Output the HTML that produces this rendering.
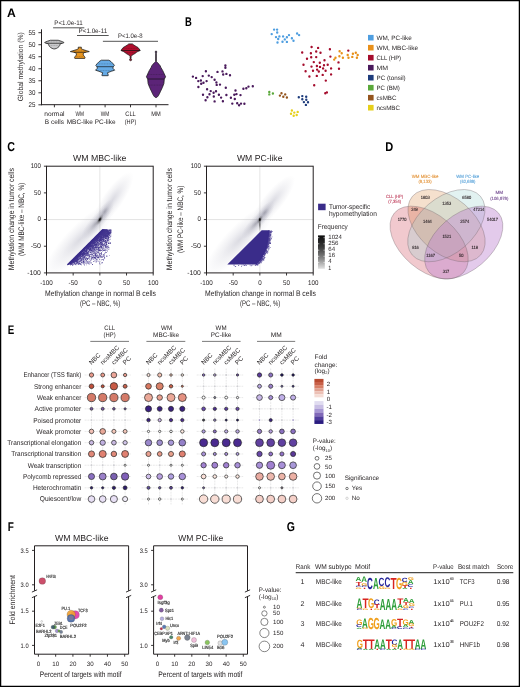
<!DOCTYPE html>
<html><head><meta charset="utf-8"><style>
html,body{margin:0;padding:0;background:#fff;}
svg{display:block;will-change:transform;font-family:"Liberation Sans",sans-serif;text-rendering:geometricPrecision;}
</style></head><body>
<svg width="520" height="687" viewBox="0 0 520 687" fill="#231f20">
<rect x="0" y="0" width="520" height="687" fill="#fff"/>
<text x="6.90" y="16.80" font-size="12.21" fill="#000" font-weight="bold" textLength="8.80" lengthAdjust="spacingAndGlyphs" >A</text>
<text x="185.00" y="25.60" font-size="12.65" fill="#000" font-weight="bold" textLength="6.80" lengthAdjust="spacingAndGlyphs" >B</text>
<text x="7.30" y="150.80" font-size="12.94" fill="#000" font-weight="bold" textLength="7.70" lengthAdjust="spacingAndGlyphs" >C</text>
<text x="385.20" y="150.80" font-size="12.65" fill="#000" font-weight="bold" textLength="8.00" lengthAdjust="spacingAndGlyphs" >D</text>
<text x="7.70" y="333.80" font-size="12.5" fill="#000" font-weight="bold" textLength="6.50" lengthAdjust="spacingAndGlyphs" >E</text>
<text x="7.70" y="530.80" font-size="12.65" fill="#000" font-weight="bold" textLength="6.10" lengthAdjust="spacingAndGlyphs" >F</text>
<text x="286.80" y="530.90" font-size="12.79" fill="#000" font-weight="bold" textLength="8.20" lengthAdjust="spacingAndGlyphs" >G</text>
<line x1="41.50" y1="29.30" x2="41.50" y2="105.20" stroke="#231f20" stroke-width="1" />
<line x1="41.00" y1="104.70" x2="168.50" y2="104.70" stroke="#231f20" stroke-width="1" />
<line x1="38.40" y1="32.70" x2="41.50" y2="32.70" stroke="#231f20" stroke-width="0.9" />
<text x="35.40" y="35.10" font-size="7.0" text-anchor="end" textLength="6.90" lengthAdjust="spacingAndGlyphs" >55</text>
<line x1="38.40" y1="44.72" x2="41.50" y2="44.72" stroke="#231f20" stroke-width="0.9" />
<text x="35.40" y="47.12" font-size="7.0" text-anchor="end" textLength="6.90" lengthAdjust="spacingAndGlyphs" >50</text>
<line x1="38.40" y1="56.74" x2="41.50" y2="56.74" stroke="#231f20" stroke-width="0.9" />
<text x="35.40" y="59.14" font-size="7.0" text-anchor="end" textLength="6.90" lengthAdjust="spacingAndGlyphs" >45</text>
<line x1="38.40" y1="68.76" x2="41.50" y2="68.76" stroke="#231f20" stroke-width="0.9" />
<text x="35.40" y="71.16" font-size="7.0" text-anchor="end" textLength="6.90" lengthAdjust="spacingAndGlyphs" >40</text>
<line x1="38.40" y1="80.78" x2="41.50" y2="80.78" stroke="#231f20" stroke-width="0.9" />
<text x="35.40" y="83.18" font-size="7.0" text-anchor="end" textLength="6.90" lengthAdjust="spacingAndGlyphs" >35</text>
<line x1="38.40" y1="92.80" x2="41.50" y2="92.80" stroke="#231f20" stroke-width="0.9" />
<text x="35.40" y="95.20" font-size="7.0" text-anchor="end" textLength="6.90" lengthAdjust="spacingAndGlyphs" >30</text>
<line x1="38.40" y1="104.82" x2="41.50" y2="104.82" stroke="#231f20" stroke-width="0.9" />
<text x="35.40" y="107.22" font-size="7.0" text-anchor="end" textLength="6.90" lengthAdjust="spacingAndGlyphs" >25</text>
<text x="22.80" y="66.70" font-size="7.6" text-anchor="middle" textLength="69.00" lengthAdjust="spacingAndGlyphs" transform="rotate(-90 22.80 66.70)" >Global methylation (%)</text>
<line x1="54.40" y1="104.70" x2="54.40" y2="107.30" stroke="#231f20" stroke-width="0.9" />
<line x1="79.80" y1="104.70" x2="79.80" y2="107.30" stroke="#231f20" stroke-width="0.9" />
<line x1="105.10" y1="104.70" x2="105.10" y2="107.30" stroke="#231f20" stroke-width="0.9" />
<line x1="130.50" y1="104.70" x2="130.50" y2="107.30" stroke="#231f20" stroke-width="0.9" />
<line x1="156.00" y1="104.70" x2="156.00" y2="107.30" stroke="#231f20" stroke-width="0.9" />
<text x="54.40" y="116.20" font-size="6.6" text-anchor="middle" textLength="20.30" lengthAdjust="spacingAndGlyphs" >normal</text>
<text x="54.40" y="124.10" font-size="6.6" text-anchor="middle" textLength="19.10" lengthAdjust="spacingAndGlyphs" >B cells</text>
<text x="79.80" y="116.20" font-size="6.6" text-anchor="middle" textLength="8.50" lengthAdjust="spacingAndGlyphs" >WM</text>
<text x="79.80" y="124.10" font-size="6.6" text-anchor="middle" textLength="26.20" lengthAdjust="spacingAndGlyphs" >MBC-like</text>
<text x="105.10" y="116.20" font-size="6.6" text-anchor="middle" textLength="8.50" lengthAdjust="spacingAndGlyphs" >WM</text>
<text x="105.10" y="124.10" font-size="6.6" text-anchor="middle" textLength="20.70" lengthAdjust="spacingAndGlyphs" >PC-like</text>
<text x="130.50" y="116.20" font-size="6.6" text-anchor="middle" textLength="10.50" lengthAdjust="spacingAndGlyphs" >CLL</text>
<text x="130.50" y="124.10" font-size="6.6" text-anchor="middle" textLength="11.50" lengthAdjust="spacingAndGlyphs" >(HP)</text>
<text x="156.00" y="116.20" font-size="6.6" text-anchor="middle" textLength="9.50" lengthAdjust="spacingAndGlyphs" >MM</text>
<line x1="53.10" y1="27.80" x2="84.30" y2="27.80" stroke="#555" stroke-width="1" />
<text x="54.30" y="25.10" font-size="6.5" textLength="28.40" lengthAdjust="spacingAndGlyphs" >P&lt;1.0e-11</text>
<line x1="77.00" y1="35.50" x2="108.70" y2="35.50" stroke="#555" stroke-width="1" />
<text x="78.60" y="32.90" font-size="6.5" textLength="28.60" lengthAdjust="spacingAndGlyphs" >P&lt;1.0e-11</text>
<line x1="102.90" y1="41.30" x2="158.00" y2="41.30" stroke="#555" stroke-width="1" />
<text x="118.00" y="38.30" font-size="6.5" textLength="24.50" lengthAdjust="spacingAndGlyphs" >P&lt;1.0e-8</text>
<path d="M58.20,40.25 L61.30,41.25 L63.90,42.40 L63.70,42.90 L61.30,43.50 L59.90,44.30 L59.70,45.50 L59.00,46.60 L57.80,47.60 L56.50,48.40 L54.90,48.90 L53.70,48.90 L52.10,48.40 L50.80,47.60 L49.60,46.60 L48.90,45.50 L48.70,44.30 L47.30,43.50 L44.90,42.90 L44.70,42.40 L47.30,41.25 L50.40,40.25Z" fill="#c9c9cb" stroke="#1a1a1a" stroke-width="0.75" stroke-linejoin="round"/>
<line x1="46.50" y1="43.30" x2="62.10" y2="43.30" stroke="#111" stroke-width="0.8" opacity="0.85"/>
<line x1="46.33" y1="41.90" x2="62.27" y2="41.90" stroke="#111" stroke-width="0.5" opacity="0.45" stroke-dasharray="1 0.6"/>
<line x1="49.37" y1="45.30" x2="59.23" y2="45.30" stroke="#111" stroke-width="0.5" opacity="0.45" stroke-dasharray="1 0.6"/>
<path d="M81.40,47.20 L81.10,48.60 L82.80,49.50 L86.50,50.70 L89.30,51.60 L84.60,52.50 L83.10,53.70 L83.30,55.10 L84.50,56.50 L85.10,57.80 L84.80,58.40 L74.80,58.40 L74.50,57.80 L75.10,56.50 L76.30,55.10 L76.50,53.70 L75.00,52.50 L70.30,51.60 L73.10,50.70 L76.80,49.50 L78.50,48.60 L78.20,47.20Z" fill="#e8951f" stroke="#1a1a1a" stroke-width="0.75" stroke-linejoin="round"/>
<line x1="73.96" y1="52.30" x2="85.64" y2="52.30" stroke="#111" stroke-width="0.8" opacity="0.85"/>
<line x1="72.98" y1="50.90" x2="86.62" y2="50.90" stroke="#111" stroke-width="0.5" opacity="0.45" stroke-dasharray="1 0.6"/>
<line x1="75.77" y1="56.30" x2="83.83" y2="56.30" stroke="#111" stroke-width="0.5" opacity="0.45" stroke-dasharray="1 0.6"/>
<path d="M108.90,60.20 L111.00,61.60 L112.90,63.50 L114.40,65.30 L113.40,66.70 L112.70,68.10 L114.70,70.20 L111.30,71.30 L107.50,72.70 L107.90,74.10 L108.40,75.20 L108.10,75.70 L102.10,75.70 L101.80,75.20 L102.30,74.10 L102.70,72.70 L98.90,71.30 L95.50,70.20 L97.50,68.10 L96.80,66.70 L95.80,65.30 L97.30,63.50 L99.20,61.60 L101.30,60.20Z" fill="#66abe6" stroke="#1a1a1a" stroke-width="0.75" stroke-linejoin="round"/>
<line x1="96.80" y1="66.70" x2="113.40" y2="66.70" stroke="#111" stroke-width="0.8" opacity="0.85"/>
<line x1="97.47" y1="63.90" x2="112.73" y2="63.90" stroke="#111" stroke-width="0.5" opacity="0.45" stroke-dasharray="1 0.6"/>
<line x1="96.62" y1="70.40" x2="113.58" y2="70.40" stroke="#111" stroke-width="0.5" opacity="0.45" stroke-dasharray="1 0.6"/>
<path d="M132.40,43.90 L133.80,45.00 L136.20,46.50 L138.00,47.50 L139.20,49.00 L140.20,50.50 L137.80,51.50 L136.20,52.50 L135.00,53.50 L133.20,54.50 L131.70,55.50 L131.10,56.50 L131.00,58.80 L131.60,59.50 L131.50,60.30 L130.70,60.70 L130.50,60.70 L129.70,60.30 L129.60,59.50 L130.20,58.80 L130.10,56.50 L129.50,55.50 L128.00,54.50 L126.20,53.50 L125.00,52.50 L123.40,51.50 L121.00,50.50 L122.00,49.00 L123.20,47.50 L125.00,46.50 L127.40,45.00 L128.80,43.90Z" fill="#b10f2e" stroke="#1a1a1a" stroke-width="0.75" stroke-linejoin="round"/>
<line x1="121.00" y1="50.50" x2="140.20" y2="50.50" stroke="#111" stroke-width="0.8" opacity="0.85"/>
<line x1="123.06" y1="48.30" x2="138.14" y2="48.30" stroke="#111" stroke-width="0.5" opacity="0.45" stroke-dasharray="1 0.6"/>
<line x1="125.62" y1="52.60" x2="135.58" y2="52.60" stroke="#111" stroke-width="0.5" opacity="0.45" stroke-dasharray="1 0.6"/>
<path d="M156.60,51.20 L156.70,52.20 L156.30,53.20 L156.35,61.50 L157.40,62.60 L159.00,64.20 L160.20,65.80 L161.00,67.70 L162.80,70.70 L165.60,76.80 L164.30,79.20 L163.90,83.60 L162.40,87.40 L160.60,91.20 L159.40,93.80 L158.30,95.80 L157.20,97.10 L156.20,97.60 L155.80,97.60 L154.80,97.10 L153.70,95.80 L152.60,93.80 L151.40,91.20 L149.60,87.40 L148.10,83.60 L147.70,79.20 L146.40,76.80 L149.20,70.70 L151.00,67.70 L151.80,65.80 L153.00,64.20 L154.60,62.60 L155.65,61.50 L155.70,53.20 L155.30,52.20 L155.40,51.20Z" fill="#5c2478" stroke="#1a1a1a" stroke-width="0.75" stroke-linejoin="round"/>
<line x1="147.59" y1="79.00" x2="164.41" y2="79.00" stroke="#111" stroke-width="0.8" opacity="0.85"/>
<line x1="147.96" y1="74.50" x2="164.04" y2="74.50" stroke="#111" stroke-width="0.5" opacity="0.45" stroke-dasharray="1 0.6"/>
<line x1="149.19" y1="85.10" x2="162.81" y2="85.10" stroke="#111" stroke-width="0.5" opacity="0.45" stroke-dasharray="1 0.6"/>
<path d="M224.2,65.4a1.2,1.2 0 1,0 2.4,0a1.2,1.2 0 1,0 -2.4,0M224.2,67.7a1.2,1.2 0 1,0 2.4,0a1.2,1.2 0 1,0 -2.4,0M204.7,71.2a1.2,1.2 0 1,0 2.4,0a1.2,1.2 0 1,0 -2.4,0M216.3,71.9a1.2,1.2 0 1,0 2.4,0a1.2,1.2 0 1,0 -2.4,0M221.3,71.4a1.2,1.2 0 1,0 2.4,0a1.2,1.2 0 1,0 -2.4,0M222.0,74.5a1.2,1.2 0 1,0 2.4,0a1.2,1.2 0 1,0 -2.4,0M225.2,73.9a1.2,1.2 0 1,0 2.4,0a1.2,1.2 0 1,0 -2.4,0M228.8,75.3a1.2,1.2 0 1,0 2.4,0a1.2,1.2 0 1,0 -2.4,0M191.7,76.6a1.2,1.2 0 1,0 2.4,0a1.2,1.2 0 1,0 -2.4,0M194.9,77.9a1.2,1.2 0 1,0 2.4,0a1.2,1.2 0 1,0 -2.4,0M201.5,76.1a1.2,1.2 0 1,0 2.4,0a1.2,1.2 0 1,0 -2.4,0M207.6,75.6a1.2,1.2 0 1,0 2.4,0a1.2,1.2 0 1,0 -2.4,0M210.5,77.1a1.2,1.2 0 1,0 2.4,0a1.2,1.2 0 1,0 -2.4,0M197.1,81.1a1.2,1.2 0 1,0 2.4,0a1.2,1.2 0 1,0 -2.4,0M199.7,80.5a1.2,1.2 0 1,0 2.4,0a1.2,1.2 0 1,0 -2.4,0M205.4,81.1a1.2,1.2 0 1,0 2.4,0a1.2,1.2 0 1,0 -2.4,0M213.4,79.8a1.2,1.2 0 1,0 2.4,0a1.2,1.2 0 1,0 -2.4,0M200.0,83.8a1.2,1.2 0 1,0 2.4,0a1.2,1.2 0 1,0 -2.4,0M202.3,82.8a1.2,1.2 0 1,0 2.4,0a1.2,1.2 0 1,0 -2.4,0M215.2,82.4a1.2,1.2 0 1,0 2.4,0a1.2,1.2 0 1,0 -2.4,0M215.5,84.9a1.2,1.2 0 1,0 2.4,0a1.2,1.2 0 1,0 -2.4,0M218.8,84.6a1.2,1.2 0 1,0 2.4,0a1.2,1.2 0 1,0 -2.4,0M197.2,87.0a1.2,1.2 0 1,0 2.4,0a1.2,1.2 0 1,0 -2.4,0M205.9,89.2a1.2,1.2 0 1,0 2.4,0a1.2,1.2 0 1,0 -2.4,0M224.6,87.7a1.2,1.2 0 1,0 2.4,0a1.2,1.2 0 1,0 -2.4,0M209.5,91.1a1.2,1.2 0 1,0 2.4,0a1.2,1.2 0 1,0 -2.4,0M212.4,92.8a1.2,1.2 0 1,0 2.4,0a1.2,1.2 0 1,0 -2.4,0M214.8,91.3a1.2,1.2 0 1,0 2.4,0a1.2,1.2 0 1,0 -2.4,0M201.8,94.7a1.2,1.2 0 1,0 2.4,0a1.2,1.2 0 1,0 -2.4,0M208.3,94.2a1.2,1.2 0 1,0 2.4,0a1.2,1.2 0 1,0 -2.4,0M217.7,94.7a1.2,1.2 0 1,0 2.4,0a1.2,1.2 0 1,0 -2.4,0M225.2,95.0a1.2,1.2 0 1,0 2.4,0a1.2,1.2 0 1,0 -2.4,0M206.2,97.3a1.2,1.2 0 1,0 2.4,0a1.2,1.2 0 1,0 -2.4,0M212.6,96.5a1.2,1.2 0 1,0 2.4,0a1.2,1.2 0 1,0 -2.4,0M219.9,97.6a1.2,1.2 0 1,0 2.4,0a1.2,1.2 0 1,0 -2.4,0M204.4,100.3a1.2,1.2 0 1,0 2.4,0a1.2,1.2 0 1,0 -2.4,0M213.4,101.4a1.2,1.2 0 1,0 2.4,0a1.2,1.2 0 1,0 -2.4,0M221.7,101.2a1.2,1.2 0 1,0 2.4,0a1.2,1.2 0 1,0 -2.4,0M229.7,97.8a1.2,1.2 0 1,0 2.4,0a1.2,1.2 0 1,0 -2.4,0M233.6,99.0a1.2,1.2 0 1,0 2.4,0a1.2,1.2 0 1,0 -2.4,0M234.3,90.5a1.2,1.2 0 1,0 2.4,0a1.2,1.2 0 1,0 -2.4,0M233.1,94.7a1.2,1.2 0 1,0 2.4,0a1.2,1.2 0 1,0 -2.4,0M235.3,94.1a1.2,1.2 0 1,0 2.4,0a1.2,1.2 0 1,0 -2.4,0M239.3,95.1a1.2,1.2 0 1,0 2.4,0a1.2,1.2 0 1,0 -2.4,0M242.2,88.8a1.2,1.2 0 1,0 2.4,0a1.2,1.2 0 1,0 -2.4,0M245.1,88.2a1.2,1.2 0 1,0 2.4,0a1.2,1.2 0 1,0 -2.4,0M247.3,86.6a1.2,1.2 0 1,0 2.4,0a1.2,1.2 0 1,0 -2.4,0M251.6,86.3a1.2,1.2 0 1,0 2.4,0a1.2,1.2 0 1,0 -2.4,0M231.1,103.6a1.2,1.2 0 1,0 2.4,0a1.2,1.2 0 1,0 -2.4,0M236.0,103.3a1.2,1.2 0 1,0 2.4,0a1.2,1.2 0 1,0 -2.4,0M237.9,105.2a1.2,1.2 0 1,0 2.4,0a1.2,1.2 0 1,0 -2.4,0M239.8,103.6a1.2,1.2 0 1,0 2.4,0a1.2,1.2 0 1,0 -2.4,0M243.2,103.8a1.2,1.2 0 1,0 2.4,0a1.2,1.2 0 1,0 -2.4,0" fill="#4a1a5c"/>
<path d="M272.9,29.6a1.2,1.2 0 1,0 2.4,0a1.2,1.2 0 1,0 -2.4,0M275.9,29.6a1.2,1.2 0 1,0 2.4,0a1.2,1.2 0 1,0 -2.4,0M276.0,32.5a1.2,1.2 0 1,0 2.4,0a1.2,1.2 0 1,0 -2.4,0M270.5,34.1a1.2,1.2 0 1,0 2.4,0a1.2,1.2 0 1,0 -2.4,0M274.8,37.1a1.2,1.2 0 1,0 2.4,0a1.2,1.2 0 1,0 -2.4,0M278.2,36.4a1.2,1.2 0 1,0 2.4,0a1.2,1.2 0 1,0 -2.4,0M277.0,39.0a1.2,1.2 0 1,0 2.4,0a1.2,1.2 0 1,0 -2.4,0M276.3,42.5a1.2,1.2 0 1,0 2.4,0a1.2,1.2 0 1,0 -2.4,0M281.9,36.4a1.2,1.2 0 1,0 2.4,0a1.2,1.2 0 1,0 -2.4,0M285.7,37.3a1.2,1.2 0 1,0 2.4,0a1.2,1.2 0 1,0 -2.4,0M287.8,35.1a1.2,1.2 0 1,0 2.4,0a1.2,1.2 0 1,0 -2.4,0M283.6,39.4a1.2,1.2 0 1,0 2.4,0a1.2,1.2 0 1,0 -2.4,0M281.3,41.8a1.2,1.2 0 1,0 2.4,0a1.2,1.2 0 1,0 -2.4,0M285.7,41.9a1.2,1.2 0 1,0 2.4,0a1.2,1.2 0 1,0 -2.4,0M290.7,38.3a1.2,1.2 0 1,0 2.4,0a1.2,1.2 0 1,0 -2.4,0M292.3,40.8a1.2,1.2 0 1,0 2.4,0a1.2,1.2 0 1,0 -2.4,0M295.9,33.5a1.2,1.2 0 1,0 2.4,0a1.2,1.2 0 1,0 -2.4,0M297.9,35.1a1.2,1.2 0 1,0 2.4,0a1.2,1.2 0 1,0 -2.4,0" fill="#4f9ee0"/>
<path d="M310.4,47.0a1.2,1.2 0 1,0 2.4,0a1.2,1.2 0 1,0 -2.4,0M316.9,47.9a1.2,1.2 0 1,0 2.4,0a1.2,1.2 0 1,0 -2.4,0M328.7,49.3a1.2,1.2 0 1,0 2.4,0a1.2,1.2 0 1,0 -2.4,0M301.0,52.5a1.2,1.2 0 1,0 2.4,0a1.2,1.2 0 1,0 -2.4,0M309.7,53.3a1.2,1.2 0 1,0 2.4,0a1.2,1.2 0 1,0 -2.4,0M315.0,51.5a1.2,1.2 0 1,0 2.4,0a1.2,1.2 0 1,0 -2.4,0M319.3,52.7a1.2,1.2 0 1,0 2.4,0a1.2,1.2 0 1,0 -2.4,0M305.8,58.8a1.2,1.2 0 1,0 2.4,0a1.2,1.2 0 1,0 -2.4,0M310.0,57.3a1.2,1.2 0 1,0 2.4,0a1.2,1.2 0 1,0 -2.4,0M315.0,57.1a1.2,1.2 0 1,0 2.4,0a1.2,1.2 0 1,0 -2.4,0M329.2,56.6a1.2,1.2 0 1,0 2.4,0a1.2,1.2 0 1,0 -2.4,0M323.3,60.2a1.2,1.2 0 1,0 2.4,0a1.2,1.2 0 1,0 -2.4,0M312.6,62.1a1.2,1.2 0 1,0 2.4,0a1.2,1.2 0 1,0 -2.4,0M318.6,62.8a1.2,1.2 0 1,0 2.4,0a1.2,1.2 0 1,0 -2.4,0M302.3,64.7a1.2,1.2 0 1,0 2.4,0a1.2,1.2 0 1,0 -2.4,0M310.3,66.6a1.2,1.2 0 1,0 2.4,0a1.2,1.2 0 1,0 -2.4,0M315.7,66.0a1.2,1.2 0 1,0 2.4,0a1.2,1.2 0 1,0 -2.4,0M318.8,66.9a1.2,1.2 0 1,0 2.4,0a1.2,1.2 0 1,0 -2.4,0M322.8,65.2a1.2,1.2 0 1,0 2.4,0a1.2,1.2 0 1,0 -2.4,0M326.5,64.8a1.2,1.2 0 1,0 2.4,0a1.2,1.2 0 1,0 -2.4,0M337.3,62.4a1.2,1.2 0 1,0 2.4,0a1.2,1.2 0 1,0 -2.4,0M321.9,68.4a1.2,1.2 0 1,0 2.4,0a1.2,1.2 0 1,0 -2.4,0M329.9,68.4a1.2,1.2 0 1,0 2.4,0a1.2,1.2 0 1,0 -2.4,0M337.8,68.8a1.2,1.2 0 1,0 2.4,0a1.2,1.2 0 1,0 -2.4,0M304.4,71.3a1.2,1.2 0 1,0 2.4,0a1.2,1.2 0 1,0 -2.4,0M311.8,70.8a1.2,1.2 0 1,0 2.4,0a1.2,1.2 0 1,0 -2.4,0M315.9,69.6a1.2,1.2 0 1,0 2.4,0a1.2,1.2 0 1,0 -2.4,0M317.6,71.5a1.2,1.2 0 1,0 2.4,0a1.2,1.2 0 1,0 -2.4,0M324.4,70.8a1.2,1.2 0 1,0 2.4,0a1.2,1.2 0 1,0 -2.4,0M308.2,76.5a1.2,1.2 0 1,0 2.4,0a1.2,1.2 0 1,0 -2.4,0M315.6,75.9a1.2,1.2 0 1,0 2.4,0a1.2,1.2 0 1,0 -2.4,0M321.5,74.9a1.2,1.2 0 1,0 2.4,0a1.2,1.2 0 1,0 -2.4,0M329.9,74.4a1.2,1.2 0 1,0 2.4,0a1.2,1.2 0 1,0 -2.4,0M324.6,80.6a1.2,1.2 0 1,0 2.4,0a1.2,1.2 0 1,0 -2.4,0M313.0,85.2a1.2,1.2 0 1,0 2.4,0a1.2,1.2 0 1,0 -2.4,0M324.1,93.2a1.2,1.2 0 1,0 2.4,0a1.2,1.2 0 1,0 -2.4,0M325.7,92.4a1.2,1.2 0 1,0 2.4,0a1.2,1.2 0 1,0 -2.4,0M347.1,50.6a1.2,1.2 0 1,0 2.4,0a1.2,1.2 0 1,0 -2.4,0" fill="#a50d2d"/>
<path d="M338.4,51.2a1.2,1.2 0 1,0 2.4,0a1.2,1.2 0 1,0 -2.4,0M340.5,53.2a1.2,1.2 0 1,0 2.4,0a1.2,1.2 0 1,0 -2.4,0M338.2,56.2a1.2,1.2 0 1,0 2.4,0a1.2,1.2 0 1,0 -2.4,0M341.7,57.7a1.2,1.2 0 1,0 2.4,0a1.2,1.2 0 1,0 -2.4,0M334.3,57.8a1.2,1.2 0 1,0 2.4,0a1.2,1.2 0 1,0 -2.4,0M333.0,59.6a1.2,1.2 0 1,0 2.4,0a1.2,1.2 0 1,0 -2.4,0M346.5,55.0a1.2,1.2 0 1,0 2.4,0a1.2,1.2 0 1,0 -2.4,0M347.3,57.7a1.2,1.2 0 1,0 2.4,0a1.2,1.2 0 1,0 -2.4,0M351.7,53.8a1.2,1.2 0 1,0 2.4,0a1.2,1.2 0 1,0 -2.4,0M351.1,56.9a1.2,1.2 0 1,0 2.4,0a1.2,1.2 0 1,0 -2.4,0M354.6,52.7a1.2,1.2 0 1,0 2.4,0a1.2,1.2 0 1,0 -2.4,0M356.5,55.0a1.2,1.2 0 1,0 2.4,0a1.2,1.2 0 1,0 -2.4,0M355.7,57.7a1.2,1.2 0 1,0 2.4,0a1.2,1.2 0 1,0 -2.4,0" fill="#e8901a"/>
<path d="M268.1,91.9a1.2,1.2 0 1,0 2.4,0a1.2,1.2 0 1,0 -2.4,0M268.1,94.4a1.2,1.2 0 1,0 2.4,0a1.2,1.2 0 1,0 -2.4,0M271.7,93.5a1.2,1.2 0 1,0 2.4,0a1.2,1.2 0 1,0 -2.4,0" fill="#5aa83a"/>
<path d="M280.3,93.2a1.2,1.2 0 1,0 2.4,0a1.2,1.2 0 1,0 -2.4,0M278.7,95.6a1.2,1.2 0 1,0 2.4,0a1.2,1.2 0 1,0 -2.4,0M284.0,94.4a1.2,1.2 0 1,0 2.4,0a1.2,1.2 0 1,0 -2.4,0M282.1,96.8a1.2,1.2 0 1,0 2.4,0a1.2,1.2 0 1,0 -2.4,0M285.7,97.5a1.2,1.2 0 1,0 2.4,0a1.2,1.2 0 1,0 -2.4,0" fill="#94551e"/>
<path d="M297.6,97.3a1.2,1.2 0 1,0 2.4,0a1.2,1.2 0 1,0 -2.4,0M301.1,96.1a1.2,1.2 0 1,0 2.4,0a1.2,1.2 0 1,0 -2.4,0M305.0,96.7a1.2,1.2 0 1,0 2.4,0a1.2,1.2 0 1,0 -2.4,0M301.1,99.2a1.2,1.2 0 1,0 2.4,0a1.2,1.2 0 1,0 -2.4,0M305.1,99.7a1.2,1.2 0 1,0 2.4,0a1.2,1.2 0 1,0 -2.4,0M302.7,102.1a1.2,1.2 0 1,0 2.4,0a1.2,1.2 0 1,0 -2.4,0M306.8,102.3a1.2,1.2 0 1,0 2.4,0a1.2,1.2 0 1,0 -2.4,0M304.7,104.9a1.2,1.2 0 1,0 2.4,0a1.2,1.2 0 1,0 -2.4,0" fill="#1e3c7c"/>
<path d="M290.7,110.5a1.2,1.2 0 1,0 2.4,0a1.2,1.2 0 1,0 -2.4,0M296.5,111.9a1.2,1.2 0 1,0 2.4,0a1.2,1.2 0 1,0 -2.4,0M293.1,112.6a1.2,1.2 0 1,0 2.4,0a1.2,1.2 0 1,0 -2.4,0M289.8,113.7a1.2,1.2 0 1,0 2.4,0a1.2,1.2 0 1,0 -2.4,0M295.5,115.0a1.2,1.2 0 1,0 2.4,0a1.2,1.2 0 1,0 -2.4,0M292.5,115.8a1.2,1.2 0 1,0 2.4,0a1.2,1.2 0 1,0 -2.4,0" fill="#e6cf1a"/>
<rect x="368" y="34.90" width="5.6" height="5.6" fill="#4f9ee0"/>
<text x="376.50" y="39.80" font-size="6.3" textLength="35.30" lengthAdjust="spacingAndGlyphs" >WM, PC-like</text>
<rect x="368" y="44.90" width="5.6" height="5.6" fill="#e8901a"/>
<text x="376.50" y="49.80" font-size="6.3" textLength="41.50" lengthAdjust="spacingAndGlyphs" >WM, MBC-like</text>
<rect x="368" y="54.90" width="5.6" height="5.6" fill="#a50d2d"/>
<text x="376.50" y="59.80" font-size="6.3" textLength="24.60" lengthAdjust="spacingAndGlyphs" >CLL (HP)</text>
<rect x="368" y="64.90" width="5.6" height="5.6" fill="#4a1a5c"/>
<text x="376.50" y="69.80" font-size="6.3" textLength="11.60" lengthAdjust="spacingAndGlyphs" >MM</text>
<rect x="368" y="74.90" width="5.6" height="5.6" fill="#1e3c7c"/>
<text x="376.50" y="79.80" font-size="6.3" textLength="29.20" lengthAdjust="spacingAndGlyphs" >PC (tonsil)</text>
<rect x="368" y="84.90" width="5.6" height="5.6" fill="#5aa83a"/>
<text x="376.50" y="89.80" font-size="6.3" textLength="23.40" lengthAdjust="spacingAndGlyphs" >PC (BM)</text>
<rect x="368" y="94.90" width="5.6" height="5.6" fill="#94551e"/>
<text x="376.50" y="99.80" font-size="6.3" textLength="20.00" lengthAdjust="spacingAndGlyphs" >csMBC</text>
<rect x="368" y="104.90" width="5.6" height="5.6" fill="#e6cf1a"/>
<text x="376.50" y="109.80" font-size="6.3" textLength="23.40" lengthAdjust="spacingAndGlyphs" >ncsMBC</text>
<defs>
<filter id="bl3" x="-50%" y="-50%" width="200%" height="200%"><feGaussianBlur stdDeviation="3"/></filter>
<filter id="bl2" x="-50%" y="-50%" width="200%" height="200%"><feGaussianBlur stdDeviation="1.8"/></filter>
<filter id="bl1" x="-50%" y="-50%" width="200%" height="200%"><feGaussianBlur stdDeviation="0.9"/></filter>
<filter id="bl05" x="-50%" y="-50%" width="200%" height="200%"><feGaussianBlur stdDeviation="0.5"/></filter>
<linearGradient id="freq" x1="0" y1="0" x2="0" y2="1">
<stop offset="0" stop-color="#0c0c0c"/><stop offset="0.35" stop-color="#3a3a3a"/><stop offset="0.7" stop-color="#8a8a8a"/><stop offset="1" stop-color="#e2e2e2"/></linearGradient>
<radialGradient id="gA"><stop offset="0" stop-color="#86869e" stop-opacity="0.30"/><stop offset="0.5" stop-color="#8e8ea6" stop-opacity="0.13"/><stop offset="1" stop-color="#9a9aac" stop-opacity="0"/></radialGradient>
<radialGradient id="gB"><stop offset="0" stop-color="#505064" stop-opacity="0.42"/><stop offset="0.45" stop-color="#6a6a82" stop-opacity="0.18"/><stop offset="1" stop-color="#8a8aa0" stop-opacity="0"/></radialGradient>
<radialGradient id="gC"><stop offset="0" stop-color="#1a1a1a" stop-opacity="0.7"/><stop offset="0.5" stop-color="#333" stop-opacity="0.3"/><stop offset="1" stop-color="#555" stop-opacity="0"/></radialGradient>
</defs>
<line x1="99.85" y1="166.20" x2="99.85" y2="272.90" stroke="#d8d8d8" stroke-width="0.7" />
<line x1="46.50" y1="219.55" x2="153.20" y2="219.55" stroke="#d8d8d8" stroke-width="0.7" />
<g clip-path="url(#clipC1)">
<ellipse cx="79.85" cy="239.55" rx="48" ry="14" transform="rotate(-46 79.85 239.55)" fill="url(#gA)"/>
<ellipse cx="112.85" cy="199.55" rx="33" ry="10" transform="rotate(-55 112.85 199.55)" fill="url(#gA)"/>
<ellipse cx="95.85" cy="223.55" rx="21" ry="7" transform="rotate(-49 95.85 223.55)" fill="url(#gB)"/>
<ellipse cx="104.85" cy="211.55" rx="14" ry="6" transform="rotate(-56 104.85 211.55)" fill="url(#gB)"/>
<ellipse cx="99.85" cy="219.55" rx="6.5" ry="2.5" transform="rotate(-60 99.85 219.55)" fill="url(#gC)"/>
<ellipse cx="99.85" cy="219.54999999999998" rx="0.9" ry="2.0" transform="rotate(30 99.85 219.54999999999998)" fill="#000" opacity="0.8" filter="url(#bl05)"/>
</g>
<clipPath id="clipC1"><rect x="46.5" y="166.2" width="106.7" height="106.7"/></clipPath>
<path d="M66.80,264.60 L102.25,229.15 L104.85,229.15 L70.30,264.60Z" fill="#3a2c8a" opacity="0.95"/>
<path d="M69.80,264.60 L104.65,229.15 L106.75,229.15 L73.30,264.60Z" fill="#3a2c8a" opacity="0.35"/>
<path d="M93.8 240.8h0.8v0.8h-0.8zM78.6 261.8h0.9v0.9h-0.9zM100.7 231.4h0.8v0.8h-0.8zM98.0 235.2h0.7v0.7h-0.7zM90.6 253.6h0.9v0.9h-0.9zM81.5 251.9h0.8v0.8h-0.8zM70.9 264.1h0.8v0.8h-0.8zM80.9 258.8h0.9v0.9h-0.9zM77.5 259.3h0.7v0.7h-0.7zM91.5 241.9h0.9v0.9h-0.9zM99.8 232.4h0.7v0.7h-0.7zM94.7 245.4h0.7v0.7h-0.7zM107.8 238.9h0.9v0.9h-0.9zM99.0 254.5h0.7v0.7h-0.7zM89.7 248.8h0.7v0.7h-0.7zM91.7 242.1h0.9v0.9h-0.9zM75.0 259.5h0.9v0.9h-0.9zM101.3 231.9h0.9v0.9h-0.9zM84.0 264.8h0.7v0.7h-0.7zM92.1 250.3h0.7v0.7h-0.7zM106.9 240.5h0.9v0.9h-0.9zM100.0 234.2h0.7v0.7h-0.7zM83.5 248.8h0.7v0.7h-0.7zM94.7 237.3h0.7v0.7h-0.7zM107.0 231.2h0.9v0.9h-0.9zM76.6 255.9h0.8v0.8h-0.8zM76.8 258.0h0.8v0.8h-0.8zM92.4 239.0h0.7v0.7h-0.7zM101.1 238.2h0.9v0.9h-0.9zM82.6 254.0h0.9v0.9h-0.9zM107.5 236.2h0.9v0.9h-0.9zM101.9 236.6h0.7v0.7h-0.7zM96.5 243.8h0.8v0.8h-0.8zM94.4 243.4h0.7v0.7h-0.7zM93.6 242.2h0.7v0.7h-0.7zM82.0 255.6h0.7v0.7h-0.7zM99.2 236.6h0.7v0.7h-0.7zM102.5 229.2h0.9v0.9h-0.9zM105.9 230.9h0.9v0.9h-0.9zM97.6 236.4h0.9v0.9h-0.9zM105.2 236.8h0.7v0.7h-0.7zM99.9 232.7h0.8v0.8h-0.8zM75.1 257.4h0.7v0.7h-0.7zM104.1 229.2h0.8v0.8h-0.8zM96.9 237.5h0.9v0.9h-0.9zM85.1 252.7h0.8v0.8h-0.8zM105.2 230.4h0.9v0.9h-0.9zM90.7 240.9h0.8v0.8h-0.8zM103.3 231.2h0.8v0.8h-0.8zM71.9 262.5h0.9v0.9h-0.9zM91.1 258.4h0.8v0.8h-0.8zM95.6 235.8h0.8v0.8h-0.8zM99.2 240.0h0.7v0.7h-0.7zM102.5 241.5h0.8v0.8h-0.8zM100.5 232.8h0.7v0.7h-0.7zM101.3 234.9h0.8v0.8h-0.8zM84.1 248.7h0.8v0.8h-0.8zM71.1 262.6h0.8v0.8h-0.8zM96.1 246.2h0.7v0.7h-0.7zM76.8 255.2h0.7v0.7h-0.7zM97.6 234.5h0.9v0.9h-0.9zM101.5 232.5h0.7v0.7h-0.7zM78.9 263.7h0.7v0.7h-0.7zM80.0 254.5h0.9v0.9h-0.9zM88.9 243.0h0.7v0.7h-0.7zM86.6 249.0h0.7v0.7h-0.7zM85.0 246.8h0.8v0.8h-0.8zM98.4 246.9h0.7v0.7h-0.7zM101.6 237.7h0.8v0.8h-0.8zM81.4 255.9h0.8v0.8h-0.8zM81.8 250.8h0.8v0.8h-0.8zM102.9 229.6h0.9v0.9h-0.9zM87.3 248.3h0.8v0.8h-0.8zM82.8 261.1h0.8v0.8h-0.8zM80.9 260.0h0.7v0.7h-0.7zM80.4 256.8h0.7v0.7h-0.7zM79.2 252.4h0.8v0.8h-0.8zM94.3 240.1h0.8v0.8h-0.8zM101.0 234.8h0.7v0.7h-0.7zM77.8 253.9h0.8v0.8h-0.8zM98.9 232.7h0.9v0.9h-0.9zM107.7 230.3h0.7v0.7h-0.7zM100.6 237.9h0.9v0.9h-0.9zM83.0 257.6h0.8v0.8h-0.8zM94.5 245.9h0.7v0.7h-0.7zM79.5 258.0h0.9v0.9h-0.9zM104.5 238.0h0.9v0.9h-0.9zM97.3 234.4h0.7v0.7h-0.7zM82.1 252.9h0.8v0.8h-0.8zM79.6 254.9h0.8v0.8h-0.8zM92.9 239.1h0.8v0.8h-0.8zM102.5 232.7h0.9v0.9h-0.9zM102.6 230.6h0.7v0.7h-0.7zM98.5 235.4h0.7v0.7h-0.7zM102.0 233.3h0.8v0.8h-0.8zM102.4 233.1h0.9v0.9h-0.9zM105.8 246.7h0.8v0.8h-0.8zM109.3 230.1h0.9v0.9h-0.9zM75.5 258.2h0.9v0.9h-0.9zM88.9 245.6h0.7v0.7h-0.7zM100.5 245.9h0.9v0.9h-0.9zM99.9 234.6h0.8v0.8h-0.8zM94.8 240.0h0.9v0.9h-0.9zM97.6 233.9h0.8v0.8h-0.8zM105.3 233.5h0.9v0.9h-0.9zM99.5 234.5h0.7v0.7h-0.7zM97.5 237.4h0.8v0.8h-0.8zM98.6 239.3h0.9v0.9h-0.9zM92.1 239.8h0.8v0.8h-0.8zM79.3 255.5h0.8v0.8h-0.8zM101.2 231.5h0.7v0.7h-0.7zM95.5 237.2h0.7v0.7h-0.7zM90.9 241.9h0.8v0.8h-0.8zM82.3 255.3h0.8v0.8h-0.8zM100.4 237.7h0.7v0.7h-0.7zM98.0 238.3h0.7v0.7h-0.7zM106.5 244.3h0.8v0.8h-0.8zM92.2 254.3h0.8v0.8h-0.8zM99.7 232.8h0.9v0.9h-0.9zM104.1 245.5h0.7v0.7h-0.7zM110.1 230.9h0.9v0.9h-0.9zM88.8 248.8h0.7v0.7h-0.7zM80.4 252.7h0.9v0.9h-0.9zM79.6 255.9h0.7v0.7h-0.7zM104.5 235.0h0.8v0.8h-0.8zM102.4 244.4h0.9v0.9h-0.9zM104.4 237.5h0.7v0.7h-0.7zM92.3 241.2h0.8v0.8h-0.8zM83.5 257.4h0.8v0.8h-0.8zM104.1 232.1h0.8v0.8h-0.8zM107.1 250.9h0.7v0.7h-0.7zM105.2 235.4h0.9v0.9h-0.9zM78.5 261.2h0.9v0.9h-0.9zM100.4 236.2h0.8v0.8h-0.8zM71.9 262.3h0.8v0.8h-0.8zM83.3 258.7h0.9v0.9h-0.9zM73.6 261.0h0.8v0.8h-0.8zM99.7 238.8h0.7v0.7h-0.7zM87.9 244.2h0.7v0.7h-0.7zM84.0 248.2h0.7v0.7h-0.7zM70.1 261.6h0.7v0.7h-0.7zM101.4 230.5h0.9v0.9h-0.9zM99.9 255.5h0.9v0.9h-0.9zM108.2 232.5h0.8v0.8h-0.8zM97.2 240.2h0.7v0.7h-0.7zM86.2 248.2h0.8v0.8h-0.8zM100.6 231.6h0.9v0.9h-0.9zM86.9 253.8h0.8v0.8h-0.8zM101.2 233.0h0.7v0.7h-0.7zM81.5 259.1h0.8v0.8h-0.8zM84.4 249.0h0.8v0.8h-0.8zM96.0 236.8h0.9v0.9h-0.9zM102.0 232.1h0.7v0.7h-0.7zM88.9 243.8h0.8v0.8h-0.8zM85.9 255.2h0.9v0.9h-0.9zM98.7 235.4h0.7v0.7h-0.7zM100.6 231.4h0.8v0.8h-0.8zM94.3 244.3h0.8v0.8h-0.8zM105.8 240.5h0.7v0.7h-0.7zM96.9 237.6h0.8v0.8h-0.8zM103.6 231.0h0.7v0.7h-0.7zM80.5 252.8h0.8v0.8h-0.8zM96.9 242.6h0.9v0.9h-0.9zM80.4 252.5h0.8v0.8h-0.8zM101.3 231.4h0.8v0.8h-0.8zM94.4 241.9h0.9v0.9h-0.9zM97.2 236.8h0.9v0.9h-0.9zM76.8 261.5h0.7v0.7h-0.7zM86.3 254.6h0.7v0.7h-0.7zM100.0 232.2h0.8v0.8h-0.8zM100.9 231.6h0.8v0.8h-0.8zM85.0 251.4h0.9v0.9h-0.9zM74.6 257.8h0.8v0.8h-0.8zM83.1 254.6h0.7v0.7h-0.7zM79.0 253.6h0.8v0.8h-0.8zM108.2 238.1h0.7v0.7h-0.7zM101.7 236.8h0.8v0.8h-0.8zM84.2 253.0h0.9v0.9h-0.9zM92.9 248.9h0.7v0.7h-0.7zM86.3 246.2h0.9v0.9h-0.9zM108.9 231.8h0.8v0.8h-0.8zM101.3 230.6h0.8v0.8h-0.8zM104.2 229.3h0.9v0.9h-0.9zM98.6 233.7h0.7v0.7h-0.7zM84.4 252.0h0.8v0.8h-0.8zM97.0 237.1h0.9v0.9h-0.9zM99.3 253.4h0.8v0.8h-0.8zM104.4 230.5h0.7v0.7h-0.7zM99.9 237.3h0.8v0.8h-0.8zM89.6 242.7h0.9v0.9h-0.9zM77.6 257.8h0.7v0.7h-0.7zM96.9 242.0h0.7v0.7h-0.7zM102.4 239.6h0.8v0.8h-0.8zM84.0 247.8h0.9v0.9h-0.9zM97.0 237.7h0.7v0.7h-0.7zM82.6 249.0h0.9v0.9h-0.9zM98.0 237.2h0.9v0.9h-0.9zM104.0 234.9h0.7v0.7h-0.7zM87.0 252.6h0.8v0.8h-0.8zM87.5 246.6h0.9v0.9h-0.9zM79.6 255.4h0.7v0.7h-0.7zM80.4 255.1h0.7v0.7h-0.7zM85.3 246.7h0.8v0.8h-0.8zM89.9 246.2h0.9v0.9h-0.9zM107.3 233.4h0.8v0.8h-0.8zM79.4 252.7h0.8v0.8h-0.8zM104.3 233.4h0.7v0.7h-0.7zM98.4 235.3h0.7v0.7h-0.7zM87.2 258.2h0.9v0.9h-0.9zM100.4 232.1h0.8v0.8h-0.8zM101.7 248.6h0.8v0.8h-0.8zM102.6 235.8h0.8v0.8h-0.8zM86.6 247.4h0.8v0.8h-0.8zM104.6 234.2h0.7v0.7h-0.7zM96.8 240.0h0.8v0.8h-0.8zM93.5 243.6h0.9v0.9h-0.9zM97.2 235.4h0.8v0.8h-0.8zM102.0 232.2h0.8v0.8h-0.8zM102.7 229.6h0.9v0.9h-0.9zM99.8 232.9h0.9v0.9h-0.9zM104.3 232.8h0.8v0.8h-0.8zM101.7 233.9h0.8v0.8h-0.8zM93.3 240.1h0.9v0.9h-0.9zM103.0 233.0h0.7v0.7h-0.7zM97.3 239.7h0.8v0.8h-0.8zM100.5 232.4h0.8v0.8h-0.8zM79.2 255.4h0.8v0.8h-0.8zM98.6 241.0h0.8v0.8h-0.8zM95.7 236.6h0.7v0.7h-0.7zM90.8 257.1h0.7v0.7h-0.7zM96.4 236.6h0.8v0.8h-0.8zM103.5 231.5h0.7v0.7h-0.7zM72.0 260.6h0.8v0.8h-0.8zM88.5 243.4h0.7v0.7h-0.7zM88.2 252.4h0.8v0.8h-0.8zM91.8 242.3h0.8v0.8h-0.8zM98.2 237.9h0.7v0.7h-0.7zM94.7 239.0h0.9v0.9h-0.9zM106.7 246.1h0.8v0.8h-0.8zM94.0 237.9h0.8v0.8h-0.8zM88.6 246.8h0.8v0.8h-0.8zM100.6 232.2h0.9v0.9h-0.9zM103.9 235.7h0.7v0.7h-0.7zM104.1 236.5h0.8v0.8h-0.8zM96.1 244.5h0.9v0.9h-0.9zM101.5 262.7h0.8v0.8h-0.8zM91.4 249.7h0.9v0.9h-0.9zM99.6 263.8h0.8v0.8h-0.8zM100.6 234.7h0.7v0.7h-0.7zM101.3 252.2h0.7v0.7h-0.7zM88.4 247.3h0.8v0.8h-0.8zM99.8 233.9h0.9v0.9h-0.9zM102.6 229.8h0.8v0.8h-0.8zM93.0 240.1h0.9v0.9h-0.9zM77.0 262.0h0.7v0.7h-0.7zM68.1 263.6h0.9v0.9h-0.9zM80.5 252.4h0.8v0.8h-0.8zM85.3 253.0h0.8v0.8h-0.8zM95.5 240.4h0.8v0.8h-0.8zM79.4 263.0h0.9v0.9h-0.9zM104.6 238.1h0.7v0.7h-0.7zM73.8 259.9h0.8v0.8h-0.8zM96.1 235.4h0.7v0.7h-0.7zM89.5 246.0h0.9v0.9h-0.9zM91.9 242.4h0.8v0.8h-0.8zM97.7 247.2h0.7v0.7h-0.7zM98.3 255.9h0.7v0.7h-0.7zM88.8 247.8h0.8v0.8h-0.8zM86.0 250.2h0.9v0.9h-0.9zM102.7 229.6h0.7v0.7h-0.7zM98.5 233.6h0.7v0.7h-0.7zM78.7 255.3h0.7v0.7h-0.7zM93.6 240.9h0.9v0.9h-0.9zM104.7 233.5h0.9v0.9h-0.9zM79.0 256.2h0.8v0.8h-0.8zM103.9 230.8h0.7v0.7h-0.7zM78.6 258.6h0.8v0.8h-0.8zM98.5 252.2h0.7v0.7h-0.7zM83.4 250.0h0.8v0.8h-0.8zM84.1 254.2h0.8v0.8h-0.8zM101.9 233.0h0.9v0.9h-0.9zM96.1 241.5h0.8v0.8h-0.8zM106.2 243.6h0.7v0.7h-0.7zM86.3 247.8h0.9v0.9h-0.9zM76.3 260.1h0.7v0.7h-0.7zM100.9 233.4h0.9v0.9h-0.9zM80.6 251.0h0.9v0.9h-0.9zM93.0 248.7h0.9v0.9h-0.9zM88.4 244.3h0.7v0.7h-0.7zM79.3 262.8h0.9v0.9h-0.9zM84.4 250.1h0.9v0.9h-0.9zM97.7 246.7h0.8v0.8h-0.8zM99.5 232.3h0.9v0.9h-0.9zM98.7 234.3h0.8v0.8h-0.8zM100.4 239.0h0.8v0.8h-0.8zM83.5 250.1h0.7v0.7h-0.7zM91.0 242.1h0.9v0.9h-0.9zM87.5 245.3h0.9v0.9h-0.9zM97.6 236.0h0.7v0.7h-0.7zM79.7 258.8h0.9v0.9h-0.9zM102.8 254.3h0.8v0.8h-0.8zM102.7 230.0h0.9v0.9h-0.9zM103.2 239.7h0.9v0.9h-0.9zM91.2 252.5h0.7v0.7h-0.7zM102.0 230.3h0.8v0.8h-0.8zM86.7 248.5h0.8v0.8h-0.8zM87.2 246.4h0.7v0.7h-0.7zM98.5 257.7h0.7v0.7h-0.7zM105.0 230.1h0.7v0.7h-0.7zM84.8 247.0h0.8v0.8h-0.8zM108.7 247.5h0.8v0.8h-0.8zM102.4 231.2h0.8v0.8h-0.8zM88.2 248.0h0.9v0.9h-0.9zM104.2 231.6h0.8v0.8h-0.8zM75.6 255.9h0.9v0.9h-0.9zM105.2 233.2h0.9v0.9h-0.9zM102.2 229.7h0.7v0.7h-0.7zM106.4 255.8h0.9v0.9h-0.9zM104.4 240.5h0.9v0.9h-0.9zM93.3 240.8h0.8v0.8h-0.8zM97.4 235.8h0.8v0.8h-0.8zM91.0 246.8h0.8v0.8h-0.8zM77.7 263.4h0.7v0.7h-0.7zM101.3 235.3h0.9v0.9h-0.9zM79.0 254.6h0.7v0.7h-0.7zM101.7 262.0h0.7v0.7h-0.7zM87.8 243.7h0.7v0.7h-0.7zM106.8 230.6h0.7v0.7h-0.7zM91.1 241.2h0.7v0.7h-0.7zM70.0 262.4h0.8v0.8h-0.8zM95.5 244.0h0.9v0.9h-0.9zM99.5 240.1h0.9v0.9h-0.9zM102.2 233.3h0.7v0.7h-0.7zM96.0 236.1h0.7v0.7h-0.7zM102.9 237.8h0.8v0.8h-0.8zM99.8 244.8h0.8v0.8h-0.8zM88.3 243.4h0.7v0.7h-0.7zM98.2 236.1h0.7v0.7h-0.7zM73.2 259.3h0.8v0.8h-0.8zM105.7 232.1h0.9v0.9h-0.9zM104.0 229.8h0.9v0.9h-0.9zM100.8 240.0h0.7v0.7h-0.7zM89.8 245.2h0.7v0.7h-0.7zM83.5 248.0h0.7v0.7h-0.7zM97.1 240.5h0.9v0.9h-0.9zM84.5 249.6h0.7v0.7h-0.7zM79.9 252.2h0.7v0.7h-0.7zM81.5 251.6h0.8v0.8h-0.8zM107.1 230.8h0.8v0.8h-0.8zM93.5 245.1h0.7v0.7h-0.7zM87.2 246.7h0.9v0.9h-0.9zM81.9 257.6h0.8v0.8h-0.8zM109.6 233.4h0.8v0.8h-0.8zM91.2 246.6h0.7v0.7h-0.7zM92.3 239.2h0.9v0.9h-0.9zM74.3 259.5h0.9v0.9h-0.9zM100.8 256.3h0.9v0.9h-0.9zM72.2 260.6h0.8v0.8h-0.8zM92.8 243.6h0.8v0.8h-0.8zM74.9 260.0h0.9v0.9h-0.9zM94.5 242.8h0.7v0.7h-0.7zM86.5 263.2h0.8v0.8h-0.8zM104.5 242.6h0.9v0.9h-0.9zM91.1 240.8h0.7v0.7h-0.7zM92.9 251.4h0.9v0.9h-0.9zM96.7 234.9h0.9v0.9h-0.9zM95.6 243.4h0.8v0.8h-0.8zM100.9 231.1h0.9v0.9h-0.9zM102.5 229.6h0.7v0.7h-0.7zM104.4 245.0h0.8v0.8h-0.8zM100.8 237.5h0.7v0.7h-0.7zM73.7 261.6h0.9v0.9h-0.9zM67.1 264.4h0.7v0.7h-0.7zM89.6 250.0h0.7v0.7h-0.7zM101.9 229.5h0.7v0.7h-0.7zM81.5 253.7h0.9v0.9h-0.9zM93.3 242.7h0.7v0.7h-0.7zM103.4 229.2h0.8v0.8h-0.8zM98.6 232.8h0.8v0.8h-0.8zM90.8 262.8h0.8v0.8h-0.8zM82.2 253.8h0.9v0.9h-0.9zM109.9 230.3h0.9v0.9h-0.9zM102.8 232.3h0.8v0.8h-0.8zM101.4 233.0h0.7v0.7h-0.7zM90.4 243.9h0.7v0.7h-0.7zM103.3 234.2h0.7v0.7h-0.7zM107.8 232.9h0.9v0.9h-0.9zM92.8 242.7h0.8v0.8h-0.8zM90.1 245.5h0.7v0.7h-0.7zM105.8 232.7h0.8v0.8h-0.8zM102.6 232.4h0.7v0.7h-0.7zM92.2 247.2h0.9v0.9h-0.9zM96.0 237.0h0.7v0.7h-0.7zM107.2 232.8h0.7v0.7h-0.7zM88.8 243.1h0.7v0.7h-0.7zM99.1 239.3h0.7v0.7h-0.7zM81.5 250.3h0.8v0.8h-0.8zM102.1 233.3h0.8v0.8h-0.8zM93.1 239.1h0.7v0.7h-0.7zM92.5 242.6h0.9v0.9h-0.9zM96.7 236.6h0.7v0.7h-0.7zM92.9 250.6h0.9v0.9h-0.9zM94.6 238.5h0.8v0.8h-0.8zM93.4 255.0h0.8v0.8h-0.8zM91.9 245.8h0.8v0.8h-0.8zM94.9 238.5h0.7v0.7h-0.7zM95.7 240.4h0.8v0.8h-0.8zM77.0 257.8h0.9v0.9h-0.9zM88.0 244.6h0.9v0.9h-0.9zM82.7 254.7h0.7v0.7h-0.7zM97.6 255.4h0.8v0.8h-0.8zM105.1 235.0h0.9v0.9h-0.9zM72.3 260.0h0.8v0.8h-0.8zM102.8 238.4h0.8v0.8h-0.8zM83.5 253.3h0.8v0.8h-0.8zM102.3 236.9h0.8v0.8h-0.8zM103.1 233.0h0.8v0.8h-0.8zM106.4 233.8h0.9v0.9h-0.9zM76.6 258.3h0.9v0.9h-0.9zM92.6 239.0h0.7v0.7h-0.7zM104.3 243.2h0.7v0.7h-0.7zM76.0 257.5h0.8v0.8h-0.8zM108.6 231.7h0.8v0.8h-0.8zM106.2 242.0h0.7v0.7h-0.7zM92.5 241.8h0.8v0.8h-0.8zM96.3 246.4h0.8v0.8h-0.8zM93.8 237.9h0.7v0.7h-0.7zM100.9 259.5h0.8v0.8h-0.8zM98.7 238.9h0.7v0.7h-0.7zM100.0 233.1h0.7v0.7h-0.7zM97.0 244.8h0.7v0.7h-0.7zM93.3 240.6h0.8v0.8h-0.8zM102.1 229.9h0.7v0.7h-0.7zM101.2 238.9h0.9v0.9h-0.9zM98.9 236.4h0.8v0.8h-0.8zM90.3 245.0h0.8v0.8h-0.8zM91.6 245.2h0.8v0.8h-0.8zM105.0 236.3h0.8v0.8h-0.8zM77.0 254.6h0.8v0.8h-0.8zM95.7 241.1h0.9v0.9h-0.9zM89.6 249.0h0.7v0.7h-0.7zM106.1 235.9h0.7v0.7h-0.7zM86.6 247.9h0.9v0.9h-0.9zM108.5 234.4h0.8v0.8h-0.8zM105.7 248.6h0.7v0.7h-0.7zM97.6 256.0h0.7v0.7h-0.7zM103.7 254.4h0.7v0.7h-0.7zM103.3 235.3h0.8v0.8h-0.8zM76.7 260.2h0.9v0.9h-0.9zM94.6 245.2h0.9v0.9h-0.9zM91.2 249.8h0.8v0.8h-0.8zM101.4 238.1h0.7v0.7h-0.7zM111.3 231.7h0.7v0.7h-0.7zM109.9 231.9h0.9v0.9h-0.9zM101.3 248.2h0.8v0.8h-0.8zM98.8 233.5h0.8v0.8h-0.8zM91.8 242.0h0.9v0.9h-0.9zM85.0 254.7h0.9v0.9h-0.9zM95.3 254.4h0.9v0.9h-0.9zM98.9 235.4h0.9v0.9h-0.9zM103.4 234.8h0.9v0.9h-0.9zM76.8 256.0h0.7v0.7h-0.7zM107.5 233.6h0.8v0.8h-0.8zM92.8 239.7h0.8v0.8h-0.8zM71.2 262.4h0.7v0.7h-0.7zM93.2 246.2h0.9v0.9h-0.9zM95.8 241.0h0.9v0.9h-0.9zM100.7 240.4h0.9v0.9h-0.9zM89.6 245.9h0.7v0.7h-0.7zM95.7 247.7h0.8v0.8h-0.8zM102.9 236.7h0.8v0.8h-0.8zM101.7 238.9h0.7v0.7h-0.7zM77.4 255.2h0.7v0.7h-0.7zM70.6 263.8h0.7v0.7h-0.7zM101.4 250.0h0.8v0.8h-0.8zM100.4 233.8h0.9v0.9h-0.9zM99.3 233.0h0.9v0.9h-0.9zM71.2 261.2h0.9v0.9h-0.9zM77.8 255.8h0.7v0.7h-0.7zM76.1 256.9h0.9v0.9h-0.9zM108.0 246.6h0.8v0.8h-0.8zM103.9 230.8h0.7v0.7h-0.7zM95.9 259.1h0.7v0.7h-0.7zM82.8 252.3h0.7v0.7h-0.7zM80.2 251.8h0.8v0.8h-0.8zM96.3 235.7h0.8v0.8h-0.8zM99.5 244.6h0.8v0.8h-0.8zM104.5 230.3h0.7v0.7h-0.7zM106.0 229.9h0.9v0.9h-0.9zM94.6 255.7h0.7v0.7h-0.7zM90.3 241.4h0.7v0.7h-0.7zM91.1 240.6h0.9v0.9h-0.9zM103.5 231.2h0.8v0.8h-0.8zM100.3 240.3h0.8v0.8h-0.8zM100.1 234.6h0.7v0.7h-0.7zM99.3 234.4h0.9v0.9h-0.9zM92.2 254.1h0.8v0.8h-0.8zM103.7 254.9h0.9v0.9h-0.9zM101.7 231.1h0.7v0.7h-0.7zM94.8 237.4h0.7v0.7h-0.7zM87.5 261.1h0.8v0.8h-0.8zM95.3 243.5h0.8v0.8h-0.8zM88.7 263.8h0.8v0.8h-0.8zM103.4 230.3h0.7v0.7h-0.7zM97.9 248.0h0.7v0.7h-0.7zM77.0 260.7h0.8v0.8h-0.8zM91.3 254.5h0.7v0.7h-0.7zM96.5 251.7h0.7v0.7h-0.7zM81.3 253.3h0.7v0.7h-0.7zM75.1 256.9h0.7v0.7h-0.7zM92.1 244.2h0.9v0.9h-0.9zM82.8 251.5h0.7v0.7h-0.7zM88.6 244.8h0.7v0.7h-0.7zM95.0 237.5h0.7v0.7h-0.7zM102.9 244.3h0.9v0.9h-0.9zM96.4 244.3h0.9v0.9h-0.9zM103.9 232.6h0.7v0.7h-0.7zM85.9 245.7h0.8v0.8h-0.8zM105.8 230.9h0.8v0.8h-0.8zM76.4 258.6h0.7v0.7h-0.7zM106.0 235.5h0.9v0.9h-0.9zM75.9 256.8h0.7v0.7h-0.7zM92.6 239.0h0.8v0.8h-0.8zM107.6 231.2h0.8v0.8h-0.8zM101.4 230.3h0.8v0.8h-0.8zM84.0 257.1h0.9v0.9h-0.9zM80.0 260.0h0.8v0.8h-0.8zM83.0 248.6h0.8v0.8h-0.8zM77.7 254.2h0.7v0.7h-0.7zM88.6 248.0h0.7v0.7h-0.7zM90.2 247.6h0.8v0.8h-0.8zM102.1 243.4h0.9v0.9h-0.9zM90.2 244.4h0.7v0.7h-0.7zM96.8 237.9h0.8v0.8h-0.8zM72.7 260.1h0.7v0.7h-0.7zM91.3 248.8h0.7v0.7h-0.7zM92.1 244.9h0.9v0.9h-0.9zM83.1 259.6h0.8v0.8h-0.8zM97.9 236.5h0.8v0.8h-0.8zM91.9 250.3h0.8v0.8h-0.8zM98.6 232.9h0.8v0.8h-0.8zM90.1 245.7h0.8v0.8h-0.8zM108.0 237.0h0.7v0.7h-0.7zM100.8 254.2h0.9v0.9h-0.9zM88.9 250.8h0.7v0.7h-0.7zM101.0 231.8h0.9v0.9h-0.9zM83.0 255.3h0.8v0.8h-0.8zM89.6 243.2h0.9v0.9h-0.9zM105.4 229.3h0.9v0.9h-0.9zM105.2 230.8h0.8v0.8h-0.8zM93.4 239.9h0.7v0.7h-0.7zM99.9 244.2h0.8v0.8h-0.8zM91.0 245.0h0.7v0.7h-0.7zM102.2 232.5h0.7v0.7h-0.7zM100.6 238.9h0.8v0.8h-0.8zM101.5 236.8h0.7v0.7h-0.7zM93.9 242.9h0.7v0.7h-0.7zM103.3 246.6h0.9v0.9h-0.9zM87.1 261.7h0.8v0.8h-0.8zM104.5 248.6h0.7v0.7h-0.7zM99.7 246.5h0.7v0.7h-0.7zM97.0 234.9h0.8v0.8h-0.8zM96.3 240.3h0.9v0.9h-0.9zM109.1 234.5h0.7v0.7h-0.7zM106.5 237.2h0.8v0.8h-0.8zM84.9 254.2h0.7v0.7h-0.7zM95.9 244.9h0.7v0.7h-0.7zM99.5 240.4h0.9v0.9h-0.9zM99.2 247.2h0.8v0.8h-0.8zM105.9 236.2h0.9v0.9h-0.9zM96.7 235.7h0.8v0.8h-0.8zM71.7 261.7h0.8v0.8h-0.8zM77.5 255.8h0.9v0.9h-0.9zM95.1 238.8h0.8v0.8h-0.8zM101.2 233.3h0.7v0.7h-0.7zM98.3 246.5h0.7v0.7h-0.7zM92.7 241.3h0.7v0.7h-0.7zM106.2 231.6h0.9v0.9h-0.9zM91.5 240.6h0.9v0.9h-0.9zM106.8 230.1h0.9v0.9h-0.9zM104.5 232.9h0.8v0.8h-0.8zM98.5 247.5h0.9v0.9h-0.9zM100.1 234.3h0.9v0.9h-0.9zM101.7 244.1h0.7v0.7h-0.7zM98.6 235.1h0.9v0.9h-0.9zM86.4 248.5h0.8v0.8h-0.8zM100.3 239.4h0.8v0.8h-0.8zM72.9 260.7h0.7v0.7h-0.7zM94.2 239.6h0.8v0.8h-0.8zM85.0 254.6h0.7v0.7h-0.7zM97.6 238.2h0.9v0.9h-0.9zM80.8 256.4h0.9v0.9h-0.9zM75.3 260.9h0.8v0.8h-0.8zM104.2 232.9h0.7v0.7h-0.7zM86.3 250.2h0.9v0.9h-0.9zM96.8 249.4h0.9v0.9h-0.9zM107.3 232.0h0.9v0.9h-0.9zM100.8 240.9h0.8v0.8h-0.8zM94.1 240.9h0.8v0.8h-0.8zM99.8 232.0h0.8v0.8h-0.8zM89.4 244.3h0.9v0.9h-0.9zM99.1 259.1h0.7v0.7h-0.7zM103.4 231.3h0.9v0.9h-0.9zM95.6 253.0h0.7v0.7h-0.7zM96.6 256.5h0.9v0.9h-0.9zM110.3 231.5h0.7v0.7h-0.7zM73.9 258.6h0.7v0.7h-0.7zM87.5 246.1h0.7v0.7h-0.7zM86.8 248.8h0.9v0.9h-0.9zM100.5 233.4h0.8v0.8h-0.8zM94.5 237.6h0.9v0.9h-0.9zM105.3 231.5h0.7v0.7h-0.7zM74.0 258.2h0.7v0.7h-0.7zM106.9 236.3h0.7v0.7h-0.7zM94.3 238.5h0.8v0.8h-0.8zM72.7 260.7h0.9v0.9h-0.9zM96.3 241.5h0.9v0.9h-0.9zM100.8 244.2h0.9v0.9h-0.9zM97.8 249.1h0.9v0.9h-0.9zM103.1 236.8h0.9v0.9h-0.9zM76.4 257.6h0.8v0.8h-0.8zM106.7 231.9h0.7v0.7h-0.7zM100.2 245.6h0.9v0.9h-0.9zM98.3 238.2h0.9v0.9h-0.9zM92.4 242.1h0.9v0.9h-0.9zM96.5 243.4h0.7v0.7h-0.7zM106.9 235.3h0.8v0.8h-0.8zM103.4 233.3h0.9v0.9h-0.9zM103.3 235.9h0.9v0.9h-0.9zM98.8 239.5h0.8v0.8h-0.8zM93.9 244.4h0.9v0.9h-0.9zM94.2 247.7h0.9v0.9h-0.9zM99.6 234.3h0.7v0.7h-0.7zM104.4 232.7h0.9v0.9h-0.9zM88.1 254.5h0.7v0.7h-0.7zM108.4 234.1h0.7v0.7h-0.7zM79.9 253.8h0.8v0.8h-0.8zM93.3 238.6h0.8v0.8h-0.8zM102.3 229.5h0.8v0.8h-0.8zM88.8 262.3h0.7v0.7h-0.7zM99.2 262.7h0.8v0.8h-0.8zM82.9 252.1h0.8v0.8h-0.8zM95.0 242.0h0.9v0.9h-0.9zM99.1 241.1h0.8v0.8h-0.8zM103.7 232.1h0.9v0.9h-0.9zM99.1 236.3h0.7v0.7h-0.7zM94.5 250.2h0.7v0.7h-0.7zM92.7 241.1h0.8v0.8h-0.8zM79.3 257.2h0.9v0.9h-0.9zM102.1 247.4h0.7v0.7h-0.7zM76.4 259.0h0.8v0.8h-0.8zM108.9 233.1h0.8v0.8h-0.8zM102.5 236.5h0.9v0.9h-0.9zM105.0 232.8h0.8v0.8h-0.8zM104.6 235.7h0.9v0.9h-0.9zM104.7 235.2h0.8v0.8h-0.8zM96.7 236.6h0.8v0.8h-0.8zM91.4 243.4h0.8v0.8h-0.8zM79.6 259.0h0.7v0.7h-0.7zM95.6 237.1h0.8v0.8h-0.8zM96.3 235.5h0.8v0.8h-0.8zM77.2 259.5h0.7v0.7h-0.7zM71.9 264.6h0.7v0.7h-0.7zM90.5 248.3h0.8v0.8h-0.8zM98.1 236.8h0.8v0.8h-0.8zM102.7 237.1h0.8v0.8h-0.8zM103.1 259.5h0.9v0.9h-0.9zM98.5 236.8h0.7v0.7h-0.7zM94.9 250.1h0.8v0.8h-0.8zM82.9 248.9h0.9v0.9h-0.9zM83.8 248.5h0.7v0.7h-0.7zM102.2 241.0h0.8v0.8h-0.8zM100.9 253.6h0.8v0.8h-0.8zM80.3 251.5h0.9v0.9h-0.9zM88.9 243.0h0.8v0.8h-0.8zM76.9 259.8h0.8v0.8h-0.8zM96.4 251.0h0.7v0.7h-0.7zM92.8 251.0h0.9v0.9h-0.9zM69.3 263.3h0.8v0.8h-0.8zM109.0 232.1h0.9v0.9h-0.9zM77.8 255.8h0.8v0.8h-0.8zM104.2 231.0h0.9v0.9h-0.9zM93.2 242.5h0.7v0.7h-0.7zM95.8 236.2h0.7v0.7h-0.7zM94.5 252.6h0.8v0.8h-0.8zM98.2 239.3h0.9v0.9h-0.9zM98.9 232.9h0.7v0.7h-0.7zM105.4 235.0h0.9v0.9h-0.9zM82.4 249.7h0.7v0.7h-0.7zM105.9 238.4h0.9v0.9h-0.9zM77.0 262.3h0.9v0.9h-0.9zM106.2 233.5h0.9v0.9h-0.9zM108.2 233.8h0.8v0.8h-0.8zM99.8 240.2h0.9v0.9h-0.9zM97.2 254.7h0.8v0.8h-0.8zM87.3 244.3h0.9v0.9h-0.9zM75.1 256.7h0.8v0.8h-0.8zM98.4 234.1h0.7v0.7h-0.7zM75.6 256.0h0.7v0.7h-0.7zM106.3 242.4h0.8v0.8h-0.8zM99.7 233.5h0.7v0.7h-0.7zM98.1 256.9h0.9v0.9h-0.9zM90.0 246.1h0.9v0.9h-0.9zM101.0 232.4h0.9v0.9h-0.9zM81.2 262.1h0.8v0.8h-0.8zM95.4 239.8h0.9v0.9h-0.9zM82.5 259.4h0.9v0.9h-0.9zM90.6 245.4h0.9v0.9h-0.9zM98.8 244.0h0.7v0.7h-0.7zM87.0 246.4h0.7v0.7h-0.7zM83.7 264.2h0.9v0.9h-0.9zM103.0 229.6h0.8v0.8h-0.8zM82.8 256.7h0.8v0.8h-0.8zM97.1 246.0h0.8v0.8h-0.8zM96.8 239.6h0.8v0.8h-0.8zM95.5 241.1h0.8v0.8h-0.8zM86.6 251.0h0.8v0.8h-0.8zM106.5 235.4h0.8v0.8h-0.8zM105.1 246.3h0.7v0.7h-0.7zM99.5 235.2h0.7v0.7h-0.7zM100.0 236.5h0.8v0.8h-0.8zM97.2 236.1h0.7v0.7h-0.7zM81.3 260.5h0.7v0.7h-0.7zM91.4 242.5h0.9v0.9h-0.9zM101.9 262.3h0.8v0.8h-0.8zM90.7 241.4h0.9v0.9h-0.9zM103.3 232.7h0.9v0.9h-0.9zM106.9 230.1h0.7v0.7h-0.7zM99.0 232.9h0.9v0.9h-0.9zM88.6 247.7h0.8v0.8h-0.8zM103.5 229.8h0.7v0.7h-0.7zM105.0 229.2h0.9v0.9h-0.9zM80.6 258.4h0.8v0.8h-0.8zM92.9 256.4h0.9v0.9h-0.9zM100.6 236.7h0.9v0.9h-0.9zM85.9 252.9h0.8v0.8h-0.8zM100.1 233.3h0.8v0.8h-0.8zM104.9 232.4h0.9v0.9h-0.9zM80.8 253.7h0.7v0.7h-0.7zM102.7 230.3h0.8v0.8h-0.8zM75.6 259.3h0.7v0.7h-0.7zM102.7 238.0h0.8v0.8h-0.8zM77.0 258.7h0.9v0.9h-0.9zM99.7 235.0h0.9v0.9h-0.9zM104.4 237.9h0.9v0.9h-0.9zM85.8 246.4h0.8v0.8h-0.8zM71.8 260.2h0.9v0.9h-0.9zM106.8 238.8h0.9v0.9h-0.9zM86.0 247.2h0.7v0.7h-0.7zM94.3 246.9h0.9v0.9h-0.9zM90.7 243.5h0.8v0.8h-0.8zM96.8 239.1h0.7v0.7h-0.7zM83.5 261.1h0.8v0.8h-0.8zM103.7 229.5h0.9v0.9h-0.9zM73.4 261.4h0.8v0.8h-0.8zM104.5 234.1h0.7v0.7h-0.7zM92.5 240.3h0.8v0.8h-0.8zM89.1 256.2h0.7v0.7h-0.7zM107.3 232.5h0.7v0.7h-0.7zM82.5 258.0h0.8v0.8h-0.8zM101.7 230.6h0.9v0.9h-0.9zM92.2 246.8h0.8v0.8h-0.8zM92.4 246.4h0.8v0.8h-0.8zM104.6 234.0h0.9v0.9h-0.9zM101.9 235.1h0.8v0.8h-0.8zM107.5 234.3h0.9v0.9h-0.9zM108.4 236.2h0.8v0.8h-0.8zM97.5 233.9h0.8v0.8h-0.8zM102.6 232.5h0.8v0.8h-0.8zM101.5 231.3h0.9v0.9h-0.9zM96.8 234.9h0.9v0.9h-0.9zM101.3 232.5h0.8v0.8h-0.8zM89.6 246.9h0.9v0.9h-0.9zM98.1 235.9h0.9v0.9h-0.9zM93.2 239.9h0.7v0.7h-0.7zM93.7 240.6h0.8v0.8h-0.8zM81.9 259.7h0.9v0.9h-0.9zM100.9 231.5h0.9v0.9h-0.9zM88.4 255.1h0.8v0.8h-0.8zM78.8 254.7h0.9v0.9h-0.9zM104.1 232.7h0.8v0.8h-0.8zM93.3 239.1h0.9v0.9h-0.9zM101.1 234.7h0.8v0.8h-0.8zM91.9 257.4h0.9v0.9h-0.9zM80.0 252.8h0.7v0.7h-0.7zM78.0 253.7h0.8v0.8h-0.8zM106.4 237.3h0.7v0.7h-0.7zM103.9 233.7h0.7v0.7h-0.7zM85.8 252.9h0.9v0.9h-0.9zM99.3 232.6h0.8v0.8h-0.8zM102.2 230.9h0.9v0.9h-0.9zM89.5 244.0h0.9v0.9h-0.9zM97.2 238.2h0.7v0.7h-0.7zM92.7 254.8h0.8v0.8h-0.8zM93.1 240.3h0.9v0.9h-0.9zM92.2 248.1h0.7v0.7h-0.7zM100.2 234.1h0.8v0.8h-0.8zM98.4 234.3h0.9v0.9h-0.9zM98.1 249.0h0.7v0.7h-0.7zM86.2 255.3h0.7v0.7h-0.7zM71.5 260.3h0.9v0.9h-0.9zM94.0 237.9h0.8v0.8h-0.8zM89.9 246.8h0.8v0.8h-0.8zM73.4 261.6h0.8v0.8h-0.8zM103.7 232.3h0.7v0.7h-0.7zM97.2 239.2h0.8v0.8h-0.8zM93.1 239.0h0.8v0.8h-0.8zM85.9 252.0h0.8v0.8h-0.8zM100.1 233.5h0.9v0.9h-0.9zM95.6 238.9h0.7v0.7h-0.7zM101.9 229.7h0.9v0.9h-0.9zM91.1 240.3h0.8v0.8h-0.8zM104.4 244.1h0.9v0.9h-0.9zM104.5 232.2h0.7v0.7h-0.7zM102.9 239.0h0.9v0.9h-0.9zM78.6 253.2h0.8v0.8h-0.8zM92.1 242.4h0.7v0.7h-0.7zM96.0 241.3h0.8v0.8h-0.8zM105.8 230.2h0.9v0.9h-0.9zM98.8 233.9h0.8v0.8h-0.8zM96.5 239.0h0.7v0.7h-0.7zM85.1 254.3h0.7v0.7h-0.7zM101.0 252.9h0.7v0.7h-0.7zM86.3 245.2h0.8v0.8h-0.8zM93.8 239.6h0.7v0.7h-0.7zM109.8 232.0h0.9v0.9h-0.9zM102.2 229.3h0.8v0.8h-0.8zM106.5 249.8h0.8v0.8h-0.8zM104.0 229.2h0.7v0.7h-0.7zM106.2 244.9h0.7v0.7h-0.7zM71.4 261.4h0.9v0.9h-0.9zM101.1 231.0h0.7v0.7h-0.7zM97.1 235.6h0.9v0.9h-0.9zM102.7 245.5h0.8v0.8h-0.8zM90.1 242.8h0.8v0.8h-0.8zM83.4 249.4h0.8v0.8h-0.8zM82.3 249.3h0.8v0.8h-0.8zM96.4 235.8h0.8v0.8h-0.8zM84.3 247.3h0.9v0.9h-0.9zM100.0 233.4h0.8v0.8h-0.8zM99.4 233.4h0.9v0.9h-0.9zM86.8 246.2h0.9v0.9h-0.9zM106.5 235.7h0.9v0.9h-0.9zM104.8 229.3h0.8v0.8h-0.8zM81.7 251.4h0.7v0.7h-0.7zM99.5 237.0h0.8v0.8h-0.8zM81.6 252.6h0.8v0.8h-0.8zM94.9 257.5h0.8v0.8h-0.8zM103.1 233.0h0.8v0.8h-0.8zM70.6 262.8h0.8v0.8h-0.8zM88.2 251.1h0.9v0.9h-0.9zM96.8 234.7h0.9v0.9h-0.9zM94.4 237.7h0.9v0.9h-0.9zM95.1 253.7h0.7v0.7h-0.7zM98.0 236.0h0.9v0.9h-0.9zM82.5 249.4h0.9v0.9h-0.9zM73.1 261.6h0.9v0.9h-0.9zM103.0 231.6h0.9v0.9h-0.9zM79.7 254.8h0.8v0.8h-0.8zM97.6 235.4h0.9v0.9h-0.9zM102.9 233.9h0.8v0.8h-0.8zM98.8 233.3h0.8v0.8h-0.8zM87.7 246.9h0.8v0.8h-0.8zM76.1 261.8h0.9v0.9h-0.9zM103.9 256.5h0.9v0.9h-0.9zM95.9 243.0h0.7v0.7h-0.7zM105.3 245.9h0.9v0.9h-0.9zM98.2 237.1h0.9v0.9h-0.9zM68.6 264.1h0.7v0.7h-0.7zM99.9 232.5h0.9v0.9h-0.9zM79.5 254.8h0.8v0.8h-0.8zM87.6 247.9h0.8v0.8h-0.8zM105.9 242.7h0.8v0.8h-0.8zM106.5 232.1h0.7v0.7h-0.7zM105.0 231.4h0.7v0.7h-0.7zM101.0 232.1h0.7v0.7h-0.7zM92.4 241.7h0.9v0.9h-0.9zM77.7 255.5h0.9v0.9h-0.9zM92.2 240.3h0.7v0.7h-0.7zM104.4 235.4h0.9v0.9h-0.9zM92.9 243.9h0.7v0.7h-0.7zM73.0 259.0h0.8v0.8h-0.8zM100.2 236.8h0.7v0.7h-0.7zM85.7 259.8h0.9v0.9h-0.9zM100.7 241.6h0.9v0.9h-0.9zM89.1 243.8h0.8v0.8h-0.8zM105.9 231.9h0.9v0.9h-0.9zM93.9 241.5h0.9v0.9h-0.9zM102.0 230.9h0.7v0.7h-0.7zM83.2 254.2h0.9v0.9h-0.9zM96.1 238.5h0.9v0.9h-0.9zM99.8 234.6h0.7v0.7h-0.7zM105.0 229.2h0.7v0.7h-0.7zM71.2 262.6h0.7v0.7h-0.7zM90.9 241.1h0.8v0.8h-0.8zM98.0 261.4h0.7v0.7h-0.7zM85.9 250.0h0.8v0.8h-0.8zM100.8 237.8h0.9v0.9h-0.9zM87.0 247.0h0.8v0.8h-0.8zM85.9 248.8h0.9v0.9h-0.9zM108.1 235.0h0.8v0.8h-0.8zM67.5 264.0h0.7v0.7h-0.7zM91.6 245.0h0.7v0.7h-0.7zM78.0 255.1h0.9v0.9h-0.9zM90.0 248.0h0.8v0.8h-0.8zM97.6 234.0h0.8v0.8h-0.8zM96.2 236.6h0.9v0.9h-0.9zM94.6 246.5h0.9v0.9h-0.9zM99.7 243.0h0.9v0.9h-0.9zM89.6 249.8h0.7v0.7h-0.7zM82.9 251.6h0.9v0.9h-0.9zM81.9 251.3h0.9v0.9h-0.9zM93.0 245.9h0.7v0.7h-0.7zM95.8 237.9h0.9v0.9h-0.9zM102.8 232.4h0.7v0.7h-0.7zM69.3 263.4h0.7v0.7h-0.7zM81.9 254.3h0.9v0.9h-0.9zM80.9 258.3h0.7v0.7h-0.7zM82.5 262.0h0.8v0.8h-0.8zM103.1 236.4h0.7v0.7h-0.7zM88.4 243.7h0.8v0.8h-0.8zM101.8 232.6h0.9v0.9h-0.9zM97.9 235.7h0.8v0.8h-0.8zM74.8 257.7h0.9v0.9h-0.9zM93.8 249.3h0.9v0.9h-0.9zM93.8 257.0h0.9v0.9h-0.9zM72.9 259.4h0.7v0.7h-0.7zM95.7 236.4h0.8v0.8h-0.8zM111.3 229.8h0.7v0.7h-0.7zM85.4 249.5h0.9v0.9h-0.9zM94.0 238.2h0.9v0.9h-0.9zM107.4 235.9h0.9v0.9h-0.9zM96.7 236.7h0.7v0.7h-0.7zM89.8 242.7h0.7v0.7h-0.7zM101.2 240.6h0.9v0.9h-0.9zM75.7 258.1h0.9v0.9h-0.9zM102.3 231.2h0.8v0.8h-0.8zM86.8 245.0h0.8v0.8h-0.8zM106.8 232.5h0.9v0.9h-0.9zM93.4 240.0h0.9v0.9h-0.9zM98.3 234.6h0.9v0.9h-0.9zM73.9 262.8h0.9v0.9h-0.9zM72.8 262.0h0.9v0.9h-0.9zM93.1 239.7h0.9v0.9h-0.9zM76.6 260.8h0.8v0.8h-0.8zM107.4 240.1h0.9v0.9h-0.9zM100.1 238.4h0.8v0.8h-0.8zM99.4 233.7h0.7v0.7h-0.7zM96.2 247.7h0.7v0.7h-0.7zM85.9 255.3h0.7v0.7h-0.7zM106.0 238.6h0.7v0.7h-0.7zM100.3 231.8h0.9v0.9h-0.9zM80.0 255.2h0.8v0.8h-0.8zM77.4 258.9h0.9v0.9h-0.9zM93.5 241.8h0.7v0.7h-0.7zM89.7 244.8h0.8v0.8h-0.8zM92.2 249.1h0.7v0.7h-0.7zM105.8 235.6h0.8v0.8h-0.8zM93.3 241.9h0.8v0.8h-0.8zM98.8 237.8h0.9v0.9h-0.9zM86.0 249.0h0.8v0.8h-0.8zM105.5 236.2h0.8v0.8h-0.8zM87.1 258.8h0.9v0.9h-0.9zM94.9 254.6h0.7v0.7h-0.7zM102.5 231.3h0.9v0.9h-0.9zM101.5 231.5h0.9v0.9h-0.9zM73.8 257.8h0.8v0.8h-0.8zM95.8 236.1h0.9v0.9h-0.9zM90.1 242.7h0.9v0.9h-0.9zM105.3 246.3h0.8v0.8h-0.8zM77.9 254.3h0.9v0.9h-0.9zM89.7 257.9h0.7v0.7h-0.7zM101.5 239.4h0.8v0.8h-0.8zM83.6 249.3h0.8v0.8h-0.8zM102.9 235.6h0.9v0.9h-0.9zM94.5 238.7h0.8v0.8h-0.8zM99.5 232.3h0.8v0.8h-0.8zM80.3 256.5h0.7v0.7h-0.7zM103.3 233.0h0.8v0.8h-0.8zM104.6 237.3h0.8v0.8h-0.8zM99.8 237.6h0.8v0.8h-0.8zM96.8 257.8h0.7v0.7h-0.7zM71.3 260.3h0.8v0.8h-0.8zM83.5 253.7h0.7v0.7h-0.7zM92.0 257.1h0.9v0.9h-0.9zM88.5 250.0h0.7v0.7h-0.7zM99.0 233.1h0.9v0.9h-0.9zM97.9 243.5h0.8v0.8h-0.8zM91.4 240.1h0.9v0.9h-0.9zM82.3 253.3h0.7v0.7h-0.7zM100.9 242.1h0.9v0.9h-0.9zM88.2 248.8h0.9v0.9h-0.9zM100.4 235.0h0.8v0.8h-0.8zM95.3 243.7h0.9v0.9h-0.9zM109.9 232.3h0.9v0.9h-0.9zM108.6 237.1h0.9v0.9h-0.9zM107.6 230.9h0.8v0.8h-0.8zM86.1 246.1h0.8v0.8h-0.8zM95.4 244.7h0.7v0.7h-0.7zM73.4 258.1h0.7v0.7h-0.7zM90.9 245.3h0.9v0.9h-0.9zM85.8 250.7h0.9v0.9h-0.9zM91.8 242.3h0.9v0.9h-0.9zM84.6 253.0h0.7v0.7h-0.7zM89.9 242.8h0.9v0.9h-0.9zM94.6 251.0h0.8v0.8h-0.8zM97.3 235.7h0.8v0.8h-0.8zM104.0 235.2h0.9v0.9h-0.9zM92.0 245.6h0.8v0.8h-0.8zM102.4 248.6h0.9v0.9h-0.9zM100.5 254.9h0.8v0.8h-0.8zM101.8 235.4h0.8v0.8h-0.8zM100.5 232.4h0.8v0.8h-0.8zM90.7 247.4h0.7v0.7h-0.7zM87.2 255.2h0.9v0.9h-0.9zM110.2 229.6h0.9v0.9h-0.9zM102.3 233.0h0.8v0.8h-0.8zM101.4 236.6h0.8v0.8h-0.8zM101.5 230.1h0.7v0.7h-0.7zM93.2 247.3h0.8v0.8h-0.8zM93.9 252.8h0.7v0.7h-0.7zM93.6 240.4h0.9v0.9h-0.9zM91.1 246.2h0.9v0.9h-0.9zM98.1 235.7h0.7v0.7h-0.7zM104.9 246.9h0.9v0.9h-0.9zM81.3 256.3h0.8v0.8h-0.8zM98.8 239.2h0.9v0.9h-0.9zM97.3 238.9h0.7v0.7h-0.7zM103.0 231.9h0.8v0.8h-0.8zM83.8 248.0h0.7v0.7h-0.7zM95.8 239.2h0.7v0.7h-0.7zM102.7 244.9h0.9v0.9h-0.9zM98.5 238.9h0.7v0.7h-0.7zM74.9 263.9h0.9v0.9h-0.9zM102.5 234.8h0.8v0.8h-0.8zM96.2 239.4h0.7v0.7h-0.7zM104.9 231.3h0.7v0.7h-0.7zM106.8 247.6h0.9v0.9h-0.9zM104.5 233.7h0.8v0.8h-0.8zM84.4 250.4h0.9v0.9h-0.9zM69.4 262.2h0.9v0.9h-0.9zM81.5 250.8h0.9v0.9h-0.9zM100.0 233.6h0.7v0.7h-0.7zM103.9 235.3h0.8v0.8h-0.8zM81.6 263.4h0.7v0.7h-0.7zM98.9 239.9h0.8v0.8h-0.8zM73.1 259.2h0.9v0.9h-0.9zM101.7 234.5h0.7v0.7h-0.7zM102.7 231.6h0.8v0.8h-0.8zM80.1 253.7h0.8v0.8h-0.8zM74.7 259.7h0.9v0.9h-0.9zM108.9 234.4h0.8v0.8h-0.8zM102.5 231.4h0.8v0.8h-0.8zM101.3 234.5h0.9v0.9h-0.9zM71.5 263.5h0.8v0.8h-0.8zM100.0 233.9h0.7v0.7h-0.7zM100.8 230.6h0.8v0.8h-0.8zM92.5 240.0h0.9v0.9h-0.9zM103.5 235.4h0.9v0.9h-0.9zM93.6 240.3h0.9v0.9h-0.9zM96.6 238.0h0.8v0.8h-0.8zM93.3 244.0h0.7v0.7h-0.7zM90.3 249.0h0.7v0.7h-0.7zM90.1 243.8h0.7v0.7h-0.7zM71.5 260.3h0.7v0.7h-0.7zM80.2 263.8h0.9v0.9h-0.9zM70.1 262.8h0.7v0.7h-0.7zM87.6 261.5h0.7v0.7h-0.7zM78.9 253.4h0.9v0.9h-0.9zM82.5 255.2h0.9v0.9h-0.9zM98.2 238.2h0.9v0.9h-0.9zM100.9 235.3h0.8v0.8h-0.8zM100.0 231.6h0.7v0.7h-0.7zM109.8 242.2h0.8v0.8h-0.8zM100.2 233.7h0.8v0.8h-0.8zM99.2 233.2h0.9v0.9h-0.9zM82.6 249.5h0.8v0.8h-0.8zM105.7 235.1h0.8v0.8h-0.8zM105.4 238.0h0.7v0.7h-0.7zM104.8 231.3h0.8v0.8h-0.8zM75.7 259.9h0.9v0.9h-0.9zM97.7 244.5h0.7v0.7h-0.7zM101.4 237.6h0.9v0.9h-0.9zM76.1 257.6h0.9v0.9h-0.9zM103.7 232.9h0.7v0.7h-0.7zM92.6 240.6h0.8v0.8h-0.8zM88.5 247.3h0.9v0.9h-0.9zM76.9 255.3h0.9v0.9h-0.9zM72.0 260.7h0.7v0.7h-0.7zM74.8 261.1h0.7v0.7h-0.7zM94.7 253.5h0.8v0.8h-0.8zM92.9 258.5h0.8v0.8h-0.8zM101.3 233.3h0.7v0.7h-0.7zM91.7 240.8h0.9v0.9h-0.9zM96.2 246.4h0.9v0.9h-0.9zM102.5 230.1h0.9v0.9h-0.9zM100.0 232.3h0.8v0.8h-0.8zM100.3 242.3h0.8v0.8h-0.8zM83.5 258.8h0.7v0.7h-0.7zM88.3 244.0h0.7v0.7h-0.7zM87.6 244.3h0.9v0.9h-0.9zM106.0 231.1h0.8v0.8h-0.8zM73.1 260.7h0.8v0.8h-0.8zM86.1 248.9h0.7v0.7h-0.7zM99.5 233.2h0.9v0.9h-0.9zM84.3 253.8h0.7v0.7h-0.7zM83.1 252.7h0.9v0.9h-0.9zM87.4 247.3h0.8v0.8h-0.8zM89.1 242.8h0.9v0.9h-0.9zM82.6 253.0h0.7v0.7h-0.7zM95.6 240.0h0.9v0.9h-0.9zM105.3 245.1h0.9v0.9h-0.9zM101.3 231.0h0.8v0.8h-0.8zM109.7 229.2h0.8v0.8h-0.8zM80.1 252.0h0.7v0.7h-0.7zM97.5 257.0h0.9v0.9h-0.9zM104.1 234.4h0.9v0.9h-0.9zM73.4 258.6h0.7v0.7h-0.7zM99.3 236.4h0.9v0.9h-0.9zM108.0 233.0h0.9v0.9h-0.9zM101.1 232.6h0.8v0.8h-0.8zM101.9 233.6h0.9v0.9h-0.9zM97.2 238.1h0.7v0.7h-0.7zM90.0 249.5h0.9v0.9h-0.9zM88.4 244.2h0.8v0.8h-0.8zM101.5 231.3h0.8v0.8h-0.8zM89.9 246.1h0.9v0.9h-0.9zM104.1 230.3h0.8v0.8h-0.8zM104.2 231.5h0.8v0.8h-0.8zM90.0 243.2h0.9v0.9h-0.9zM78.4 253.2h0.8v0.8h-0.8zM90.8 262.2h0.7v0.7h-0.7zM83.3 255.2h0.9v0.9h-0.9zM72.9 260.8h0.8v0.8h-0.8zM101.5 231.6h0.7v0.7h-0.7zM92.7 258.5h0.9v0.9h-0.9zM91.5 257.7h0.9v0.9h-0.9zM87.3 247.6h0.7v0.7h-0.7zM105.4 231.2h0.8v0.8h-0.8zM101.9 233.2h0.8v0.8h-0.8zM97.1 234.5h0.8v0.8h-0.8zM94.2 239.0h0.8v0.8h-0.8zM73.8 260.5h0.9v0.9h-0.9zM73.6 260.0h0.7v0.7h-0.7zM97.2 239.1h0.8v0.8h-0.8zM86.8 251.7h0.8v0.8h-0.8zM107.5 247.4h0.9v0.9h-0.9zM108.1 238.4h0.8v0.8h-0.8zM108.8 242.8h0.7v0.7h-0.7zM73.5 261.6h0.9v0.9h-0.9zM93.1 242.1h0.9v0.9h-0.9zM104.7 231.9h0.8v0.8h-0.8zM87.3 252.2h0.8v0.8h-0.8zM77.6 259.9h0.9v0.9h-0.9zM99.4 234.0h0.7v0.7h-0.7zM105.2 231.3h0.7v0.7h-0.7zM101.4 232.3h0.7v0.7h-0.7zM107.0 238.6h0.7v0.7h-0.7zM96.9 236.6h0.9v0.9h-0.9zM98.2 237.3h0.8v0.8h-0.8zM100.2 240.1h0.9v0.9h-0.9zM86.5 258.0h0.8v0.8h-0.8zM103.4 230.0h0.8v0.8h-0.8zM99.8 240.2h0.9v0.9h-0.9zM90.6 244.8h0.8v0.8h-0.8zM87.7 253.6h0.9v0.9h-0.9zM80.2 252.3h0.8v0.8h-0.8zM105.0 229.3h0.9v0.9h-0.9zM79.1 252.8h0.8v0.8h-0.8zM104.9 237.3h0.8v0.8h-0.8zM102.6 237.7h0.8v0.8h-0.8zM107.2 232.9h0.7v0.7h-0.7zM97.7 237.7h0.8v0.8h-0.8zM70.2 263.1h0.8v0.8h-0.8zM100.5 232.5h0.7v0.7h-0.7zM82.4 256.1h0.8v0.8h-0.8zM85.1 250.9h0.9v0.9h-0.9zM105.0 233.2h0.7v0.7h-0.7zM109.1 255.4h0.7v0.7h-0.7zM94.4 257.2h0.7v0.7h-0.7zM92.5 239.1h0.9v0.9h-0.9zM97.9 237.6h0.8v0.8h-0.8zM108.2 231.3h0.9v0.9h-0.9zM104.8 233.6h0.8v0.8h-0.8zM104.5 231.1h0.7v0.7h-0.7zM97.1 234.7h0.7v0.7h-0.7zM103.3 231.6h0.8v0.8h-0.8zM77.3 260.5h0.7v0.7h-0.7zM102.1 230.2h0.7v0.7h-0.7zM74.5 262.8h0.7v0.7h-0.7zM91.8 243.2h0.8v0.8h-0.8zM95.9 235.9h0.7v0.7h-0.7zM103.5 231.4h0.8v0.8h-0.8zM95.9 245.1h0.8v0.8h-0.8zM96.1 240.7h0.9v0.9h-0.9zM97.2 235.1h0.7v0.7h-0.7zM82.7 257.7h0.8v0.8h-0.8zM87.8 244.9h0.7v0.7h-0.7zM92.3 239.6h0.7v0.7h-0.7zM84.8 258.0h0.7v0.7h-0.7zM108.0 237.1h0.7v0.7h-0.7zM99.6 237.8h0.8v0.8h-0.8zM79.9 257.5h0.8v0.8h-0.8zM86.8 246.6h0.7v0.7h-0.7zM99.6 235.6h0.7v0.7h-0.7zM92.1 246.5h0.8v0.8h-0.8zM80.2 253.7h0.8v0.8h-0.8zM87.1 252.2h0.8v0.8h-0.8zM88.4 243.1h0.7v0.7h-0.7zM85.5 247.1h0.8v0.8h-0.8zM105.7 230.4h0.8v0.8h-0.8zM93.4 241.7h0.7v0.7h-0.7zM106.8 230.3h0.9v0.9h-0.9zM78.8 258.2h0.8v0.8h-0.8zM86.7 247.7h0.9v0.9h-0.9zM101.3 243.5h0.8v0.8h-0.8zM102.3 232.6h0.9v0.9h-0.9zM88.3 246.9h0.8v0.8h-0.8zM90.0 244.2h0.8v0.8h-0.8zM100.7 242.3h0.9v0.9h-0.9zM86.3 251.5h0.8v0.8h-0.8zM101.7 230.3h0.9v0.9h-0.9zM89.5 245.3h0.8v0.8h-0.8zM89.1 245.6h0.8v0.8h-0.8zM95.9 237.6h0.9v0.9h-0.9zM91.7 242.5h0.9v0.9h-0.9zM83.5 250.5h0.9v0.9h-0.9zM105.5 234.3h0.7v0.7h-0.7zM104.3 231.3h0.8v0.8h-0.8zM99.3 236.1h0.7v0.7h-0.7zM96.2 236.6h0.9v0.9h-0.9zM85.2 246.8h0.7v0.7h-0.7zM89.4 244.0h0.7v0.7h-0.7zM79.7 261.0h0.7v0.7h-0.7zM83.8 262.7h0.9v0.9h-0.9zM87.6 258.0h0.8v0.8h-0.8zM101.1 233.5h0.7v0.7h-0.7zM99.6 238.7h0.8v0.8h-0.8zM102.7 236.4h0.8v0.8h-0.8zM104.1 230.2h0.9v0.9h-0.9zM95.2 237.1h0.7v0.7h-0.7zM102.3 230.8h0.9v0.9h-0.9zM100.8 233.7h0.7v0.7h-0.7zM102.8 229.5h0.9v0.9h-0.9zM93.5 240.1h0.8v0.8h-0.8zM76.3 255.3h0.9v0.9h-0.9zM105.2 230.2h0.8v0.8h-0.8zM106.0 229.5h0.9v0.9h-0.9zM103.5 231.6h0.8v0.8h-0.8zM83.5 251.9h0.7v0.7h-0.7zM100.7 247.3h0.8v0.8h-0.8zM85.5 246.4h0.7v0.7h-0.7zM109.5 230.4h0.8v0.8h-0.8zM99.7 242.4h0.7v0.7h-0.7zM102.4 230.6h0.7v0.7h-0.7zM97.5 242.8h0.9v0.9h-0.9zM86.7 246.2h0.7v0.7h-0.7zM87.6 245.4h0.9v0.9h-0.9zM88.9 263.5h0.7v0.7h-0.7zM87.0 248.8h0.9v0.9h-0.9zM79.4 255.6h0.7v0.7h-0.7zM88.2 244.3h0.7v0.7h-0.7zM100.6 241.7h0.8v0.8h-0.8zM74.1 259.3h0.8v0.8h-0.8zM79.3 254.8h0.7v0.7h-0.7zM81.2 251.1h0.9v0.9h-0.9zM101.1 252.3h0.9v0.9h-0.9zM100.8 236.0h0.7v0.7h-0.7zM78.4 255.9h0.7v0.7h-0.7zM104.8 240.7h0.9v0.9h-0.9zM105.2 231.0h0.8v0.8h-0.8zM96.7 239.3h0.7v0.7h-0.7zM101.2 231.7h0.7v0.7h-0.7zM98.3 233.7h0.7v0.7h-0.7zM100.6 238.3h0.7v0.7h-0.7zM86.8 245.1h0.8v0.8h-0.8zM98.2 237.2h0.9v0.9h-0.9zM107.5 235.5h0.9v0.9h-0.9zM77.0 256.7h0.8v0.8h-0.8zM75.9 256.9h0.8v0.8h-0.8zM98.4 239.2h0.9v0.9h-0.9zM84.5 255.9h0.8v0.8h-0.8zM101.9 258.9h0.9v0.9h-0.9zM92.1 246.7h0.9v0.9h-0.9zM98.1 235.8h0.7v0.7h-0.7zM86.5 251.9h0.9v0.9h-0.9zM91.2 242.8h0.9v0.9h-0.9zM101.0 233.4h0.9v0.9h-0.9zM82.0 250.8h0.7v0.7h-0.7zM95.2 239.8h0.8v0.8h-0.8zM95.5 246.4h0.8v0.8h-0.8zM91.9 241.2h0.9v0.9h-0.9zM80.3 252.5h0.8v0.8h-0.8zM99.5 249.7h0.8v0.8h-0.8zM101.2 240.3h0.8v0.8h-0.8zM95.1 240.4h0.9v0.9h-0.9zM81.2 251.5h0.7v0.7h-0.7zM87.0 244.6h0.9v0.9h-0.9zM89.9 260.3h0.7v0.7h-0.7zM98.3 250.1h0.7v0.7h-0.7zM90.4 243.7h0.9v0.9h-0.9zM90.5 252.3h0.8v0.8h-0.8zM83.5 252.5h0.9v0.9h-0.9zM102.5 256.3h0.7v0.7h-0.7zM89.1 255.0h0.7v0.7h-0.7zM99.6 233.4h0.9v0.9h-0.9zM91.1 240.5h0.9v0.9h-0.9zM108.3 232.6h0.9v0.9h-0.9zM109.5 239.0h0.8v0.8h-0.8zM109.3 230.6h0.8v0.8h-0.8zM82.5 249.6h0.8v0.8h-0.8zM83.2 262.2h0.9v0.9h-0.9zM76.0 256.7h0.9v0.9h-0.9zM105.8 242.0h0.8v0.8h-0.8zM77.3 257.7h0.7v0.7h-0.7zM94.9 243.2h0.8v0.8h-0.8zM99.7 232.0h0.7v0.7h-0.7zM102.6 230.2h0.8v0.8h-0.8zM101.7 236.5h0.8v0.8h-0.8zM77.6 254.0h0.8v0.8h-0.8zM97.5 236.5h0.9v0.9h-0.9zM96.6 236.7h0.7v0.7h-0.7zM88.8 242.8h0.7v0.7h-0.7zM102.3 232.0h0.7v0.7h-0.7zM75.7 256.5h0.8v0.8h-0.8zM109.5 232.8h0.8v0.8h-0.8zM78.2 262.6h0.8v0.8h-0.8zM88.0 246.3h0.8v0.8h-0.8zM103.6 231.0h0.8v0.8h-0.8zM101.5 235.7h0.7v0.7h-0.7zM79.3 252.2h0.7v0.7h-0.7zM73.5 264.2h0.9v0.9h-0.9zM101.9 249.8h0.8v0.8h-0.8zM91.0 243.4h0.8v0.8h-0.8zM100.1 236.1h0.8v0.8h-0.8zM81.3 264.5h0.7v0.7h-0.7zM105.3 240.1h0.7v0.7h-0.7zM93.3 239.6h0.9v0.9h-0.9zM84.7 248.1h0.9v0.9h-0.9zM99.4 232.1h0.9v0.9h-0.9zM103.0 236.8h0.9v0.9h-0.9zM84.1 247.5h0.9v0.9h-0.9zM88.8 243.9h0.9v0.9h-0.9zM97.6 235.3h0.7v0.7h-0.7zM92.3 241.5h0.9v0.9h-0.9zM89.4 254.4h0.8v0.8h-0.8zM101.0 245.5h0.9v0.9h-0.9zM99.2 232.3h0.9v0.9h-0.9zM96.3 238.0h0.7v0.7h-0.7zM104.3 233.5h0.7v0.7h-0.7zM93.9 240.9h0.8v0.8h-0.8zM108.5 240.8h0.8v0.8h-0.8zM78.8 261.1h0.8v0.8h-0.8zM104.0 231.8h0.9v0.9h-0.9zM96.6 235.7h0.9v0.9h-0.9zM102.1 231.2h0.7v0.7h-0.7zM77.3 261.9h0.9v0.9h-0.9zM89.3 245.0h0.7v0.7h-0.7zM105.1 242.2h0.9v0.9h-0.9zM81.7 255.2h0.8v0.8h-0.8zM104.6 235.0h0.8v0.8h-0.8zM90.8 248.2h0.7v0.7h-0.7zM72.3 259.1h0.7v0.7h-0.7zM98.8 232.8h0.7v0.7h-0.7zM95.9 240.7h0.9v0.9h-0.9zM85.3 262.8h0.8v0.8h-0.8zM92.2 248.7h0.9v0.9h-0.9zM80.2 257.4h0.9v0.9h-0.9zM100.2 238.9h0.7v0.7h-0.7zM100.1 237.4h0.7v0.7h-0.7zM97.1 236.4h0.9v0.9h-0.9zM106.3 234.4h0.9v0.9h-0.9zM109.0 230.0h0.9v0.9h-0.9zM95.0 240.7h0.7v0.7h-0.7zM100.5 234.0h0.8v0.8h-0.8zM102.8 233.5h0.7v0.7h-0.7zM99.0 238.0h0.7v0.7h-0.7zM102.0 231.3h0.8v0.8h-0.8zM97.3 251.6h0.9v0.9h-0.9zM90.7 243.7h0.8v0.8h-0.8zM97.6 252.4h0.8v0.8h-0.8zM77.0 257.5h0.7v0.7h-0.7zM77.4 256.8h0.9v0.9h-0.9zM106.5 237.4h0.9v0.9h-0.9zM84.4 248.1h0.9v0.9h-0.9zM103.6 236.0h0.8v0.8h-0.8zM102.8 230.7h0.8v0.8h-0.8zM110.1 242.8h0.9v0.9h-0.9zM102.4 231.6h0.8v0.8h-0.8zM105.3 238.6h0.7v0.7h-0.7zM104.3 243.0h0.9v0.9h-0.9zM97.5 235.4h0.9v0.9h-0.9zM70.4 261.6h0.8v0.8h-0.8zM101.1 232.1h0.7v0.7h-0.7zM78.3 258.8h0.9v0.9h-0.9zM98.2 233.7h0.9v0.9h-0.9zM100.4 231.4h0.7v0.7h-0.7zM88.0 246.1h0.9v0.9h-0.9zM68.1 263.5h0.8v0.8h-0.8zM92.2 240.5h0.9v0.9h-0.9zM95.8 249.2h0.8v0.8h-0.8zM101.2 236.0h0.7v0.7h-0.7zM94.1 242.3h0.9v0.9h-0.9zM95.2 238.5h0.7v0.7h-0.7zM78.5 256.1h0.8v0.8h-0.8zM101.4 231.1h0.9v0.9h-0.9zM96.6 242.4h0.9v0.9h-0.9zM107.4 231.4h0.7v0.7h-0.7zM109.6 238.7h0.9v0.9h-0.9zM103.6 229.6h0.8v0.8h-0.8zM71.5 260.0h0.8v0.8h-0.8zM90.6 246.2h0.7v0.7h-0.7zM107.2 229.7h0.9v0.9h-0.9zM79.7 252.2h0.8v0.8h-0.8zM106.1 233.1h0.7v0.7h-0.7zM98.5 247.3h0.9v0.9h-0.9zM83.9 249.0h0.8v0.8h-0.8zM106.8 230.4h0.8v0.8h-0.8zM100.8 250.1h0.7v0.7h-0.7zM104.4 229.7h0.8v0.8h-0.8zM95.9 246.7h0.7v0.7h-0.7zM102.1 229.9h0.7v0.7h-0.7zM87.3 246.8h0.7v0.7h-0.7zM105.5 246.0h0.7v0.7h-0.7zM95.5 236.3h0.9v0.9h-0.9zM102.3 242.9h0.9v0.9h-0.9zM88.8 245.3h0.9v0.9h-0.9zM108.3 237.1h0.7v0.7h-0.7zM98.4 239.7h0.9v0.9h-0.9zM99.7 234.1h0.9v0.9h-0.9zM78.9 259.9h0.7v0.7h-0.7zM96.9 247.0h0.7v0.7h-0.7zM96.9 235.8h0.7v0.7h-0.7zM79.5 255.2h0.8v0.8h-0.8zM98.9 236.5h0.7v0.7h-0.7zM102.6 232.2h0.9v0.9h-0.9zM74.7 257.8h0.9v0.9h-0.9zM99.4 236.4h0.9v0.9h-0.9zM94.7 243.8h0.7v0.7h-0.7zM90.8 256.6h0.8v0.8h-0.8zM81.7 254.0h0.8v0.8h-0.8zM85.5 250.7h0.8v0.8h-0.8zM85.7 255.2h0.9v0.9h-0.9zM87.7 260.7h0.8v0.8h-0.8zM93.4 245.1h0.9v0.9h-0.9zM103.4 237.2h0.8v0.8h-0.8zM90.5 254.1h0.8v0.8h-0.8zM98.7 243.4h0.8v0.8h-0.8zM97.8 235.4h0.9v0.9h-0.9zM87.7 254.1h0.9v0.9h-0.9zM89.1 244.4h0.8v0.8h-0.8zM105.8 230.1h0.9v0.9h-0.9zM104.8 244.9h0.9v0.9h-0.9zM104.1 237.4h0.7v0.7h-0.7zM75.4 260.6h0.7v0.7h-0.7zM80.5 252.6h0.7v0.7h-0.7zM94.1 248.8h0.8v0.8h-0.8zM105.0 232.2h0.8v0.8h-0.8zM76.2 261.5h0.8v0.8h-0.8zM87.8 262.6h0.7v0.7h-0.7zM100.4 246.7h0.9v0.9h-0.9zM102.6 248.2h0.8v0.8h-0.8zM100.4 233.3h0.7v0.7h-0.7zM96.1 239.1h0.7v0.7h-0.7zM87.7 246.7h0.8v0.8h-0.8zM95.4 244.7h0.9v0.9h-0.9zM95.0 237.0h0.8v0.8h-0.8zM92.3 245.9h0.8v0.8h-0.8zM99.9 242.0h0.7v0.7h-0.7zM101.7 244.9h0.8v0.8h-0.8zM105.0 232.8h0.9v0.9h-0.9zM91.9 244.2h0.7v0.7h-0.7zM106.3 241.6h0.8v0.8h-0.8zM102.4 239.1h0.7v0.7h-0.7zM67.9 264.0h0.9v0.9h-0.9zM107.1 234.6h0.9v0.9h-0.9zM74.9 258.6h0.8v0.8h-0.8zM96.9 237.0h0.8v0.8h-0.8zM75.8 259.3h0.7v0.7h-0.7zM100.2 233.4h0.7v0.7h-0.7zM95.4 258.1h0.8v0.8h-0.8zM96.5 235.9h0.9v0.9h-0.9zM102.2 231.9h0.9v0.9h-0.9zM96.2 238.5h0.8v0.8h-0.8zM92.2 243.1h0.7v0.7h-0.7zM83.9 247.9h0.9v0.9h-0.9zM94.7 246.7h0.9v0.9h-0.9zM77.5 256.4h0.7v0.7h-0.7zM84.9 248.4h0.7v0.7h-0.7zM100.3 234.4h0.8v0.8h-0.8zM102.4 233.1h0.7v0.7h-0.7zM68.0 263.8h0.7v0.7h-0.7zM96.4 247.6h0.9v0.9h-0.9zM105.5 237.8h0.9v0.9h-0.9zM109.0 235.3h0.7v0.7h-0.7zM96.8 239.6h0.9v0.9h-0.9zM84.2 248.1h0.9v0.9h-0.9zM96.2 256.1h0.7v0.7h-0.7zM102.2 233.7h0.8v0.8h-0.8zM97.7 236.1h0.9v0.9h-0.9zM73.3 261.2h0.7v0.7h-0.7zM83.6 256.2h0.9v0.9h-0.9zM79.2 258.8h0.7v0.7h-0.7zM96.0 239.2h0.8v0.8h-0.8zM98.1 240.3h0.8v0.8h-0.8zM92.5 248.4h0.8v0.8h-0.8zM76.1 257.9h0.7v0.7h-0.7zM103.4 239.3h0.8v0.8h-0.8zM86.4 254.0h0.7v0.7h-0.7zM92.5 241.9h0.9v0.9h-0.9zM88.7 246.7h0.8v0.8h-0.8zM96.8 249.7h0.8v0.8h-0.8zM80.1 252.9h0.7v0.7h-0.7zM97.3 237.1h0.7v0.7h-0.7zM101.0 231.0h0.7v0.7h-0.7zM91.8 252.6h0.8v0.8h-0.8zM84.8 253.6h0.7v0.7h-0.7zM84.2 261.7h0.8v0.8h-0.8zM94.2 240.0h0.8v0.8h-0.8zM104.3 231.5h0.8v0.8h-0.8zM100.6 231.6h0.9v0.9h-0.9zM102.4 234.2h0.8v0.8h-0.8zM93.8 240.6h0.7v0.7h-0.7zM88.5 243.5h0.7v0.7h-0.7zM99.6 233.9h0.9v0.9h-0.9zM101.1 234.8h0.8v0.8h-0.8zM103.5 230.8h0.9v0.9h-0.9zM88.1 246.6h0.8v0.8h-0.8zM109.1 232.2h0.7v0.7h-0.7zM98.4 238.9h0.9v0.9h-0.9zM78.3 255.7h0.9v0.9h-0.9zM99.8 233.0h0.9v0.9h-0.9zM91.7 239.8h0.8v0.8h-0.8zM105.7 230.6h0.8v0.8h-0.8zM94.1 244.6h0.7v0.7h-0.7zM101.4 231.9h0.7v0.7h-0.7zM105.2 229.5h0.8v0.8h-0.8zM104.3 230.1h0.8v0.8h-0.8zM90.4 244.0h0.9v0.9h-0.9zM93.0 245.5h0.8v0.8h-0.8zM76.1 260.6h0.9v0.9h-0.9zM104.1 229.2h0.9v0.9h-0.9zM93.7 240.0h0.7v0.7h-0.7zM83.1 249.9h0.9v0.9h-0.9zM108.4 236.4h0.7v0.7h-0.7zM97.4 235.3h0.8v0.8h-0.8zM83.4 250.0h0.7v0.7h-0.7zM78.9 260.1h0.7v0.7h-0.7zM99.0 233.0h0.9v0.9h-0.9zM110.3 232.0h0.7v0.7h-0.7zM104.8 240.0h0.7v0.7h-0.7zM94.3 237.9h0.7v0.7h-0.7zM105.5 230.6h0.9v0.9h-0.9zM101.4 236.6h0.9v0.9h-0.9zM73.0 261.7h0.7v0.7h-0.7zM108.0 231.9h0.7v0.7h-0.7zM106.4 233.3h0.8v0.8h-0.8zM95.6 246.8h0.9v0.9h-0.9zM98.7 234.7h0.7v0.7h-0.7zM101.7 238.2h0.7v0.7h-0.7zM92.1 245.5h0.7v0.7h-0.7zM87.3 259.4h0.7v0.7h-0.7zM84.8 258.4h0.8v0.8h-0.8zM102.9 230.0h0.7v0.7h-0.7zM97.8 234.9h0.8v0.8h-0.8zM102.2 229.3h0.8v0.8h-0.8zM104.9 240.9h0.9v0.9h-0.9zM82.0 250.9h0.9v0.9h-0.9zM90.2 248.6h0.9v0.9h-0.9zM93.5 247.0h0.7v0.7h-0.7zM101.5 233.2h0.7v0.7h-0.7zM101.0 232.0h0.9v0.9h-0.9zM106.3 229.3h0.8v0.8h-0.8zM93.8 238.6h0.8v0.8h-0.8zM84.9 257.6h0.7v0.7h-0.7zM94.6 238.3h0.7v0.7h-0.7zM97.6 234.1h0.7v0.7h-0.7zM79.5 252.1h0.8v0.8h-0.8zM96.9 238.7h0.7v0.7h-0.7zM98.9 235.2h0.9v0.9h-0.9zM90.9 243.5h0.9v0.9h-0.9zM102.2 231.7h0.8v0.8h-0.8zM99.5 233.4h0.9v0.9h-0.9zM101.0 230.7h0.9v0.9h-0.9zM79.3 255.1h0.7v0.7h-0.7zM88.4 244.3h0.9v0.9h-0.9zM85.4 256.6h0.7v0.7h-0.7zM84.1 250.0h0.8v0.8h-0.8zM96.1 240.5h0.8v0.8h-0.8zM88.4 251.3h0.9v0.9h-0.9zM102.8 230.5h0.8v0.8h-0.8zM100.8 238.0h0.7v0.7h-0.7zM94.5 239.2h0.9v0.9h-0.9zM83.6 259.4h0.7v0.7h-0.7zM84.0 250.5h0.9v0.9h-0.9zM95.8 240.0h0.7v0.7h-0.7zM94.2 239.4h0.9v0.9h-0.9zM92.4 241.6h0.7v0.7h-0.7zM98.1 244.8h0.9v0.9h-0.9zM104.2 229.4h0.9v0.9h-0.9zM91.7 247.5h0.9v0.9h-0.9zM83.2 253.2h0.7v0.7h-0.7zM102.7 232.3h0.9v0.9h-0.9zM100.6 247.0h0.8v0.8h-0.8zM69.9 261.6h0.9v0.9h-0.9zM103.2 240.2h0.9v0.9h-0.9zM73.9 258.6h0.8v0.8h-0.8zM87.0 253.5h0.9v0.9h-0.9zM92.1 240.5h0.7v0.7h-0.7zM101.2 233.5h0.9v0.9h-0.9zM88.1 244.3h0.7v0.7h-0.7zM87.4 245.1h0.9v0.9h-0.9zM102.1 231.7h0.8v0.8h-0.8zM89.2 242.9h0.7v0.7h-0.7zM86.3 247.4h0.7v0.7h-0.7zM103.5 231.7h0.7v0.7h-0.7zM78.4 263.0h0.8v0.8h-0.8zM72.6 260.5h0.7v0.7h-0.7zM107.1 239.9h0.7v0.7h-0.7zM102.8 239.5h0.9v0.9h-0.9zM79.0 253.3h0.9v0.9h-0.9zM103.9 231.6h0.9v0.9h-0.9zM72.8 262.4h0.7v0.7h-0.7zM88.8 246.3h0.8v0.8h-0.8zM87.4 247.5h0.7v0.7h-0.7zM106.9 232.7h0.7v0.7h-0.7zM95.3 244.3h0.9v0.9h-0.9zM105.0 234.8h0.9v0.9h-0.9zM92.3 251.0h0.9v0.9h-0.9zM105.0 236.0h0.7v0.7h-0.7zM100.6 236.1h0.7v0.7h-0.7zM102.7 230.8h0.8v0.8h-0.8zM98.8 240.1h0.9v0.9h-0.9zM98.0 234.2h0.7v0.7h-0.7zM100.5 236.7h0.8v0.8h-0.8zM92.1 264.0h0.9v0.9h-0.9zM95.0 255.4h0.9v0.9h-0.9zM97.7 234.1h0.9v0.9h-0.9zM73.1 259.2h0.9v0.9h-0.9zM80.3 253.1h0.8v0.8h-0.8zM98.5 235.3h0.7v0.7h-0.7zM100.5 246.4h0.8v0.8h-0.8zM88.8 256.9h0.9v0.9h-0.9zM105.8 230.9h0.8v0.8h-0.8zM100.8 242.8h0.9v0.9h-0.9zM91.6 241.6h0.9v0.9h-0.9zM77.8 263.7h0.7v0.7h-0.7zM99.6 246.4h0.7v0.7h-0.7zM86.7 249.9h0.9v0.9h-0.9zM94.9 256.9h0.9v0.9h-0.9zM108.1 237.6h0.9v0.9h-0.9zM79.3 253.8h0.9v0.9h-0.9zM104.7 232.5h0.8v0.8h-0.8zM99.5 234.1h0.9v0.9h-0.9zM86.2 253.3h0.8v0.8h-0.8zM94.3 240.9h0.7v0.7h-0.7zM101.4 247.3h0.7v0.7h-0.7zM106.5 230.2h0.8v0.8h-0.8zM95.1 237.4h0.7v0.7h-0.7zM72.1 261.2h0.9v0.9h-0.9zM97.9 235.9h0.7v0.7h-0.7zM93.7 249.8h0.7v0.7h-0.7zM80.3 256.3h0.7v0.7h-0.7zM99.6 239.3h0.9v0.9h-0.9zM94.8 240.2h0.9v0.9h-0.9zM99.4 249.3h0.7v0.7h-0.7zM99.9 250.4h0.9v0.9h-0.9zM101.2 231.9h0.9v0.9h-0.9zM78.0 259.4h0.8v0.8h-0.8zM102.9 239.2h0.9v0.9h-0.9zM101.3 245.4h0.7v0.7h-0.7zM76.3 263.1h0.9v0.9h-0.9zM93.3 247.2h0.8v0.8h-0.8zM102.7 232.6h0.7v0.7h-0.7zM102.5 233.0h0.9v0.9h-0.9zM95.6 238.2h0.9v0.9h-0.9zM94.5 258.3h0.7v0.7h-0.7zM89.0 255.9h0.8v0.8h-0.8zM84.8 250.8h0.8v0.8h-0.8zM82.2 250.6h0.8v0.8h-0.8zM107.0 231.3h0.9v0.9h-0.9zM110.2 232.7h0.7v0.7h-0.7zM102.6 230.0h0.9v0.9h-0.9zM101.1 242.4h0.9v0.9h-0.9zM97.8 237.3h0.7v0.7h-0.7zM104.8 231.3h0.7v0.7h-0.7zM86.3 247.7h0.8v0.8h-0.8zM81.2 251.4h0.7v0.7h-0.7zM98.5 251.4h0.7v0.7h-0.7zM76.0 255.4h0.9v0.9h-0.9zM83.9 257.8h0.7v0.7h-0.7zM87.4 247.4h0.7v0.7h-0.7zM87.6 247.4h0.7v0.7h-0.7zM101.7 230.6h0.9v0.9h-0.9zM106.3 230.7h0.9v0.9h-0.9zM110.5 233.8h0.7v0.7h-0.7zM87.0 245.2h0.9v0.9h-0.9zM86.1 250.7h0.7v0.7h-0.7zM101.7 231.1h0.7v0.7h-0.7zM94.2 238.4h0.7v0.7h-0.7zM97.6 234.2h0.8v0.8h-0.8zM99.7 240.3h0.7v0.7h-0.7zM86.5 245.0h0.9v0.9h-0.9zM103.6 230.0h0.9v0.9h-0.9zM85.0 247.8h0.8v0.8h-0.8zM89.5 245.6h0.9v0.9h-0.9zM106.3 230.3h0.9v0.9h-0.9zM104.5 240.3h0.7v0.7h-0.7zM98.8 233.5h0.7v0.7h-0.7zM100.5 233.1h0.8v0.8h-0.8zM93.0 248.2h0.9v0.9h-0.9zM89.5 248.3h0.9v0.9h-0.9zM101.3 246.1h0.8v0.8h-0.8zM95.5 256.4h0.9v0.9h-0.9zM103.7 250.1h0.8v0.8h-0.8zM86.6 250.7h0.8v0.8h-0.8zM96.3 244.5h0.8v0.8h-0.8zM92.9 239.9h0.7v0.7h-0.7zM106.0 244.1h0.8v0.8h-0.8zM87.6 244.0h0.9v0.9h-0.9zM86.9 246.4h0.8v0.8h-0.8zM99.5 232.5h0.8v0.8h-0.8zM79.0 252.6h0.7v0.7h-0.7zM85.9 251.3h0.7v0.7h-0.7zM99.6 256.2h0.7v0.7h-0.7zM100.7 231.7h0.9v0.9h-0.9zM75.3 261.5h0.8v0.8h-0.8zM105.5 230.4h0.7v0.7h-0.7zM95.9 238.1h0.9v0.9h-0.9zM103.3 233.4h0.7v0.7h-0.7zM108.3 240.4h0.7v0.7h-0.7zM104.4 253.3h0.8v0.8h-0.8zM99.8 238.4h0.9v0.9h-0.9zM99.0 234.7h0.7v0.7h-0.7zM108.0 234.9h0.8v0.8h-0.8zM72.4 260.2h0.8v0.8h-0.8zM95.9 236.8h0.7v0.7h-0.7zM92.2 241.9h0.8v0.8h-0.8zM78.1 256.6h0.9v0.9h-0.9zM105.2 229.4h0.7v0.7h-0.7zM96.2 249.6h0.8v0.8h-0.8zM95.7 236.7h0.7v0.7h-0.7zM85.6 251.0h0.9v0.9h-0.9zM104.7 231.5h0.9v0.9h-0.9zM102.3 233.4h0.8v0.8h-0.8zM102.6 230.2h0.9v0.9h-0.9zM101.5 242.4h0.7v0.7h-0.7zM101.8 237.1h0.9v0.9h-0.9zM104.7 249.5h0.9v0.9h-0.9zM97.7 237.0h0.8v0.8h-0.8zM102.8 233.6h0.7v0.7h-0.7zM91.7 242.5h0.7v0.7h-0.7zM93.6 242.5h0.9v0.9h-0.9zM100.5 232.3h0.8v0.8h-0.8zM69.1 262.9h0.8v0.8h-0.8zM95.7 236.0h0.7v0.7h-0.7zM98.2 250.5h0.8v0.8h-0.8zM90.8 250.3h0.8v0.8h-0.8zM94.8 238.3h0.7v0.7h-0.7zM95.8 236.6h0.7v0.7h-0.7zM94.8 245.4h0.8v0.8h-0.8zM97.4 235.6h0.9v0.9h-0.9zM73.0 260.8h0.9v0.9h-0.9zM108.0 243.0h0.9v0.9h-0.9zM89.3 243.1h0.7v0.7h-0.7zM104.5 236.1h0.7v0.7h-0.7zM96.5 254.4h0.8v0.8h-0.8zM100.5 237.7h0.7v0.7h-0.7zM85.4 261.4h0.8v0.8h-0.8zM88.6 249.4h0.9v0.9h-0.9zM91.8 243.7h0.7v0.7h-0.7zM99.0 236.1h0.9v0.9h-0.9zM86.5 245.8h0.7v0.7h-0.7zM96.4 253.3h0.7v0.7h-0.7zM88.8 249.5h0.9v0.9h-0.9zM85.8 249.6h0.8v0.8h-0.8zM98.7 241.4h0.8v0.8h-0.8zM83.5 249.7h0.9v0.9h-0.9zM88.7 246.5h0.9v0.9h-0.9zM99.6 234.6h0.9v0.9h-0.9zM103.0 233.1h0.7v0.7h-0.7zM107.7 230.5h0.9v0.9h-0.9zM96.7 236.3h0.7v0.7h-0.7zM86.9 246.6h0.7v0.7h-0.7zM87.4 259.1h0.7v0.7h-0.7zM97.0 239.6h0.8v0.8h-0.8zM96.3 241.9h0.9v0.9h-0.9zM82.6 249.5h0.7v0.7h-0.7zM91.7 243.5h0.7v0.7h-0.7zM102.4 231.0h0.8v0.8h-0.8zM90.4 250.9h0.9v0.9h-0.9zM104.1 231.9h0.9v0.9h-0.9zM103.0 249.9h0.8v0.8h-0.8zM97.2 236.4h0.9v0.9h-0.9zM102.3 229.3h0.8v0.8h-0.8zM101.7 231.5h0.7v0.7h-0.7zM93.9 237.9h0.8v0.8h-0.8zM102.9 237.8h0.7v0.7h-0.7zM104.2 241.1h0.8v0.8h-0.8zM106.7 231.3h0.7v0.7h-0.7zM92.1 257.3h0.8v0.8h-0.8zM88.2 246.9h0.9v0.9h-0.9zM93.1 239.4h0.9v0.9h-0.9zM104.5 232.3h0.7v0.7h-0.7zM107.4 231.2h0.7v0.7h-0.7zM84.0 248.8h0.9v0.9h-0.9zM94.2 237.5h0.9v0.9h-0.9zM100.8 241.1h0.7v0.7h-0.7zM75.7 256.7h0.9v0.9h-0.9zM78.3 254.4h0.9v0.9h-0.9zM104.8 233.5h0.9v0.9h-0.9zM72.8 262.0h0.9v0.9h-0.9zM99.6 249.7h0.8v0.8h-0.8zM80.0 253.1h0.9v0.9h-0.9zM96.8 240.3h0.9v0.9h-0.9zM70.7 263.0h0.8v0.8h-0.8zM111.1 231.8h0.8v0.8h-0.8zM104.6 230.7h0.9v0.9h-0.9zM90.1 246.5h0.8v0.8h-0.8zM88.3 247.9h0.7v0.7h-0.7zM101.3 230.3h0.9v0.9h-0.9zM84.9 258.9h0.8v0.8h-0.8zM93.8 245.1h0.7v0.7h-0.7zM82.9 263.2h0.7v0.7h-0.7zM94.9 247.0h0.9v0.9h-0.9zM97.9 234.9h0.7v0.7h-0.7zM72.7 260.0h0.8v0.8h-0.8zM80.8 251.9h0.9v0.9h-0.9zM85.8 251.4h0.9v0.9h-0.9zM93.4 240.3h0.9v0.9h-0.9zM85.4 259.2h0.9v0.9h-0.9zM88.6 254.7h0.8v0.8h-0.8zM102.7 255.5h0.9v0.9h-0.9zM97.5 241.7h0.7v0.7h-0.7zM110.1 236.0h0.7v0.7h-0.7zM102.4 230.9h0.7v0.7h-0.7zM89.8 252.0h0.9v0.9h-0.9zM96.5 235.8h0.7v0.7h-0.7zM104.9 251.8h0.9v0.9h-0.9zM91.6 250.2h0.9v0.9h-0.9zM73.3 258.2h0.7v0.7h-0.7zM89.5 254.1h0.8v0.8h-0.8zM86.1 246.5h0.9v0.9h-0.9zM103.4 231.0h0.9v0.9h-0.9zM87.1 245.3h0.7v0.7h-0.7zM105.2 233.4h0.9v0.9h-0.9zM91.0 241.7h0.8v0.8h-0.8zM107.5 233.3h0.7v0.7h-0.7zM90.6 248.2h0.8v0.8h-0.8zM106.3 234.9h0.8v0.8h-0.8zM103.0 241.1h0.7v0.7h-0.7zM104.7 232.6h0.9v0.9h-0.9zM90.1 242.9h0.8v0.8h-0.8zM103.7 231.5h0.7v0.7h-0.7zM97.0 249.5h0.8v0.8h-0.8zM107.1 235.0h0.8v0.8h-0.8zM102.4 243.4h0.9v0.9h-0.9zM92.2 246.3h0.9v0.9h-0.9zM106.0 252.2h0.8v0.8h-0.8zM74.3 261.6h0.8v0.8h-0.8zM101.0 240.9h0.7v0.7h-0.7zM75.9 258.6h0.9v0.9h-0.9zM103.2 240.8h0.9v0.9h-0.9zM108.3 232.2h0.8v0.8h-0.8zM84.7 251.2h0.7v0.7h-0.7zM105.6 229.7h0.8v0.8h-0.8zM74.2 261.2h0.9v0.9h-0.9zM97.1 235.9h0.8v0.8h-0.8zM99.3 250.2h0.9v0.9h-0.9zM102.0 237.7h0.8v0.8h-0.8zM91.5 249.5h0.8v0.8h-0.8zM92.2 246.5h0.8v0.8h-0.8zM97.2 234.5h0.7v0.7h-0.7zM94.8 236.7h0.7v0.7h-0.7zM87.7 262.6h0.8v0.8h-0.8zM91.0 249.8h0.9v0.9h-0.9zM104.4 229.6h0.9v0.9h-0.9zM100.4 231.9h0.7v0.7h-0.7zM102.7 235.9h0.8v0.8h-0.8zM99.7 234.1h0.7v0.7h-0.7zM77.1 254.9h0.9v0.9h-0.9zM104.8 234.7h0.7v0.7h-0.7zM91.8 240.3h0.8v0.8h-0.8zM104.7 250.4h0.7v0.7h-0.7zM84.0 260.4h0.7v0.7h-0.7zM94.6 246.0h0.9v0.9h-0.9zM104.3 257.6h0.8v0.8h-0.8zM108.6 229.9h0.9v0.9h-0.9zM106.0 230.3h0.7v0.7h-0.7zM92.9 253.3h0.7v0.7h-0.7zM101.4 232.3h0.8v0.8h-0.8zM95.5 239.4h0.9v0.9h-0.9zM107.6 236.6h0.7v0.7h-0.7zM94.6 238.2h0.7v0.7h-0.7zM98.3 250.0h0.9v0.9h-0.9zM94.6 255.2h0.9v0.9h-0.9zM99.9 232.1h0.8v0.8h-0.8zM104.4 234.1h0.9v0.9h-0.9zM78.3 256.0h0.9v0.9h-0.9zM90.0 242.1h0.8v0.8h-0.8zM101.7 237.7h0.9v0.9h-0.9zM86.3 246.3h0.9v0.9h-0.9zM93.7 257.5h0.8v0.8h-0.8zM86.3 253.9h0.8v0.8h-0.8zM76.6 262.4h0.9v0.9h-0.9zM93.3 239.2h0.7v0.7h-0.7zM79.3 255.0h0.7v0.7h-0.7zM99.7 231.8h0.9v0.9h-0.9zM96.6 236.9h0.9v0.9h-0.9zM95.0 237.7h0.8v0.8h-0.8zM98.6 235.3h0.9v0.9h-0.9zM96.6 234.9h0.8v0.8h-0.8zM86.1 251.0h0.8v0.8h-0.8zM108.1 233.7h0.8v0.8h-0.8zM83.7 249.1h0.8v0.8h-0.8zM100.3 233.3h0.7v0.7h-0.7zM90.8 241.4h0.9v0.9h-0.9zM93.4 241.2h0.9v0.9h-0.9zM95.8 237.2h0.9v0.9h-0.9zM94.5 244.6h0.8v0.8h-0.8zM77.8 253.8h0.8v0.8h-0.8zM94.2 240.5h0.7v0.7h-0.7zM93.4 238.1h0.8v0.8h-0.8zM89.5 261.1h0.8v0.8h-0.8zM89.8 250.5h0.8v0.8h-0.8zM75.5 260.9h0.7v0.7h-0.7zM97.8 241.9h0.9v0.9h-0.9zM84.5 257.6h0.7v0.7h-0.7zM94.4 240.5h0.9v0.9h-0.9zM101.6 232.1h0.8v0.8h-0.8zM95.9 238.5h0.7v0.7h-0.7zM88.4 262.9h0.7v0.7h-0.7zM97.9 248.3h0.8v0.8h-0.8zM100.6 236.1h0.8v0.8h-0.8zM99.0 236.5h0.9v0.9h-0.9zM91.4 244.9h0.8v0.8h-0.8zM75.4 263.5h0.8v0.8h-0.8zM99.7 232.5h0.9v0.9h-0.9zM89.7 245.0h0.8v0.8h-0.8zM96.0 238.3h0.9v0.9h-0.9zM100.9 237.7h0.9v0.9h-0.9zM80.7 254.1h0.8v0.8h-0.8zM93.2 261.2h0.8v0.8h-0.8zM108.1 238.8h0.7v0.7h-0.7zM109.1 230.0h0.7v0.7h-0.7zM87.0 245.1h0.7v0.7h-0.7zM90.6 245.2h0.8v0.8h-0.8z" fill="#3a2c8a" opacity="0.9"/>
<path d="M103.0 232.1h0.9v0.9h-0.9zM98.8 233.5h0.7v0.7h-0.7zM102.4 231.2h0.7v0.7h-0.7zM102.7 230.8h0.8v0.8h-0.8zM84.6 251.3h0.8v0.8h-0.8zM73.9 261.3h0.7v0.7h-0.7zM85.0 254.4h0.7v0.7h-0.7zM102.4 233.5h0.7v0.7h-0.7zM102.8 246.5h0.9v0.9h-0.9zM94.5 244.6h0.8v0.8h-0.8zM93.1 250.0h0.8v0.8h-0.8zM92.8 245.3h0.9v0.9h-0.9zM101.2 231.4h0.7v0.7h-0.7zM107.2 229.7h0.9v0.9h-0.9zM108.3 232.1h0.9v0.9h-0.9zM81.2 254.0h0.7v0.7h-0.7zM84.2 255.0h0.8v0.8h-0.8zM92.3 242.4h0.9v0.9h-0.9zM93.4 243.7h0.9v0.9h-0.9zM85.1 251.4h0.7v0.7h-0.7zM107.5 242.2h0.9v0.9h-0.9zM104.1 229.9h0.8v0.8h-0.8zM85.5 246.5h0.7v0.7h-0.7zM87.2 244.5h0.7v0.7h-0.7zM97.9 233.8h0.7v0.7h-0.7zM90.6 249.6h0.8v0.8h-0.8zM92.7 246.3h0.8v0.8h-0.8zM73.2 262.3h0.9v0.9h-0.9zM99.2 253.2h0.9v0.9h-0.9zM85.8 259.9h0.8v0.8h-0.8zM97.3 235.7h0.7v0.7h-0.7zM106.2 231.1h0.8v0.8h-0.8zM70.1 261.8h0.9v0.9h-0.9zM100.0 233.5h0.7v0.7h-0.7zM100.3 233.8h0.8v0.8h-0.8zM91.8 241.6h0.8v0.8h-0.8zM97.3 235.2h0.7v0.7h-0.7zM90.8 259.6h0.9v0.9h-0.9zM94.0 241.6h0.9v0.9h-0.9zM96.7 238.3h0.7v0.7h-0.7zM85.7 246.5h0.9v0.9h-0.9zM101.9 231.8h0.8v0.8h-0.8zM105.5 231.6h0.7v0.7h-0.7zM106.3 230.1h0.8v0.8h-0.8zM104.6 230.1h0.9v0.9h-0.9zM86.1 261.5h0.9v0.9h-0.9zM86.5 249.6h0.7v0.7h-0.7zM77.5 255.5h0.7v0.7h-0.7zM82.7 253.7h0.8v0.8h-0.8zM100.6 238.8h0.8v0.8h-0.8zM99.9 232.8h0.9v0.9h-0.9zM101.0 234.7h0.7v0.7h-0.7zM103.6 244.6h0.7v0.7h-0.7zM84.4 254.3h0.8v0.8h-0.8zM83.0 253.5h0.7v0.7h-0.7zM79.2 254.6h0.9v0.9h-0.9zM94.2 260.6h0.9v0.9h-0.9zM103.4 259.1h0.7v0.7h-0.7zM95.4 247.1h0.8v0.8h-0.8zM98.0 248.2h0.8v0.8h-0.8zM95.9 239.3h0.7v0.7h-0.7zM100.5 233.7h0.9v0.9h-0.9zM83.6 255.9h0.7v0.7h-0.7zM100.6 232.6h0.9v0.9h-0.9zM101.2 247.2h0.7v0.7h-0.7zM100.9 231.8h0.8v0.8h-0.8zM99.6 232.0h0.7v0.7h-0.7zM89.7 244.6h0.7v0.7h-0.7zM102.7 255.9h0.9v0.9h-0.9zM93.7 238.6h0.8v0.8h-0.8zM99.5 239.4h0.7v0.7h-0.7zM81.3 259.7h0.7v0.7h-0.7zM88.5 244.4h0.7v0.7h-0.7zM78.7 253.8h0.7v0.7h-0.7zM95.1 240.4h0.8v0.8h-0.8zM81.6 256.2h0.8v0.8h-0.8zM87.2 249.6h0.8v0.8h-0.8zM100.2 236.8h0.9v0.9h-0.9zM108.2 242.4h0.8v0.8h-0.8zM101.8 234.5h0.8v0.8h-0.8zM89.7 246.8h0.7v0.7h-0.7zM95.6 237.4h0.7v0.7h-0.7zM102.8 231.2h0.9v0.9h-0.9zM78.4 256.9h0.8v0.8h-0.8zM84.1 249.1h0.9v0.9h-0.9zM105.1 233.9h0.7v0.7h-0.7zM87.0 255.5h0.9v0.9h-0.9zM102.7 230.0h0.9v0.9h-0.9zM85.8 260.3h0.9v0.9h-0.9zM100.4 239.0h0.7v0.7h-0.7zM109.6 235.4h0.8v0.8h-0.8zM101.7 234.2h0.9v0.9h-0.9zM107.9 230.0h0.7v0.7h-0.7zM102.2 232.8h0.9v0.9h-0.9zM92.8 239.9h0.9v0.9h-0.9zM103.3 230.2h0.9v0.9h-0.9zM70.2 264.0h0.9v0.9h-0.9zM83.9 256.2h0.7v0.7h-0.7zM99.3 261.8h0.7v0.7h-0.7zM94.7 242.2h0.8v0.8h-0.8zM73.5 262.1h0.9v0.9h-0.9zM97.2 235.8h0.7v0.7h-0.7zM91.5 242.6h0.9v0.9h-0.9zM104.5 236.6h0.9v0.9h-0.9zM106.0 229.3h0.8v0.8h-0.8zM83.7 252.2h0.7v0.7h-0.7zM105.0 238.4h0.9v0.9h-0.9zM100.7 231.5h0.8v0.8h-0.8zM100.2 234.5h0.7v0.7h-0.7zM96.2 238.6h0.7v0.7h-0.7zM101.4 230.9h0.9v0.9h-0.9zM108.0 233.3h0.9v0.9h-0.9zM79.0 254.6h0.9v0.9h-0.9zM100.0 235.4h0.9v0.9h-0.9zM75.5 261.1h0.8v0.8h-0.8zM96.6 251.9h0.8v0.8h-0.8zM80.4 261.0h0.8v0.8h-0.8zM98.4 243.8h0.8v0.8h-0.8zM97.2 237.5h0.9v0.9h-0.9zM97.9 237.1h0.8v0.8h-0.8zM80.2 255.4h0.8v0.8h-0.8zM78.6 261.1h0.8v0.8h-0.8zM100.4 236.6h0.7v0.7h-0.7zM97.6 234.6h0.7v0.7h-0.7zM100.3 232.4h0.8v0.8h-0.8zM74.4 260.2h0.8v0.8h-0.8zM73.3 259.1h0.9v0.9h-0.9zM71.9 264.4h0.9v0.9h-0.9zM77.4 258.1h0.8v0.8h-0.8zM91.5 240.1h0.8v0.8h-0.8zM90.5 243.7h0.8v0.8h-0.8zM97.8 235.8h0.9v0.9h-0.9zM104.5 232.9h0.8v0.8h-0.8zM80.1 260.6h0.8v0.8h-0.8zM99.4 233.5h0.7v0.7h-0.7zM100.9 232.8h0.9v0.9h-0.9zM88.4 251.3h0.7v0.7h-0.7zM93.9 241.8h0.7v0.7h-0.7zM91.0 242.0h0.8v0.8h-0.8zM100.1 236.6h0.8v0.8h-0.8zM100.6 232.2h0.9v0.9h-0.9zM105.6 234.1h0.8v0.8h-0.8zM93.7 248.9h0.7v0.7h-0.7zM73.2 259.9h0.8v0.8h-0.8zM100.9 235.8h0.8v0.8h-0.8zM97.4 236.5h0.8v0.8h-0.8zM85.5 250.1h0.9v0.9h-0.9zM94.2 238.7h0.7v0.7h-0.7zM104.6 229.3h0.9v0.9h-0.9zM106.9 236.0h0.7v0.7h-0.7zM107.0 229.3h0.9v0.9h-0.9zM85.5 253.5h0.7v0.7h-0.7zM107.9 232.4h0.8v0.8h-0.8zM102.2 234.3h0.9v0.9h-0.9zM93.1 242.3h0.9v0.9h-0.9zM105.9 230.9h0.7v0.7h-0.7zM86.3 257.9h0.9v0.9h-0.9zM95.6 244.6h0.9v0.9h-0.9zM97.9 236.4h0.7v0.7h-0.7zM92.9 239.7h0.8v0.8h-0.8zM108.5 234.3h0.8v0.8h-0.8zM89.4 256.2h0.9v0.9h-0.9zM93.8 239.7h0.8v0.8h-0.8zM96.3 240.3h0.9v0.9h-0.9zM106.1 235.0h0.7v0.7h-0.7zM85.8 249.0h0.8v0.8h-0.8zM72.1 260.1h0.8v0.8h-0.8zM77.7 258.6h0.7v0.7h-0.7zM71.8 261.5h0.8v0.8h-0.8zM103.8 232.2h0.8v0.8h-0.8zM98.6 239.1h0.9v0.9h-0.9zM87.1 246.2h0.8v0.8h-0.8zM95.7 258.9h0.8v0.8h-0.8zM105.8 229.5h0.9v0.9h-0.9zM103.9 230.7h0.8v0.8h-0.8zM81.5 253.7h0.9v0.9h-0.9zM85.4 253.1h0.9v0.9h-0.9zM97.2 236.5h0.8v0.8h-0.8zM106.0 235.2h0.9v0.9h-0.9zM79.8 255.3h0.7v0.7h-0.7zM70.1 261.5h0.9v0.9h-0.9zM87.6 253.5h0.7v0.7h-0.7zM93.0 256.9h0.8v0.8h-0.8zM90.3 248.8h0.7v0.7h-0.7zM97.3 241.2h0.7v0.7h-0.7zM106.3 237.6h0.8v0.8h-0.8zM88.6 252.4h0.9v0.9h-0.9zM101.7 239.8h0.9v0.9h-0.9zM80.3 252.2h0.7v0.7h-0.7zM88.0 258.2h0.8v0.8h-0.8zM83.8 247.7h0.9v0.9h-0.9zM69.8 264.0h0.8v0.8h-0.8zM92.8 244.7h0.8v0.8h-0.8zM98.8 250.1h0.8v0.8h-0.8zM69.0 262.4h0.8v0.8h-0.8zM72.7 264.3h0.7v0.7h-0.7zM101.1 230.6h0.7v0.7h-0.7zM99.7 239.4h0.8v0.8h-0.8zM105.8 233.6h0.9v0.9h-0.9zM99.4 249.8h0.8v0.8h-0.8zM77.7 256.3h0.9v0.9h-0.9zM105.1 241.5h0.7v0.7h-0.7zM98.1 248.8h0.8v0.8h-0.8zM86.2 246.8h0.7v0.7h-0.7zM86.3 253.6h0.9v0.9h-0.9zM73.1 261.5h0.8v0.8h-0.8zM99.1 232.4h0.9v0.9h-0.9zM97.7 235.1h0.9v0.9h-0.9zM104.4 249.4h0.9v0.9h-0.9zM88.0 256.3h0.7v0.7h-0.7zM86.1 250.4h0.9v0.9h-0.9zM104.4 232.7h0.7v0.7h-0.7zM90.3 246.3h0.8v0.8h-0.8zM99.3 232.2h0.9v0.9h-0.9zM92.8 242.8h0.9v0.9h-0.9zM103.2 229.7h0.7v0.7h-0.7zM99.7 236.1h0.8v0.8h-0.8zM91.2 251.2h0.7v0.7h-0.7zM89.8 248.1h0.7v0.7h-0.7zM85.2 255.5h0.8v0.8h-0.8zM93.1 256.6h0.9v0.9h-0.9zM106.9 235.0h0.9v0.9h-0.9zM103.5 248.0h0.7v0.7h-0.7zM99.1 237.7h0.9v0.9h-0.9zM106.5 230.4h0.8v0.8h-0.8zM99.0 239.7h0.7v0.7h-0.7zM95.2 242.1h0.8v0.8h-0.8zM81.7 255.8h0.7v0.7h-0.7zM96.2 244.0h0.9v0.9h-0.9zM94.6 240.5h0.7v0.7h-0.7zM99.6 232.7h0.8v0.8h-0.8zM88.7 245.7h0.8v0.8h-0.8zM82.6 251.4h0.9v0.9h-0.9zM85.7 246.6h0.7v0.7h-0.7zM75.6 263.4h0.9v0.9h-0.9zM89.1 246.9h0.7v0.7h-0.7zM79.8 253.6h0.9v0.9h-0.9zM98.5 233.0h0.9v0.9h-0.9zM107.1 233.2h0.8v0.8h-0.8zM91.0 246.0h0.8v0.8h-0.8zM101.3 235.9h0.8v0.8h-0.8zM101.4 244.0h0.9v0.9h-0.9zM87.2 249.6h0.8v0.8h-0.8zM78.2 255.6h0.7v0.7h-0.7zM93.2 242.5h0.8v0.8h-0.8zM110.5 235.6h0.9v0.9h-0.9zM102.8 230.1h0.8v0.8h-0.8zM89.3 246.6h0.8v0.8h-0.8zM109.0 234.4h0.9v0.9h-0.9zM101.4 231.5h0.7v0.7h-0.7zM99.6 240.9h0.7v0.7h-0.7zM103.2 237.8h0.7v0.7h-0.7zM94.8 247.9h0.7v0.7h-0.7zM70.2 261.6h0.8v0.8h-0.8zM100.2 231.8h0.7v0.7h-0.7zM92.1 249.7h0.7v0.7h-0.7zM101.7 232.1h0.9v0.9h-0.9zM80.1 260.2h0.7v0.7h-0.7zM98.0 236.0h0.7v0.7h-0.7zM94.5 241.5h0.9v0.9h-0.9zM98.2 233.2h0.7v0.7h-0.7zM105.2 230.2h0.7v0.7h-0.7zM90.3 248.3h0.7v0.7h-0.7zM96.4 240.5h0.8v0.8h-0.8zM88.7 250.6h0.7v0.7h-0.7zM97.4 235.6h0.8v0.8h-0.8zM107.2 230.5h0.7v0.7h-0.7zM105.3 230.9h0.7v0.7h-0.7zM82.4 253.3h0.8v0.8h-0.8zM97.9 237.1h0.9v0.9h-0.9zM75.9 257.1h0.8v0.8h-0.8zM82.7 250.5h0.8v0.8h-0.8zM101.9 229.7h0.7v0.7h-0.7zM107.0 232.2h0.8v0.8h-0.8zM109.2 233.5h0.9v0.9h-0.9zM98.8 242.6h0.7v0.7h-0.7zM90.3 244.7h0.7v0.7h-0.7zM99.6 244.2h0.8v0.8h-0.8zM93.2 252.8h0.9v0.9h-0.9zM72.3 265.0h0.9v0.9h-0.9zM80.7 252.1h0.9v0.9h-0.9zM94.5 242.0h0.7v0.7h-0.7zM89.5 242.9h0.8v0.8h-0.8zM107.1 229.2h0.7v0.7h-0.7zM100.5 237.5h0.7v0.7h-0.7zM67.8 263.7h0.8v0.8h-0.8zM76.4 255.0h0.7v0.7h-0.7zM75.5 263.8h0.7v0.7h-0.7zM103.9 234.6h0.7v0.7h-0.7zM98.2 236.0h0.7v0.7h-0.7zM107.6 241.9h0.7v0.7h-0.7zM108.2 234.1h0.7v0.7h-0.7zM74.3 263.1h0.8v0.8h-0.8zM102.4 230.9h0.8v0.8h-0.8zM98.9 233.9h0.7v0.7h-0.7zM99.9 249.5h0.9v0.9h-0.9zM101.1 244.1h0.9v0.9h-0.9zM100.8 233.5h0.8v0.8h-0.8zM101.1 236.9h0.9v0.9h-0.9zM78.5 258.2h0.8v0.8h-0.8zM109.0 231.4h0.8v0.8h-0.8zM95.9 260.1h0.7v0.7h-0.7zM71.8 260.7h0.9v0.9h-0.9zM102.5 241.8h0.8v0.8h-0.8zM98.1 243.5h0.8v0.8h-0.8zM93.0 243.4h0.8v0.8h-0.8zM78.0 264.1h0.9v0.9h-0.9zM92.5 248.7h0.8v0.8h-0.8zM91.5 248.0h0.9v0.9h-0.9zM97.0 240.3h0.8v0.8h-0.8zM94.7 237.3h0.8v0.8h-0.8zM99.2 232.3h0.7v0.7h-0.7zM102.3 230.2h0.9v0.9h-0.9zM88.4 244.1h0.9v0.9h-0.9zM99.0 233.6h0.8v0.8h-0.8zM92.3 248.4h0.9v0.9h-0.9zM103.6 230.2h0.7v0.7h-0.7zM103.8 254.0h0.7v0.7h-0.7zM106.1 229.8h0.9v0.9h-0.9zM86.3 247.7h0.7v0.7h-0.7zM79.8 255.5h0.7v0.7h-0.7zM103.5 230.7h0.8v0.8h-0.8zM95.0 243.6h0.9v0.9h-0.9zM103.3 229.6h0.7v0.7h-0.7zM90.1 242.3h0.8v0.8h-0.8zM100.9 230.8h0.8v0.8h-0.8zM94.3 241.0h0.9v0.9h-0.9zM101.3 238.5h0.9v0.9h-0.9zM86.8 248.5h0.7v0.7h-0.7zM98.2 252.0h0.7v0.7h-0.7zM94.0 238.3h0.7v0.7h-0.7zM79.4 252.9h0.7v0.7h-0.7zM105.8 232.5h0.7v0.7h-0.7zM71.5 260.8h0.7v0.7h-0.7zM83.0 252.1h0.8v0.8h-0.8zM94.1 241.0h0.7v0.7h-0.7zM88.4 244.5h0.7v0.7h-0.7zM94.7 239.6h0.9v0.9h-0.9zM91.3 258.6h0.8v0.8h-0.8zM97.6 234.0h0.9v0.9h-0.9zM99.9 241.9h0.9v0.9h-0.9zM107.7 234.0h0.9v0.9h-0.9zM99.0 236.0h0.9v0.9h-0.9zM96.9 234.5h0.7v0.7h-0.7zM105.6 229.6h0.7v0.7h-0.7zM105.4 246.5h0.7v0.7h-0.7zM70.0 264.5h0.9v0.9h-0.9zM72.7 262.2h0.8v0.8h-0.8zM94.4 257.3h0.7v0.7h-0.7zM102.6 238.5h0.7v0.7h-0.7zM96.4 239.4h0.7v0.7h-0.7zM99.3 238.7h0.9v0.9h-0.9zM81.0 256.0h0.8v0.8h-0.8zM108.5 229.5h0.7v0.7h-0.7zM101.1 236.9h0.8v0.8h-0.8zM84.6 249.0h0.8v0.8h-0.8zM100.9 256.4h0.7v0.7h-0.7zM107.4 234.1h0.9v0.9h-0.9zM93.4 242.6h0.9v0.9h-0.9zM72.2 261.6h0.9v0.9h-0.9zM107.0 231.7h0.9v0.9h-0.9zM79.2 254.0h0.9v0.9h-0.9zM82.0 251.5h0.7v0.7h-0.7zM100.4 232.7h0.8v0.8h-0.8zM93.7 244.8h0.9v0.9h-0.9zM106.2 237.9h0.9v0.9h-0.9zM110.6 232.9h0.7v0.7h-0.7zM75.1 260.6h0.9v0.9h-0.9zM98.7 233.3h0.8v0.8h-0.8zM86.1 250.1h0.7v0.7h-0.7zM106.1 232.2h0.7v0.7h-0.7zM76.0 258.1h0.7v0.7h-0.7zM103.5 230.5h0.7v0.7h-0.7zM75.6 258.0h0.8v0.8h-0.8zM95.5 245.2h0.9v0.9h-0.9zM87.6 243.9h0.7v0.7h-0.7zM102.9 234.0h0.8v0.8h-0.8zM92.7 240.7h0.8v0.8h-0.8zM89.7 256.0h0.7v0.7h-0.7zM99.6 243.5h0.8v0.8h-0.8zM90.2 242.7h0.9v0.9h-0.9zM97.0 238.3h0.8v0.8h-0.8zM77.7 255.7h0.7v0.7h-0.7zM95.8 244.8h0.9v0.9h-0.9zM102.1 241.4h0.7v0.7h-0.7zM91.3 242.9h0.7v0.7h-0.7zM101.7 232.5h0.9v0.9h-0.9zM107.0 233.2h0.9v0.9h-0.9zM88.5 253.1h0.7v0.7h-0.7zM100.9 232.9h0.7v0.7h-0.7zM105.6 236.9h0.9v0.9h-0.9zM85.2 247.8h0.7v0.7h-0.7zM103.8 229.8h0.7v0.7h-0.7zM106.6 230.4h0.7v0.7h-0.7zM78.4 260.8h0.8v0.8h-0.8zM84.8 247.2h0.8v0.8h-0.8zM102.0 257.1h0.8v0.8h-0.8zM102.7 231.1h0.7v0.7h-0.7zM102.8 230.1h0.9v0.9h-0.9zM86.4 247.0h0.9v0.9h-0.9zM97.7 248.4h0.9v0.9h-0.9zM88.4 245.0h0.8v0.8h-0.8zM75.6 260.8h0.7v0.7h-0.7zM93.4 240.5h0.8v0.8h-0.8zM93.9 238.4h0.9v0.9h-0.9zM83.2 256.5h0.9v0.9h-0.9zM104.8 234.4h0.7v0.7h-0.7zM81.0 251.1h0.7v0.7h-0.7zM91.6 240.3h0.9v0.9h-0.9zM97.9 244.8h0.8v0.8h-0.8zM84.2 252.1h0.9v0.9h-0.9zM108.4 239.7h0.7v0.7h-0.7zM104.8 242.3h0.9v0.9h-0.9zM88.2 247.8h0.9v0.9h-0.9zM97.9 245.1h0.9v0.9h-0.9zM106.3 235.9h0.7v0.7h-0.7zM103.8 231.1h0.7v0.7h-0.7zM92.9 240.4h0.8v0.8h-0.8zM80.3 257.0h0.7v0.7h-0.7zM105.3 230.0h0.9v0.9h-0.9zM101.9 234.8h0.7v0.7h-0.7zM106.0 229.5h0.9v0.9h-0.9zM86.7 245.9h0.9v0.9h-0.9zM101.8 233.5h0.8v0.8h-0.8zM99.7 234.1h0.9v0.9h-0.9zM77.0 256.1h0.7v0.7h-0.7zM101.7 230.0h0.8v0.8h-0.8zM96.7 235.6h0.9v0.9h-0.9zM93.9 238.2h0.9v0.9h-0.9zM99.9 235.9h0.9v0.9h-0.9zM102.3 230.6h0.7v0.7h-0.7zM86.3 247.6h0.7v0.7h-0.7zM97.1 242.1h0.7v0.7h-0.7zM96.1 238.5h0.7v0.7h-0.7zM92.9 242.9h0.7v0.7h-0.7zM72.6 261.7h0.8v0.8h-0.8zM98.7 233.0h0.8v0.8h-0.8zM72.5 261.4h0.9v0.9h-0.9zM84.0 253.0h0.8v0.8h-0.8zM100.0 233.2h0.8v0.8h-0.8zM108.0 229.4h0.8v0.8h-0.8zM102.2 231.9h0.7v0.7h-0.7zM96.2 247.8h0.7v0.7h-0.7zM79.1 254.3h0.9v0.9h-0.9zM105.8 233.7h0.9v0.9h-0.9zM92.4 246.8h0.8v0.8h-0.8zM108.7 232.3h0.9v0.9h-0.9zM105.2 231.6h0.7v0.7h-0.7zM100.8 231.1h0.7v0.7h-0.7zM74.6 259.8h0.9v0.9h-0.9zM107.0 236.3h0.9v0.9h-0.9zM106.0 229.7h0.9v0.9h-0.9zM85.0 253.2h0.7v0.7h-0.7zM106.0 246.9h0.9v0.9h-0.9zM96.9 244.1h0.9v0.9h-0.9zM103.7 231.9h0.8v0.8h-0.8zM100.9 231.9h0.7v0.7h-0.7zM101.8 242.0h0.8v0.8h-0.8zM99.1 254.3h0.9v0.9h-0.9zM91.8 242.2h0.7v0.7h-0.7zM107.4 230.1h0.9v0.9h-0.9zM88.9 245.8h0.7v0.7h-0.7zM90.5 241.5h0.9v0.9h-0.9zM98.1 237.9h0.7v0.7h-0.7zM69.8 262.5h0.7v0.7h-0.7zM99.3 236.1h0.7v0.7h-0.7zM107.1 249.7h0.7v0.7h-0.7zM97.6 243.6h0.7v0.7h-0.7zM99.0 232.9h0.8v0.8h-0.8zM94.4 238.4h0.7v0.7h-0.7zM89.0 246.1h0.8v0.8h-0.8zM89.4 243.8h0.9v0.9h-0.9zM106.3 255.6h0.9v0.9h-0.9zM87.8 251.2h0.7v0.7h-0.7zM85.0 251.7h0.9v0.9h-0.9zM86.4 249.8h0.7v0.7h-0.7zM101.4 230.8h0.9v0.9h-0.9zM108.6 234.6h0.7v0.7h-0.7zM82.2 257.3h0.7v0.7h-0.7zM89.6 259.0h0.8v0.8h-0.8zM101.6 230.0h0.9v0.9h-0.9zM102.1 245.3h0.8v0.8h-0.8zM95.2 243.9h0.9v0.9h-0.9zM96.5 236.5h0.9v0.9h-0.9zM91.1 250.4h0.7v0.7h-0.7zM82.3 251.2h0.9v0.9h-0.9zM103.5 230.8h0.9v0.9h-0.9zM80.6 253.3h0.9v0.9h-0.9zM102.5 239.6h0.7v0.7h-0.7zM103.5 229.3h0.8v0.8h-0.8zM81.3 256.4h0.9v0.9h-0.9zM104.8 233.7h0.9v0.9h-0.9zM101.9 239.6h0.8v0.8h-0.8zM100.3 257.2h0.9v0.9h-0.9zM98.5 237.3h0.8v0.8h-0.8zM108.4 249.1h0.8v0.8h-0.8zM106.3 232.8h0.9v0.9h-0.9zM104.1 229.9h0.9v0.9h-0.9zM106.4 237.7h0.7v0.7h-0.7zM102.9 229.7h0.7v0.7h-0.7zM79.3 252.3h0.9v0.9h-0.9zM73.5 260.8h0.7v0.7h-0.7zM80.4 252.3h0.8v0.8h-0.8zM82.7 252.9h0.8v0.8h-0.8zM85.5 259.1h0.7v0.7h-0.7zM108.1 230.9h0.8v0.8h-0.8zM77.0 263.6h0.7v0.7h-0.7zM97.9 234.1h0.7v0.7h-0.7zM82.7 250.5h0.8v0.8h-0.8zM78.1 255.5h0.7v0.7h-0.7zM82.5 258.5h0.9v0.9h-0.9zM97.3 248.4h0.9v0.9h-0.9zM99.5 232.1h0.9v0.9h-0.9zM105.9 236.4h0.9v0.9h-0.9zM99.8 232.8h0.8v0.8h-0.8zM101.2 231.4h0.7v0.7h-0.7zM87.5 246.2h0.7v0.7h-0.7zM94.7 246.7h0.7v0.7h-0.7zM84.5 250.1h0.9v0.9h-0.9zM96.2 236.1h0.7v0.7h-0.7zM70.2 263.5h0.9v0.9h-0.9zM105.9 229.4h0.8v0.8h-0.8zM90.8 240.7h0.7v0.7h-0.7zM98.3 235.5h0.8v0.8h-0.8zM84.2 250.3h0.7v0.7h-0.7zM82.3 251.4h0.9v0.9h-0.9zM87.0 253.3h0.9v0.9h-0.9zM88.7 245.5h0.9v0.9h-0.9zM100.6 234.1h0.8v0.8h-0.8zM103.2 229.3h0.8v0.8h-0.8zM74.8 256.7h0.9v0.9h-0.9zM98.0 235.7h0.9v0.9h-0.9zM107.5 242.5h0.8v0.8h-0.8zM94.9 237.0h0.7v0.7h-0.7zM90.4 255.7h0.7v0.7h-0.7zM87.1 244.4h0.8v0.8h-0.8zM91.4 245.1h0.9v0.9h-0.9zM92.2 245.3h0.8v0.8h-0.8zM77.0 261.0h0.9v0.9h-0.9zM77.2 258.8h0.8v0.8h-0.8zM106.8 231.4h0.9v0.9h-0.9zM86.9 246.6h0.8v0.8h-0.8zM95.7 238.1h0.7v0.7h-0.7zM83.0 261.5h0.8v0.8h-0.8zM75.2 259.2h0.7v0.7h-0.7zM77.5 254.1h0.9v0.9h-0.9zM98.5 233.4h0.7v0.7h-0.7zM97.8 236.2h0.8v0.8h-0.8zM107.6 236.3h0.7v0.7h-0.7zM99.7 232.0h0.9v0.9h-0.9zM97.5 236.3h0.7v0.7h-0.7zM100.2 241.9h0.8v0.8h-0.8zM105.5 235.4h0.9v0.9h-0.9zM69.7 262.3h0.9v0.9h-0.9zM98.4 243.7h0.9v0.9h-0.9zM84.9 247.6h0.9v0.9h-0.9zM90.0 244.8h0.9v0.9h-0.9zM98.2 233.3h0.8v0.8h-0.8zM86.7 245.3h0.9v0.9h-0.9zM108.6 229.4h0.9v0.9h-0.9zM77.3 256.4h0.8v0.8h-0.8zM81.4 258.2h0.9v0.9h-0.9zM97.9 235.3h0.7v0.7h-0.7zM94.7 238.4h0.7v0.7h-0.7zM99.0 256.6h0.8v0.8h-0.8zM94.3 238.0h0.8v0.8h-0.8zM100.2 239.7h0.8v0.8h-0.8zM75.6 264.4h0.9v0.9h-0.9zM104.5 243.8h0.8v0.8h-0.8zM87.7 245.6h0.8v0.8h-0.8zM85.9 252.2h0.9v0.9h-0.9zM84.9 254.9h0.9v0.9h-0.9zM104.5 234.0h0.9v0.9h-0.9zM88.4 257.0h0.7v0.7h-0.7zM80.9 261.5h0.9v0.9h-0.9zM92.6 248.7h0.8v0.8h-0.8zM105.7 249.9h0.7v0.7h-0.7zM80.5 254.7h0.7v0.7h-0.7zM99.8 239.7h0.9v0.9h-0.9zM104.5 230.0h0.7v0.7h-0.7zM96.6 235.1h0.7v0.7h-0.7zM103.2 230.1h0.7v0.7h-0.7zM105.3 235.6h0.9v0.9h-0.9zM79.3 255.2h0.9v0.9h-0.9zM89.7 242.3h0.7v0.7h-0.7zM96.1 236.4h0.9v0.9h-0.9zM92.9 239.9h0.9v0.9h-0.9zM90.0 262.5h0.8v0.8h-0.8zM88.5 245.6h0.9v0.9h-0.9zM107.1 245.9h0.8v0.8h-0.8zM99.7 233.7h0.9v0.9h-0.9zM100.5 232.3h0.7v0.7h-0.7zM94.3 241.4h0.8v0.8h-0.8zM88.8 243.1h0.7v0.7h-0.7zM87.7 244.1h0.8v0.8h-0.8zM96.4 261.0h0.9v0.9h-0.9zM96.0 235.4h0.8v0.8h-0.8zM96.4 236.2h0.8v0.8h-0.8zM99.9 253.1h0.9v0.9h-0.9zM100.2 232.4h0.9v0.9h-0.9zM83.3 253.1h0.9v0.9h-0.9zM101.6 240.4h0.7v0.7h-0.7zM95.8 239.6h0.7v0.7h-0.7zM81.8 250.7h0.8v0.8h-0.8zM104.3 230.0h0.9v0.9h-0.9zM103.5 229.8h0.8v0.8h-0.8zM91.2 241.1h0.8v0.8h-0.8zM100.9 233.6h0.9v0.9h-0.9zM104.2 230.4h0.9v0.9h-0.9zM83.8 247.8h0.7v0.7h-0.7zM99.6 240.7h0.8v0.8h-0.8zM70.0 261.9h0.9v0.9h-0.9zM106.9 235.9h0.8v0.8h-0.8zM86.4 247.4h0.9v0.9h-0.9zM79.1 254.2h0.9v0.9h-0.9zM103.2 236.0h0.9v0.9h-0.9zM95.5 236.5h0.7v0.7h-0.7zM104.2 231.3h0.8v0.8h-0.8zM91.9 247.2h0.9v0.9h-0.9zM81.0 255.9h0.7v0.7h-0.7zM99.7 234.3h0.9v0.9h-0.9zM79.6 253.3h0.8v0.8h-0.8zM74.0 258.4h0.7v0.7h-0.7zM106.7 234.8h0.7v0.7h-0.7zM105.5 231.5h0.9v0.9h-0.9zM82.5 250.7h0.9v0.9h-0.9zM79.6 256.7h0.9v0.9h-0.9zM98.2 233.9h0.9v0.9h-0.9zM73.7 259.5h0.9v0.9h-0.9zM100.0 240.0h0.9v0.9h-0.9zM109.2 235.6h0.7v0.7h-0.7zM103.1 232.0h0.8v0.8h-0.8zM95.7 262.2h0.7v0.7h-0.7zM111.0 230.8h0.7v0.7h-0.7zM86.2 246.5h0.7v0.7h-0.7zM98.4 250.0h0.8v0.8h-0.8zM92.7 242.7h0.9v0.9h-0.9zM95.5 236.4h0.9v0.9h-0.9zM81.5 254.8h0.9v0.9h-0.9zM102.5 231.1h0.7v0.7h-0.7zM100.2 232.1h0.8v0.8h-0.8zM98.2 241.1h0.7v0.7h-0.7zM84.6 247.4h0.8v0.8h-0.8zM80.3 263.7h0.7v0.7h-0.7zM91.2 250.5h0.7v0.7h-0.7zM98.5 240.0h0.8v0.8h-0.8zM98.5 237.2h0.8v0.8h-0.8zM101.8 230.2h0.7v0.7h-0.7zM98.1 237.7h0.9v0.9h-0.9zM95.5 236.1h0.9v0.9h-0.9zM99.6 261.3h0.7v0.7h-0.7zM93.4 239.8h0.9v0.9h-0.9zM105.9 237.3h0.7v0.7h-0.7zM93.6 252.0h0.9v0.9h-0.9zM88.9 243.0h0.8v0.8h-0.8zM93.4 248.8h0.7v0.7h-0.7zM93.0 239.8h0.7v0.7h-0.7zM105.4 229.8h0.9v0.9h-0.9zM93.2 247.5h0.7v0.7h-0.7zM91.4 243.5h0.8v0.8h-0.8zM80.2 252.1h0.7v0.7h-0.7zM87.8 258.1h0.8v0.8h-0.8zM101.5 230.9h0.8v0.8h-0.8zM81.2 259.9h0.8v0.8h-0.8zM99.0 248.9h0.7v0.7h-0.7zM95.2 252.5h0.7v0.7h-0.7zM92.9 246.0h0.9v0.9h-0.9zM94.8 254.8h0.8v0.8h-0.8zM97.4 243.4h0.7v0.7h-0.7zM79.6 263.3h0.9v0.9h-0.9zM98.8 240.9h0.8v0.8h-0.8zM98.3 247.8h0.7v0.7h-0.7zM87.7 251.3h0.9v0.9h-0.9zM96.6 236.3h0.7v0.7h-0.7zM100.5 231.3h0.7v0.7h-0.7zM99.1 232.5h0.9v0.9h-0.9zM101.7 233.4h0.8v0.8h-0.8zM95.8 262.2h0.7v0.7h-0.7zM82.3 254.3h0.7v0.7h-0.7zM107.7 230.7h0.7v0.7h-0.7zM70.2 264.1h0.8v0.8h-0.8zM94.7 240.1h0.8v0.8h-0.8zM84.0 250.7h0.7v0.7h-0.7zM94.1 256.7h0.8v0.8h-0.8zM98.8 233.6h0.8v0.8h-0.8zM95.2 236.3h0.7v0.7h-0.7zM95.1 239.2h0.8v0.8h-0.8zM105.6 243.7h0.8v0.8h-0.8zM95.4 241.3h0.7v0.7h-0.7zM100.5 231.5h0.8v0.8h-0.8zM101.8 229.8h0.8v0.8h-0.8zM92.6 245.0h0.9v0.9h-0.9zM100.4 238.8h0.9v0.9h-0.9zM102.6 235.1h0.7v0.7h-0.7zM97.4 240.5h0.7v0.7h-0.7zM95.0 241.4h0.8v0.8h-0.8zM88.8 245.0h0.7v0.7h-0.7zM103.1 233.0h0.9v0.9h-0.9zM97.9 242.4h0.9v0.9h-0.9zM90.2 244.3h0.9v0.9h-0.9zM95.3 245.5h0.9v0.9h-0.9zM106.6 230.5h0.9v0.9h-0.9zM106.4 234.7h0.7v0.7h-0.7zM96.5 236.6h0.7v0.7h-0.7zM96.7 259.1h0.9v0.9h-0.9zM97.5 234.2h0.7v0.7h-0.7zM101.5 246.7h0.9v0.9h-0.9zM98.5 241.3h0.8v0.8h-0.8zM109.9 232.7h0.8v0.8h-0.8zM103.7 232.4h0.8v0.8h-0.8zM105.6 235.6h0.9v0.9h-0.9zM102.9 231.2h0.9v0.9h-0.9zM93.1 241.1h0.7v0.7h-0.7zM86.6 245.0h0.8v0.8h-0.8zM95.4 260.6h0.9v0.9h-0.9zM90.7 243.3h0.8v0.8h-0.8zM94.3 239.6h0.9v0.9h-0.9zM97.7 235.5h0.9v0.9h-0.9zM79.5 253.9h0.9v0.9h-0.9zM79.8 252.6h0.7v0.7h-0.7zM101.3 234.2h0.9v0.9h-0.9zM102.7 238.8h0.8v0.8h-0.8zM108.0 230.0h0.8v0.8h-0.8zM96.5 246.7h0.9v0.9h-0.9zM107.6 245.1h0.8v0.8h-0.8zM86.8 245.0h0.8v0.8h-0.8zM91.6 240.6h0.8v0.8h-0.8zM89.1 255.9h0.7v0.7h-0.7zM96.5 238.9h0.7v0.7h-0.7zM96.4 243.9h0.9v0.9h-0.9zM88.7 248.5h0.8v0.8h-0.8zM101.0 238.7h0.9v0.9h-0.9zM79.4 255.9h0.9v0.9h-0.9zM94.5 240.4h0.8v0.8h-0.8zM74.0 262.0h0.7v0.7h-0.7zM72.7 261.4h0.8v0.8h-0.8zM105.8 232.4h0.8v0.8h-0.8zM106.7 235.4h0.9v0.9h-0.9zM103.5 244.7h0.9v0.9h-0.9zM103.2 240.0h0.9v0.9h-0.9zM105.5 231.3h0.9v0.9h-0.9zM88.9 246.8h0.8v0.8h-0.8zM102.9 229.5h0.9v0.9h-0.9zM91.9 242.5h0.8v0.8h-0.8zM97.1 239.1h0.7v0.7h-0.7zM100.5 239.3h0.7v0.7h-0.7zM86.3 251.3h0.9v0.9h-0.9zM78.8 257.7h0.9v0.9h-0.9zM107.9 238.2h0.9v0.9h-0.9zM100.1 234.2h0.8v0.8h-0.8zM105.1 236.3h0.8v0.8h-0.8zM90.0 245.6h0.9v0.9h-0.9zM95.8 237.6h0.8v0.8h-0.8zM83.5 249.1h0.9v0.9h-0.9zM74.8 262.6h0.9v0.9h-0.9zM82.3 250.0h0.9v0.9h-0.9zM104.1 239.1h0.9v0.9h-0.9zM109.4 243.1h0.9v0.9h-0.9zM93.7 249.1h0.9v0.9h-0.9zM106.4 240.8h0.9v0.9h-0.9zM96.4 235.5h0.8v0.8h-0.8zM78.5 255.4h0.8v0.8h-0.8zM94.9 255.4h0.9v0.9h-0.9zM98.8 236.1h0.9v0.9h-0.9zM105.4 236.7h0.9v0.9h-0.9zM98.6 255.1h0.7v0.7h-0.7zM104.8 229.9h0.7v0.7h-0.7zM105.7 234.6h0.9v0.9h-0.9zM107.9 231.2h0.9v0.9h-0.9zM92.3 239.2h0.8v0.8h-0.8zM68.9 262.8h0.7v0.7h-0.7zM83.8 251.2h0.8v0.8h-0.8zM99.3 242.9h0.9v0.9h-0.9zM90.5 245.2h0.7v0.7h-0.7zM76.5 261.3h0.8v0.8h-0.8zM90.1 244.6h0.7v0.7h-0.7zM86.8 249.7h0.9v0.9h-0.9zM104.7 229.7h0.8v0.8h-0.8zM94.6 238.3h0.9v0.9h-0.9zM101.6 242.2h0.9v0.9h-0.9zM100.4 232.9h0.9v0.9h-0.9zM105.1 234.4h0.8v0.8h-0.8zM105.1 238.4h0.8v0.8h-0.8zM67.0 264.5h0.8v0.8h-0.8zM90.5 249.2h0.8v0.8h-0.8zM80.8 253.0h0.9v0.9h-0.9zM96.9 245.1h0.8v0.8h-0.8zM101.0 256.8h0.9v0.9h-0.9zM72.5 259.6h0.9v0.9h-0.9zM96.9 239.0h0.9v0.9h-0.9zM96.6 235.3h0.7v0.7h-0.7zM106.6 230.7h0.9v0.9h-0.9zM90.9 244.0h0.8v0.8h-0.8zM80.5 255.9h0.7v0.7h-0.7zM93.1 248.2h0.9v0.9h-0.9zM67.3 264.4h0.8v0.8h-0.8zM95.9 241.7h0.8v0.8h-0.8zM105.5 240.3h0.8v0.8h-0.8zM89.3 249.9h0.8v0.8h-0.8zM102.5 230.0h0.9v0.9h-0.9zM89.9 242.8h0.7v0.7h-0.7zM87.9 246.5h0.7v0.7h-0.7zM106.5 238.6h0.9v0.9h-0.9zM100.1 231.4h0.9v0.9h-0.9zM102.4 238.7h0.8v0.8h-0.8zM92.9 240.4h0.9v0.9h-0.9zM97.9 233.8h0.9v0.9h-0.9zM94.7 248.8h0.9v0.9h-0.9zM104.2 231.1h0.7v0.7h-0.7zM96.2 238.0h0.7v0.7h-0.7zM80.2 261.5h0.8v0.8h-0.8zM93.0 247.4h0.8v0.8h-0.8zM91.7 241.7h0.9v0.9h-0.9zM81.4 255.1h0.9v0.9h-0.9zM85.6 258.0h0.9v0.9h-0.9zM100.0 235.4h0.8v0.8h-0.8zM88.2 246.7h0.9v0.9h-0.9zM99.4 247.7h0.9v0.9h-0.9zM86.1 248.6h0.7v0.7h-0.7zM80.9 254.0h0.9v0.9h-0.9zM95.7 246.4h0.9v0.9h-0.9zM106.5 232.9h0.9v0.9h-0.9zM83.3 260.3h0.9v0.9h-0.9zM84.0 251.4h0.8v0.8h-0.8zM102.4 234.2h0.9v0.9h-0.9zM78.3 260.7h0.8v0.8h-0.8zM85.8 249.5h0.8v0.8h-0.8zM76.1 258.9h0.8v0.8h-0.8zM87.0 247.4h0.9v0.9h-0.9zM88.6 245.0h0.7v0.7h-0.7zM96.1 235.9h0.7v0.7h-0.7zM94.7 244.3h0.8v0.8h-0.8zM104.8 232.3h0.7v0.7h-0.7zM103.4 231.6h0.7v0.7h-0.7zM99.7 240.1h0.7v0.7h-0.7zM102.9 229.9h0.8v0.8h-0.8zM86.3 254.4h0.7v0.7h-0.7zM76.0 256.4h0.9v0.9h-0.9zM97.7 236.3h0.7v0.7h-0.7zM96.5 240.1h0.8v0.8h-0.8zM90.4 243.2h0.7v0.7h-0.7zM86.3 264.5h0.7v0.7h-0.7zM94.2 244.5h0.7v0.7h-0.7zM102.2 236.6h0.8v0.8h-0.8zM105.3 229.8h0.9v0.9h-0.9zM108.8 231.0h0.7v0.7h-0.7zM100.3 238.2h0.7v0.7h-0.7zM90.7 243.8h0.7v0.7h-0.7zM91.3 245.8h0.9v0.9h-0.9zM102.0 229.6h0.9v0.9h-0.9zM96.0 239.7h0.7v0.7h-0.7zM93.8 243.1h0.7v0.7h-0.7zM106.0 230.3h0.8v0.8h-0.8zM91.7 241.6h0.8v0.8h-0.8zM104.6 231.0h0.8v0.8h-0.8zM90.1 246.0h0.9v0.9h-0.9zM100.0 248.5h0.7v0.7h-0.7zM94.6 244.0h0.7v0.7h-0.7zM102.1 229.5h0.8v0.8h-0.8zM81.7 254.2h0.9v0.9h-0.9zM109.7 237.2h0.8v0.8h-0.8zM87.0 247.8h0.7v0.7h-0.7zM94.6 254.0h0.9v0.9h-0.9zM99.7 238.9h0.9v0.9h-0.9zM92.5 242.6h0.9v0.9h-0.9zM110.0 230.4h0.8v0.8h-0.8zM101.3 230.2h0.9v0.9h-0.9zM76.6 256.9h0.7v0.7h-0.7zM97.8 233.8h0.9v0.9h-0.9zM83.8 254.7h0.7v0.7h-0.7zM98.3 236.2h0.9v0.9h-0.9zM97.1 238.4h0.8v0.8h-0.8zM102.7 243.9h0.9v0.9h-0.9zM89.8 248.2h0.8v0.8h-0.8zM95.6 255.0h0.9v0.9h-0.9zM102.2 231.9h0.9v0.9h-0.9zM94.7 251.8h0.9v0.9h-0.9zM95.4 237.5h0.7v0.7h-0.7zM77.7 256.1h0.9v0.9h-0.9zM94.4 249.4h0.9v0.9h-0.9zM102.3 232.8h0.9v0.9h-0.9zM103.8 258.0h0.8v0.8h-0.8zM101.6 242.4h0.8v0.8h-0.8zM99.2 255.1h0.7v0.7h-0.7zM100.5 232.9h0.9v0.9h-0.9zM101.4 233.0h0.9v0.9h-0.9zM99.3 235.5h0.8v0.8h-0.8zM99.7 236.3h0.8v0.8h-0.8zM69.0 262.9h0.7v0.7h-0.7zM98.1 236.1h0.8v0.8h-0.8zM104.2 231.9h0.9v0.9h-0.9zM81.2 258.4h0.7v0.7h-0.7zM77.9 257.4h0.9v0.9h-0.9zM97.2 237.1h0.8v0.8h-0.8zM84.1 248.4h0.8v0.8h-0.8zM91.4 255.6h0.7v0.7h-0.7zM82.6 253.0h0.9v0.9h-0.9zM93.7 240.0h0.9v0.9h-0.9zM91.4 256.6h0.7v0.7h-0.7zM86.1 256.7h0.7v0.7h-0.7zM88.6 245.7h0.9v0.9h-0.9zM96.5 236.4h0.9v0.9h-0.9zM74.7 257.6h0.8v0.8h-0.8zM98.7 246.6h0.7v0.7h-0.7zM86.7 252.5h0.8v0.8h-0.8zM73.1 258.9h0.8v0.8h-0.8zM88.0 248.6h0.9v0.9h-0.9zM106.8 231.7h0.7v0.7h-0.7zM94.4 239.4h0.9v0.9h-0.9zM101.0 232.6h0.8v0.8h-0.8zM98.9 238.9h0.8v0.8h-0.8zM96.2 237.0h0.7v0.7h-0.7zM104.0 232.4h0.8v0.8h-0.8zM103.8 230.6h0.8v0.8h-0.8zM100.8 233.2h0.9v0.9h-0.9zM104.0 235.0h0.7v0.7h-0.7zM103.1 248.7h0.7v0.7h-0.7zM89.8 242.4h0.9v0.9h-0.9zM97.8 233.8h0.9v0.9h-0.9zM86.4 253.9h0.9v0.9h-0.9zM100.5 242.6h0.7v0.7h-0.7zM99.0 233.7h0.9v0.9h-0.9zM101.6 232.4h0.8v0.8h-0.8zM89.1 258.5h0.9v0.9h-0.9zM95.7 260.8h0.7v0.7h-0.7zM91.0 242.7h0.8v0.8h-0.8zM100.7 236.3h0.8v0.8h-0.8zM75.7 255.8h0.8v0.8h-0.8zM101.3 238.8h0.8v0.8h-0.8zM107.0 230.3h0.8v0.8h-0.8zM110.1 235.4h0.8v0.8h-0.8zM103.6 241.4h0.9v0.9h-0.9zM81.9 255.2h0.7v0.7h-0.7zM99.7 246.5h0.9v0.9h-0.9zM97.7 236.8h0.8v0.8h-0.8zM95.5 245.5h0.7v0.7h-0.7zM108.6 229.8h0.9v0.9h-0.9zM103.6 237.0h0.8v0.8h-0.8zM103.5 238.6h0.7v0.7h-0.7zM94.9 236.7h0.8v0.8h-0.8zM74.7 257.7h0.9v0.9h-0.9zM97.5 260.3h0.7v0.7h-0.7zM104.8 235.1h0.9v0.9h-0.9zM97.6 235.5h0.7v0.7h-0.7zM102.2 229.9h0.7v0.7h-0.7zM89.0 243.5h0.8v0.8h-0.8zM106.4 230.0h0.9v0.9h-0.9zM102.7 239.1h0.7v0.7h-0.7zM96.4 255.1h0.8v0.8h-0.8zM106.8 237.8h0.9v0.9h-0.9zM94.0 250.9h0.8v0.8h-0.8zM73.0 261.5h0.8v0.8h-0.8zM77.8 259.4h0.7v0.7h-0.7zM77.3 257.3h0.8v0.8h-0.8zM99.2 236.7h0.8v0.8h-0.8zM103.3 232.8h0.9v0.9h-0.9zM91.1 245.9h0.8v0.8h-0.8zM106.5 237.9h0.8v0.8h-0.8zM89.9 242.3h0.8v0.8h-0.8zM73.7 260.8h0.8v0.8h-0.8zM107.0 238.9h0.8v0.8h-0.8zM80.2 258.1h0.9v0.9h-0.9zM93.5 245.2h0.7v0.7h-0.7zM85.8 257.8h0.7v0.7h-0.7zM96.7 243.8h0.8v0.8h-0.8zM102.4 251.2h0.7v0.7h-0.7zM102.9 229.2h0.7v0.7h-0.7zM87.6 253.4h0.9v0.9h-0.9zM73.0 261.2h0.8v0.8h-0.8zM103.2 234.3h0.9v0.9h-0.9zM100.0 239.1h0.9v0.9h-0.9zM91.7 243.8h0.9v0.9h-0.9zM72.6 260.4h0.9v0.9h-0.9zM104.1 237.0h0.7v0.7h-0.7zM87.4 254.8h0.9v0.9h-0.9zM86.3 257.1h0.8v0.8h-0.8zM81.0 256.5h0.8v0.8h-0.8zM79.6 254.1h0.8v0.8h-0.8zM89.5 246.3h0.7v0.7h-0.7zM93.2 240.6h0.8v0.8h-0.8zM104.9 236.4h0.9v0.9h-0.9zM92.5 240.9h0.7v0.7h-0.7zM105.7 231.2h0.8v0.8h-0.8zM107.9 230.0h0.8v0.8h-0.8zM94.1 247.9h0.9v0.9h-0.9zM76.7 257.5h0.7v0.7h-0.7zM104.1 233.2h0.7v0.7h-0.7zM82.5 254.5h0.7v0.7h-0.7zM73.5 258.9h0.9v0.9h-0.9zM76.2 259.4h0.7v0.7h-0.7zM101.9 235.2h0.7v0.7h-0.7zM104.5 229.5h0.8v0.8h-0.8zM80.0 251.6h0.9v0.9h-0.9zM92.5 255.5h0.7v0.7h-0.7zM89.5 245.5h0.8v0.8h-0.8zM93.6 259.0h0.7v0.7h-0.7zM100.4 235.0h0.8v0.8h-0.8zM107.0 232.7h0.9v0.9h-0.9zM109.0 229.3h0.8v0.8h-0.8zM106.5 229.2h0.8v0.8h-0.8zM103.9 235.3h0.9v0.9h-0.9zM86.8 247.1h0.7v0.7h-0.7zM69.8 262.3h0.9v0.9h-0.9zM95.2 248.6h0.9v0.9h-0.9zM80.6 255.1h0.7v0.7h-0.7zM84.3 255.7h0.7v0.7h-0.7zM82.2 261.6h0.8v0.8h-0.8zM107.1 237.1h0.7v0.7h-0.7zM100.8 237.2h0.8v0.8h-0.8zM105.0 241.2h0.9v0.9h-0.9zM90.6 241.5h0.8v0.8h-0.8zM71.9 262.7h0.7v0.7h-0.7zM89.2 255.5h0.7v0.7h-0.7zM81.9 249.7h0.8v0.8h-0.8zM101.3 235.7h0.7v0.7h-0.7zM98.0 239.6h0.8v0.8h-0.8zM92.9 243.2h0.9v0.9h-0.9zM96.5 239.6h0.9v0.9h-0.9zM91.6 240.7h0.9v0.9h-0.9zM107.1 245.9h0.7v0.7h-0.7zM75.9 260.2h0.8v0.8h-0.8zM97.0 234.4h0.7v0.7h-0.7zM91.9 255.6h0.8v0.8h-0.8zM104.9 230.9h0.7v0.7h-0.7zM70.8 262.7h0.7v0.7h-0.7zM98.7 247.7h0.9v0.9h-0.9zM96.5 249.0h0.8v0.8h-0.8zM97.8 253.4h0.9v0.9h-0.9zM99.7 233.8h0.8v0.8h-0.8zM100.0 241.3h0.8v0.8h-0.8zM105.3 237.8h0.8v0.8h-0.8zM90.2 242.0h0.7v0.7h-0.7zM91.0 247.5h0.8v0.8h-0.8zM89.1 249.0h0.8v0.8h-0.8zM98.3 233.8h0.7v0.7h-0.7zM88.6 242.9h0.7v0.7h-0.7zM92.3 240.2h0.9v0.9h-0.9zM103.3 235.2h0.8v0.8h-0.8zM106.4 246.6h0.7v0.7h-0.7zM91.9 251.6h0.9v0.9h-0.9zM103.3 229.3h0.7v0.7h-0.7zM91.5 240.8h0.9v0.9h-0.9zM89.6 244.4h0.9v0.9h-0.9zM92.9 241.4h0.7v0.7h-0.7zM95.5 237.3h0.8v0.8h-0.8zM88.9 244.4h0.9v0.9h-0.9zM107.4 229.2h0.7v0.7h-0.7zM89.6 247.2h0.8v0.8h-0.8zM87.4 252.3h0.9v0.9h-0.9zM108.8 231.5h0.7v0.7h-0.7zM102.7 229.5h0.7v0.7h-0.7zM84.0 253.3h0.9v0.9h-0.9zM93.4 239.0h0.8v0.8h-0.8z" fill="#3a2c8a" opacity="0.6"/>
<rect x="46.5" y="166.2" width="106.7" height="106.7" fill="none" stroke="#231f20" stroke-width="1"/>
<line x1="43.90" y1="166.20" x2="46.50" y2="166.20" stroke="#231f20" stroke-width="0.9" />
<text x="40.90" y="168.10" font-size="6.8" text-anchor="end" textLength="10.20" lengthAdjust="spacingAndGlyphs" >100</text>
<line x1="153.20" y1="272.90" x2="153.20" y2="275.50" stroke="#231f20" stroke-width="0.9" />
<line x1="43.90" y1="192.88" x2="46.50" y2="192.88" stroke="#231f20" stroke-width="0.9" />
<text x="40.90" y="194.78" font-size="6.8" text-anchor="end" textLength="6.80" lengthAdjust="spacingAndGlyphs" >50</text>
<line x1="126.52" y1="272.90" x2="126.52" y2="275.50" stroke="#231f20" stroke-width="0.9" />
<line x1="43.90" y1="219.55" x2="46.50" y2="219.55" stroke="#231f20" stroke-width="0.9" />
<text x="40.90" y="221.45" font-size="6.8" text-anchor="end" textLength="3.40" lengthAdjust="spacingAndGlyphs" >0</text>
<line x1="99.85" y1="272.90" x2="99.85" y2="275.50" stroke="#231f20" stroke-width="0.9" />
<line x1="43.90" y1="246.22" x2="46.50" y2="246.22" stroke="#231f20" stroke-width="0.9" />
<text x="40.90" y="248.12" font-size="6.8" text-anchor="end" textLength="10.20" lengthAdjust="spacingAndGlyphs" >-50</text>
<line x1="73.17" y1="272.90" x2="73.17" y2="275.50" stroke="#231f20" stroke-width="0.9" />
<line x1="43.90" y1="272.90" x2="46.50" y2="272.90" stroke="#231f20" stroke-width="0.9" />
<text x="40.90" y="274.80" font-size="6.8" text-anchor="end" textLength="13.60" lengthAdjust="spacingAndGlyphs" >-100</text>
<line x1="46.50" y1="272.90" x2="46.50" y2="275.50" stroke="#231f20" stroke-width="0.9" />
<text x="46.50" y="284.60" font-size="6.8" text-anchor="middle" textLength="12.55" lengthAdjust="spacingAndGlyphs" >-100</text>
<text x="73.17" y="284.60" font-size="6.8" text-anchor="middle" textLength="9.10" lengthAdjust="spacingAndGlyphs" >-50</text>
<text x="99.85" y="284.60" font-size="6.8" text-anchor="middle" textLength="3.45" lengthAdjust="spacingAndGlyphs" >0</text>
<text x="126.52" y="284.60" font-size="6.8" text-anchor="middle" textLength="6.90" lengthAdjust="spacingAndGlyphs" >50</text>
<text x="153.20" y="284.60" font-size="6.8" text-anchor="middle" textLength="10.35" lengthAdjust="spacingAndGlyphs" >100</text>
<text x="99.70" y="160.60" font-size="8.6" text-anchor="middle" textLength="53.60" lengthAdjust="spacingAndGlyphs" >WM MBC-like</text>
<text x="14.10" y="219.15" font-size="8.0" text-anchor="middle" textLength="102.00" lengthAdjust="spacingAndGlyphs" transform="rotate(-90 14.10 219.15)" >Methylation change in tumor cells</text>
<text x="24.30" y="219.40" font-size="8.0" text-anchor="middle" textLength="73.30" lengthAdjust="spacingAndGlyphs" transform="rotate(-90 24.30 219.40)" >(WM MBC-like – NBC, %)</text>
<text x="100.50" y="296.10" font-size="8.0" text-anchor="middle" textLength="111.00" lengthAdjust="spacingAndGlyphs" >Methylation change in normal B cells</text>
<text x="100.10" y="306.30" font-size="8.0" text-anchor="middle" textLength="40.40" lengthAdjust="spacingAndGlyphs" >(PC – NBC, %)</text>
<line x1="259.85" y1="166.20" x2="259.85" y2="272.90" stroke="#d8d8d8" stroke-width="0.7" />
<line x1="206.50" y1="219.55" x2="313.20" y2="219.55" stroke="#d8d8d8" stroke-width="0.7" />
<g clip-path="url(#clipC2)">
<ellipse cx="239.85" cy="239.55" rx="48" ry="14" transform="rotate(-46 239.85 239.55)" fill="url(#gA)"/>
<ellipse cx="272.85" cy="201.55" rx="33" ry="10" transform="rotate(-51 272.85 201.55)" fill="url(#gA)"/>
<ellipse cx="255.85" cy="223.55" rx="20" ry="6.5" transform="rotate(-47 255.85 223.55)" fill="url(#gB)"/>
<ellipse cx="264.85" cy="212.55" rx="14" ry="6" transform="rotate(-52 264.85 212.55)" fill="url(#gB)"/>
<ellipse cx="259.85" cy="224.55" rx="7" ry="1.4" transform="rotate(-90 259.85 224.55)" fill="url(#gC)"/>
<ellipse cx="259.85" cy="219.55" rx="5" ry="2.3" transform="rotate(-60 259.85 219.55)" fill="url(#gC)"/>
<ellipse cx="259.85" cy="219.54999999999998" rx="0.9" ry="1.6" fill="#000" opacity="0.8" filter="url(#bl05)"/>
</g>
<clipPath id="clipC2"><rect x="206.5" y="166.2" width="106.7" height="106.7"/></clipPath>
<path d="M227.30,264.60 L261.68,230.22 L269.28,230.22 L269.18,233.22 L268.58,238.72 L267.18,247.02 L264.58,253.22 L261.18,259.52 L258.58,262.62 L256.48,264.60 L227.30,264.60Z" fill="#3a2c8a"/>
<path d="M264.0 255.3h.8v.8h-.8zM266.0 245.1h.8v.8h-.8zM268.3 241.2h.8v.8h-.8zM259.4 261.8h.8v.8h-.8zM270.0 236.5h.8v.8h-.8zM265.7 252.2h.8v.8h-.8zM267.1 242.9h.8v.8h-.8zM261.6 256.0h.8v.8h-.8zM264.2 253.1h.8v.8h-.8zM265.7 250.2h.8v.8h-.8zM260.0 261.2h.8v.8h-.8zM260.2 261.0h.8v.8h-.8zM267.9 230.9h.8v.8h-.8zM269.1 236.1h.8v.8h-.8zM266.6 242.5h.8v.8h-.8zM265.7 249.1h.8v.8h-.8zM268.6 231.1h.8v.8h-.8zM269.6 241.6h.8v.8h-.8zM266.3 247.5h.8v.8h-.8zM260.2 258.8h.8v.8h-.8zM260.8 258.8h.8v.8h-.8zM268.2 241.5h.8v.8h-.8zM268.6 237.7h.8v.8h-.8zM268.1 245.9h.8v.8h-.8zM269.1 234.9h.8v.8h-.8zM262.2 255.0h.8v.8h-.8zM267.5 244.5h.8v.8h-.8zM264.7 251.4h.8v.8h-.8zM261.0 259.5h.8v.8h-.8zM264.7 251.7h.8v.8h-.8zM269.2 242.2h.8v.8h-.8zM269.0 238.9h.8v.8h-.8zM260.3 261.6h.8v.8h-.8zM260.8 258.5h.8v.8h-.8zM268.7 247.9h.8v.8h-.8zM259.8 261.2h.8v.8h-.8zM268.6 231.2h.8v.8h-.8zM268.0 236.2h.8v.8h-.8zM264.2 254.1h.8v.8h-.8zM266.3 245.8h.8v.8h-.8zM267.1 243.4h.8v.8h-.8zM269.3 231.0h.8v.8h-.8zM265.4 248.3h.8v.8h-.8zM261.2 260.3h.8v.8h-.8zM257.4 265.0h.8v.8h-.8zM268.0 244.3h.8v.8h-.8zM267.0 244.2h.8v.8h-.8zM266.2 250.7h.8v.8h-.8zM261.3 259.8h.8v.8h-.8zM268.0 241.8h.8v.8h-.8zM271.6 236.4h.8v.8h-.8zM264.2 257.7h.8v.8h-.8zM264.0 251.3h.8v.8h-.8zM261.4 258.6h.8v.8h-.8zM266.0 252.0h.8v.8h-.8zM250.7 265.4h.8v.8h-.8zM264.8 253.6h.8v.8h-.8zM263.4 256.2h.8v.8h-.8zM268.2 233.1h.8v.8h-.8zM264.8 250.0h.8v.8h-.8zM269.0 232.0h.8v.8h-.8zM267.8 232.0h.8v.8h-.8zM269.4 234.5h.8v.8h-.8zM262.2 255.8h.8v.8h-.8zM270.1 234.6h.8v.8h-.8zM268.5 238.1h.8v.8h-.8zM267.4 235.9h.8v.8h-.8zM251.0 265.2h.8v.8h-.8zM269.7 235.8h.8v.8h-.8zM266.0 245.5h.8v.8h-.8zM264.9 249.2h.8v.8h-.8zM268.9 240.3h.8v.8h-.8zM262.2 259.4h.8v.8h-.8zM267.7 237.1h.8v.8h-.8zM267.9 239.6h.8v.8h-.8zM260.5 259.8h.8v.8h-.8zM269.8 232.1h.8v.8h-.8zM268.7 239.6h.8v.8h-.8zM268.6 246.8h.8v.8h-.8zM267.0 244.6h.8v.8h-.8zM268.6 242.3h.8v.8h-.8zM260.4 258.8h.8v.8h-.8zM267.3 242.1h.8v.8h-.8zM268.5 230.6h.8v.8h-.8zM263.7 257.7h.8v.8h-.8zM259.2 262.0h.8v.8h-.8zM265.5 247.7h.8v.8h-.8zM262.2 255.0h.8v.8h-.8zM268.1 240.4h.8v.8h-.8zM267.8 243.7h.8v.8h-.8zM267.8 239.1h.8v.8h-.8zM266.8 243.5h.8v.8h-.8zM264.9 250.2h.8v.8h-.8zM265.8 247.4h.8v.8h-.8zM269.1 235.3h.8v.8h-.8zM259.2 261.6h.8v.8h-.8zM264.0 251.5h.8v.8h-.8zM262.6 258.8h.8v.8h-.8zM268.9 238.8h.8v.8h-.8zM265.6 249.1h.8v.8h-.8zM252.4 264.7h.8v.8h-.8zM266.8 246.8h.8v.8h-.8zM263.7 256.3h.8v.8h-.8zM241.1 266.0h.8v.8h-.8zM269.9 233.9h.8v.8h-.8zM258.4 261.4h.8v.8h-.8zM268.0 242.3h.8v.8h-.8zM261.9 255.5h.8v.8h-.8zM257.4 264.2h.8v.8h-.8zM267.8 237.9h.8v.8h-.8zM266.0 247.9h.8v.8h-.8zM262.0 257.9h.8v.8h-.8zM267.6 235.0h.8v.8h-.8zM260.6 261.6h.8v.8h-.8zM267.2 246.0h.8v.8h-.8zM269.3 232.8h.8v.8h-.8zM267.0 239.6h.8v.8h-.8zM260.8 262.5h.8v.8h-.8zM270.3 231.9h.8v.8h-.8zM267.7 239.2h.8v.8h-.8zM257.9 262.2h.8v.8h-.8zM267.6 236.1h.8v.8h-.8zM264.7 251.6h.8v.8h-.8zM259.5 261.6h.8v.8h-.8zM267.3 245.5h.8v.8h-.8zM269.2 242.2h.8v.8h-.8zM258.4 263.1h.8v.8h-.8zM269.4 232.4h.8v.8h-.8zM259.3 262.9h.8v.8h-.8zM268.9 233.1h.8v.8h-.8zM265.6 250.7h.8v.8h-.8zM266.4 246.0h.8v.8h-.8zM260.6 258.2h.8v.8h-.8zM264.1 256.7h.8v.8h-.8zM267.4 244.6h.8v.8h-.8zM268.1 231.6h.8v.8h-.8zM257.8 262.7h.8v.8h-.8zM271.2 230.4h.8v.8h-.8zM261.9 258.7h.8v.8h-.8zM262.5 254.6h.8v.8h-.8zM269.1 234.8h.8v.8h-.8zM269.5 231.3h.8v.8h-.8zM266.7 243.7h.8v.8h-.8zM254.8 265.0h.8v.8h-.8zM268.3 248.0h.8v.8h-.8zM256.0 264.5h.8v.8h-.8zM257.8 264.0h.8v.8h-.8zM259.8 260.1h.8v.8h-.8zM271.1 231.8h.8v.8h-.8zM263.5 253.0h.8v.8h-.8zM268.2 239.0h.8v.8h-.8zM265.7 250.9h.8v.8h-.8zM267.2 244.7h.8v.8h-.8zM267.1 244.4h.8v.8h-.8zM268.4 241.7h.8v.8h-.8zM269.9 233.9h.8v.8h-.8zM260.5 259.4h.8v.8h-.8zM269.4 239.9h.8v.8h-.8zM267.6 240.9h.8v.8h-.8zM259.6 261.7h.8v.8h-.8zM268.0 233.7h.8v.8h-.8zM262.3 258.0h.8v.8h-.8zM263.0 253.4h.8v.8h-.8zM268.2 241.7h.8v.8h-.8zM260.6 258.3h.8v.8h-.8zM260.2 259.7h.8v.8h-.8zM267.5 251.6h.8v.8h-.8zM257.9 263.3h.8v.8h-.8zM265.9 250.5h.8v.8h-.8zM262.5 255.4h.8v.8h-.8zM269.4 230.4h.8v.8h-.8zM263.3 258.3h.8v.8h-.8zM267.1 239.5h.8v.8h-.8zM262.0 258.5h.8v.8h-.8zM270.8 232.2h.8v.8h-.8zM266.9 250.8h.8v.8h-.8zM269.8 247.3h.8v.8h-.8zM268.7 234.5h.8v.8h-.8zM259.6 261.6h.8v.8h-.8zM268.9 242.4h.8v.8h-.8zM268.5 238.4h.8v.8h-.8zM263.5 256.4h.8v.8h-.8zM262.2 258.3h.8v.8h-.8zM262.5 256.2h.8v.8h-.8zM266.1 249.7h.8v.8h-.8zM268.0 233.4h.8v.8h-.8zM259.7 259.5h.8v.8h-.8zM267.5 236.8h.8v.8h-.8zM263.6 258.7h.8v.8h-.8zM268.3 242.7h.8v.8h-.8zM264.9 250.5h.8v.8h-.8zM246.2 264.9h.8v.8h-.8zM268.3 232.1h.8v.8h-.8zM268.0 242.0h.8v.8h-.8zM265.5 250.8h.8v.8h-.8zM267.1 246.4h.8v.8h-.8zM269.4 236.6h.8v.8h-.8zM266.5 243.2h.8v.8h-.8zM271.5 231.1h.8v.8h-.8zM270.2 235.3h.8v.8h-.8zM266.4 250.7h.8v.8h-.8zM270.6 234.2h.8v.8h-.8zM268.6 235.5h.8v.8h-.8zM267.3 237.4h.8v.8h-.8zM267.9 249.7h.8v.8h-.8zM260.0 259.1h.8v.8h-.8zM267.3 244.5h.8v.8h-.8zM269.0 235.9h.8v.8h-.8zM266.7 241.3h.8v.8h-.8zM266.8 244.0h.8v.8h-.8zM268.6 234.7h.8v.8h-.8zM260.7 259.6h.8v.8h-.8zM264.1 254.0h.8v.8h-.8zM268.1 238.7h.8v.8h-.8zM268.3 244.5h.8v.8h-.8zM267.2 241.3h.8v.8h-.8zM262.4 255.0h.8v.8h-.8zM259.8 261.4h.8v.8h-.8zM263.7 251.8h.8v.8h-.8zM268.4 244.6h.8v.8h-.8zM260.4 260.1h.8v.8h-.8zM244.1 265.1h.8v.8h-.8zM234.2 264.7h.8v.8h-.8zM256.5 264.4h.8v.8h-.8zM259.8 259.3h.8v.8h-.8zM268.6 231.7h.8v.8h-.8zM266.3 246.3h.8v.8h-.8zM261.4 258.6h.8v.8h-.8zM260.5 260.1h.8v.8h-.8zM265.1 253.0h.8v.8h-.8zM261.3 258.4h.8v.8h-.8zM265.3 248.8h.8v.8h-.8zM268.2 232.1h.8v.8h-.8zM268.2 239.8h.8v.8h-.8zM267.7 235.6h.8v.8h-.8zM267.4 244.8h.8v.8h-.8zM238.3 265.1h.8v.8h-.8zM268.5 241.6h.8v.8h-.8zM267.8 240.3h.8v.8h-.8zM258.3 262.6h.8v.8h-.8zM259.6 261.4h.8v.8h-.8zM268.5 245.1h.8v.8h-.8zM267.8 244.0h.8v.8h-.8zM268.5 243.3h.8v.8h-.8zM259.6 262.0h.8v.8h-.8zM269.3 239.5h.8v.8h-.8zM266.7 251.3h.8v.8h-.8zM260.2 261.3h.8v.8h-.8zM270.9 230.7h.8v.8h-.8zM264.5 254.7h.8v.8h-.8zM263.0 259.5h.8v.8h-.8zM270.0 236.7h.8v.8h-.8zM267.1 246.3h.8v.8h-.8zM268.8 237.8h.8v.8h-.8zM258.8 262.2h.8v.8h-.8zM266.7 250.7h.8v.8h-.8zM268.0 243.9h.8v.8h-.8zM257.3 262.5h.8v.8h-.8zM264.2 250.6h.8v.8h-.8zM268.0 231.3h.8v.8h-.8zM262.3 256.8h.8v.8h-.8zM269.3 238.8h.8v.8h-.8zM265.2 249.7h.8v.8h-.8zM266.7 252.3h.8v.8h-.8zM265.5 248.7h.8v.8h-.8zM266.9 246.3h.8v.8h-.8zM267.8 239.6h.8v.8h-.8zM263.5 253.5h.8v.8h-.8zM260.1 261.0h.8v.8h-.8zM260.9 258.0h.8v.8h-.8zM266.6 242.8h.8v.8h-.8zM267.9 235.1h.8v.8h-.8zM267.8 235.8h.8v.8h-.8zM245.1 264.6h.8v.8h-.8zM268.2 231.0h.8v.8h-.8zM266.9 241.6h.8v.8h-.8zM269.7 234.6h.8v.8h-.8zM259.5 261.6h.8v.8h-.8zM267.8 235.1h.8v.8h-.8zM263.9 254.6h.8v.8h-.8zM267.7 243.9h.8v.8h-.8zM268.2 235.1h.8v.8h-.8zM269.3 231.5h.8v.8h-.8zM269.8 240.3h.8v.8h-.8zM268.8 235.7h.8v.8h-.8zM260.6 260.4h.8v.8h-.8zM266.0 247.3h.8v.8h-.8zM265.7 251.0h.8v.8h-.8zM268.1 246.3h.8v.8h-.8zM270.4 233.2h.8v.8h-.8zM262.4 258.6h.8v.8h-.8zM259.4 262.6h.8v.8h-.8zM265.9 245.7h.8v.8h-.8zM256.9 264.2h.8v.8h-.8zM268.7 238.7h.8v.8h-.8zM265.0 253.4h.8v.8h-.8zM268.7 238.4h.8v.8h-.8zM263.0 254.2h.8v.8h-.8zM241.6 264.7h.8v.8h-.8zM268.7 240.9h.8v.8h-.8zM264.7 252.5h.8v.8h-.8zM268.4 232.9h.8v.8h-.8zM265.9 248.7h.8v.8h-.8zM263.6 253.8h.8v.8h-.8zM269.3 234.7h.8v.8h-.8zM261.6 258.6h.8v.8h-.8zM262.3 255.1h.8v.8h-.8zM266.4 249.9h.8v.8h-.8zM267.2 241.7h.8v.8h-.8zM270.3 231.0h.8v.8h-.8zM268.5 239.0h.8v.8h-.8zM261.7 260.6h.8v.8h-.8zM269.0 242.4h.8v.8h-.8zM265.9 249.7h.8v.8h-.8zM268.3 237.5h.8v.8h-.8zM270.5 235.0h.8v.8h-.8zM268.1 232.5h.8v.8h-.8zM265.4 250.9h.8v.8h-.8zM264.1 251.0h.8v.8h-.8zM267.5 246.8h.8v.8h-.8zM269.0 232.4h.8v.8h-.8zM268.1 234.0h.8v.8h-.8zM261.4 256.3h.8v.8h-.8zM270.0 239.5h.8v.8h-.8zM259.7 260.4h.8v.8h-.8zM267.1 242.7h.8v.8h-.8zM268.0 230.4h.8v.8h-.8zM265.6 252.5h.8v.8h-.8zM235.3 266.3h.8v.8h-.8zM269.7 230.7h.8v.8h-.8zM233.3 264.7h.8v.8h-.8zM268.4 233.9h.8v.8h-.8zM267.6 242.9h.8v.8h-.8zM263.4 254.3h.8v.8h-.8zM270.2 243.2h.8v.8h-.8zM261.5 260.0h.8v.8h-.8zM265.0 250.3h.8v.8h-.8zM267.9 243.5h.8v.8h-.8zM263.0 256.8h.8v.8h-.8zM266.8 240.6h.8v.8h-.8zM269.1 234.7h.8v.8h-.8zM234.8 265.9h.8v.8h-.8zM260.3 260.6h.8v.8h-.8zM265.4 250.8h.8v.8h-.8zM259.0 262.3h.8v.8h-.8zM267.7 244.0h.8v.8h-.8zM268.5 233.9h.8v.8h-.8zM269.4 235.5h.8v.8h-.8zM270.6 237.5h.8v.8h-.8zM268.6 240.5h.8v.8h-.8zM269.7 242.6h.8v.8h-.8zM262.0 259.5h.8v.8h-.8zM269.2 230.3h.8v.8h-.8zM268.1 242.0h.8v.8h-.8zM260.4 260.5h.8v.8h-.8zM269.1 234.0h.8v.8h-.8zM265.1 252.8h.8v.8h-.8zM263.1 254.2h.8v.8h-.8zM263.5 253.5h.8v.8h-.8zM267.9 246.7h.8v.8h-.8zM268.9 236.3h.8v.8h-.8zM266.2 249.8h.8v.8h-.8zM262.3 258.5h.8v.8h-.8zM268.5 230.7h.8v.8h-.8zM267.9 238.6h.8v.8h-.8zM259.8 260.3h.8v.8h-.8zM261.8 257.9h.8v.8h-.8zM270.1 242.5h.8v.8h-.8zM269.3 240.2h.8v.8h-.8zM243.4 264.6h.8v.8h-.8zM256.9 263.0h.8v.8h-.8zM267.8 233.1h.8v.8h-.8zM269.8 242.9h.8v.8h-.8zM269.2 237.7h.8v.8h-.8zM268.4 237.5h.8v.8h-.8zM267.4 240.4h.8v.8h-.8zM259.6 260.5h.8v.8h-.8zM255.9 263.9h.8v.8h-.8zM270.3 239.3h.8v.8h-.8zM262.2 255.8h.8v.8h-.8zM266.3 247.0h.8v.8h-.8zM266.8 248.4h.8v.8h-.8zM269.3 232.1h.8v.8h-.8zM268.1 242.4h.8v.8h-.8zM268.5 244.7h.8v.8h-.8zM261.3 259.2h.8v.8h-.8zM269.1 238.7h.8v.8h-.8zM268.9 236.6h.8v.8h-.8zM268.2 230.6h.8v.8h-.8zM267.9 238.6h.8v.8h-.8zM266.6 246.6h.8v.8h-.8zM266.5 242.8h.8v.8h-.8zM266.6 244.4h.8v.8h-.8zM265.3 253.2h.8v.8h-.8zM267.1 242.6h.8v.8h-.8zM269.3 230.2h.8v.8h-.8zM269.7 240.4h.8v.8h-.8zM264.2 251.8h.8v.8h-.8zM255.3 264.9h.8v.8h-.8zM266.4 250.7h.8v.8h-.8zM267.4 237.2h.8v.8h-.8zM270.5 230.7h.8v.8h-.8zM268.2 240.6h.8v.8h-.8zM266.8 252.9h.8v.8h-.8zM267.7 244.5h.8v.8h-.8zM260.2 259.5h.8v.8h-.8zM268.7 246.2h.8v.8h-.8zM258.0 262.4h.8v.8h-.8zM269.4 243.1h.8v.8h-.8zM260.5 259.2h.8v.8h-.8zM262.9 253.8h.8v.8h-.8zM264.0 253.0h.8v.8h-.8zM267.3 247.0h.8v.8h-.8zM266.4 246.1h.8v.8h-.8zM249.7 264.8h.8v.8h-.8zM267.7 235.4h.8v.8h-.8zM263.9 254.0h.8v.8h-.8zM269.5 238.1h.8v.8h-.8zM269.1 233.1h.8v.8h-.8zM261.5 259.9h.8v.8h-.8zM267.9 233.1h.8v.8h-.8zM268.4 249.2h.8v.8h-.8zM262.2 257.1h.8v.8h-.8zM270.0 231.7h.8v.8h-.8zM268.7 231.2h.8v.8h-.8zM267.4 247.6h.8v.8h-.8zM255.9 264.1h.8v.8h-.8zM266.4 251.1h.8v.8h-.8zM261.5 256.4h.8v.8h-.8zM267.6 240.4h.8v.8h-.8zM267.5 241.4h.8v.8h-.8zM266.7 247.1h.8v.8h-.8zM266.2 244.5h.8v.8h-.8zM264.6 251.4h.8v.8h-.8zM264.8 254.0h.8v.8h-.8zM260.2 259.3h.8v.8h-.8zM260.5 259.5h.8v.8h-.8zM261.2 259.9h.8v.8h-.8zM263.6 252.6h.8v.8h-.8zM268.0 239.1h.8v.8h-.8zM258.9 261.9h.8v.8h-.8zM255.2 264.5h.8v.8h-.8zM266.6 245.5h.8v.8h-.8zM258.5 263.3h.8v.8h-.8zM265.4 247.8h.8v.8h-.8zM264.2 253.7h.8v.8h-.8zM261.0 259.6h.8v.8h-.8zM271.7 231.1h.8v.8h-.8zM261.4 257.8h.8v.8h-.8zM266.2 248.0h.8v.8h-.8zM268.3 236.1h.8v.8h-.8zM263.9 253.7h.8v.8h-.8zM265.1 251.3h.8v.8h-.8zM268.9 240.7h.8v.8h-.8zM268.5 235.7h.8v.8h-.8zM270.4 232.1h.8v.8h-.8zM264.6 257.0h.8v.8h-.8zM257.5 263.9h.8v.8h-.8zM256.5 263.7h.8v.8h-.8zM260.1 261.2h.8v.8h-.8zM270.2 233.5h.8v.8h-.8zM264.2 251.3h.8v.8h-.8zM259.9 260.5h.8v.8h-.8zM263.6 253.3h.8v.8h-.8zM269.7 238.0h.8v.8h-.8zM268.7 242.6h.8v.8h-.8zM269.5 231.4h.8v.8h-.8zM268.4 237.8h.8v.8h-.8zM268.3 237.6h.8v.8h-.8zM267.4 247.4h.8v.8h-.8zM267.3 246.4h.8v.8h-.8zM268.3 243.5h.8v.8h-.8zM265.6 250.2h.8v.8h-.8zM267.0 247.3h.8v.8h-.8zM268.7 231.0h.8v.8h-.8zM270.9 238.1h.8v.8h-.8zM263.4 260.0h.8v.8h-.8zM268.1 236.3h.8v.8h-.8zM269.5 239.4h.8v.8h-.8zM270.9 238.4h.8v.8h-.8zM267.6 236.8h.8v.8h-.8zM263.9 252.7h.8v.8h-.8zM270.7 232.5h.8v.8h-.8zM264.0 256.8h.8v.8h-.8zM268.0 240.6h.8v.8h-.8zM269.1 232.6h.8v.8h-.8zM264.4 252.0h.8v.8h-.8zM263.3 253.6h.8v.8h-.8zM263.8 252.7h.8v.8h-.8zM270.4 234.6h.8v.8h-.8zM268.2 243.6h.8v.8h-.8zM263.1 255.9h.8v.8h-.8zM268.2 238.4h.8v.8h-.8zM266.8 248.4h.8v.8h-.8zM266.4 245.3h.8v.8h-.8zM268.7 232.9h.8v.8h-.8zM268.2 237.9h.8v.8h-.8zM268.6 236.4h.8v.8h-.8zM261.3 259.6h.8v.8h-.8zM268.8 235.5h.8v.8h-.8zM267.3 244.7h.8v.8h-.8zM262.2 258.7h.8v.8h-.8zM267.7 236.3h.8v.8h-.8zM268.0 235.3h.8v.8h-.8zM266.1 248.4h.8v.8h-.8zM268.6 233.0h.8v.8h-.8zM267.2 246.7h.8v.8h-.8zM266.1 246.4h.8v.8h-.8zM267.8 243.6h.8v.8h-.8zM267.5 242.7h.8v.8h-.8zM268.1 242.9h.8v.8h-.8zM256.8 264.0h.8v.8h-.8zM267.5 243.4h.8v.8h-.8zM261.0 261.4h.8v.8h-.8zM269.0 233.6h.8v.8h-.8zM259.8 260.0h.8v.8h-.8zM268.7 230.6h.8v.8h-.8zM270.0 232.2h.8v.8h-.8zM264.5 254.5h.8v.8h-.8zM262.8 258.6h.8v.8h-.8z" fill="#3a2c8a" opacity="0.85"/>
<rect x="206.5" y="166.2" width="106.7" height="106.7" fill="none" stroke="#231f20" stroke-width="1"/>
<line x1="203.90" y1="166.20" x2="206.50" y2="166.20" stroke="#231f20" stroke-width="0.9" />
<text x="200.90" y="168.10" font-size="6.8" text-anchor="end" textLength="10.20" lengthAdjust="spacingAndGlyphs" >100</text>
<line x1="313.20" y1="272.90" x2="313.20" y2="275.50" stroke="#231f20" stroke-width="0.9" />
<line x1="203.90" y1="192.88" x2="206.50" y2="192.88" stroke="#231f20" stroke-width="0.9" />
<text x="200.90" y="194.78" font-size="6.8" text-anchor="end" textLength="6.80" lengthAdjust="spacingAndGlyphs" >50</text>
<line x1="286.52" y1="272.90" x2="286.52" y2="275.50" stroke="#231f20" stroke-width="0.9" />
<line x1="203.90" y1="219.55" x2="206.50" y2="219.55" stroke="#231f20" stroke-width="0.9" />
<text x="200.90" y="221.45" font-size="6.8" text-anchor="end" textLength="3.40" lengthAdjust="spacingAndGlyphs" >0</text>
<line x1="259.85" y1="272.90" x2="259.85" y2="275.50" stroke="#231f20" stroke-width="0.9" />
<line x1="203.90" y1="246.22" x2="206.50" y2="246.22" stroke="#231f20" stroke-width="0.9" />
<text x="200.90" y="248.12" font-size="6.8" text-anchor="end" textLength="10.20" lengthAdjust="spacingAndGlyphs" >-50</text>
<line x1="233.18" y1="272.90" x2="233.18" y2="275.50" stroke="#231f20" stroke-width="0.9" />
<line x1="203.90" y1="272.90" x2="206.50" y2="272.90" stroke="#231f20" stroke-width="0.9" />
<text x="200.90" y="274.80" font-size="6.8" text-anchor="end" textLength="13.60" lengthAdjust="spacingAndGlyphs" >-100</text>
<line x1="206.50" y1="272.90" x2="206.50" y2="275.50" stroke="#231f20" stroke-width="0.9" />
<text x="206.50" y="284.60" font-size="6.8" text-anchor="middle" textLength="12.55" lengthAdjust="spacingAndGlyphs" >-100</text>
<text x="233.18" y="284.60" font-size="6.8" text-anchor="middle" textLength="9.10" lengthAdjust="spacingAndGlyphs" >-50</text>
<text x="259.85" y="284.60" font-size="6.8" text-anchor="middle" textLength="3.45" lengthAdjust="spacingAndGlyphs" >0</text>
<text x="286.52" y="284.60" font-size="6.8" text-anchor="middle" textLength="6.90" lengthAdjust="spacingAndGlyphs" >50</text>
<text x="313.20" y="284.60" font-size="6.8" text-anchor="middle" textLength="10.35" lengthAdjust="spacingAndGlyphs" >100</text>
<text x="259.70" y="160.60" font-size="8.6" text-anchor="middle" textLength="45.60" lengthAdjust="spacingAndGlyphs" >WM PC-like</text>
<text x="172.10" y="219.15" font-size="8.0" text-anchor="middle" textLength="102.00" lengthAdjust="spacingAndGlyphs" transform="rotate(-90 172.10 219.15)" >Methylation change in tumor cells</text>
<text x="182.60" y="219.40" font-size="8.0" text-anchor="middle" textLength="67.30" lengthAdjust="spacingAndGlyphs" transform="rotate(-90 182.60 219.40)" >(WM PC-like – NBC, %)</text>
<text x="260.50" y="296.10" font-size="8.0" text-anchor="middle" textLength="111.00" lengthAdjust="spacingAndGlyphs" >Methylation change in normal B cells</text>
<text x="260.10" y="306.30" font-size="8.0" text-anchor="middle" textLength="40.40" lengthAdjust="spacingAndGlyphs" >(PC – NBC, %)</text>
<rect x="318.1" y="203.7" width="7.5" height="6.5" fill="#3a2c8a"/>
<text x="328.90" y="209.10" font-size="6.9" textLength="41.30" lengthAdjust="spacingAndGlyphs" >Tumor-specific</text>
<text x="328.90" y="216.00" font-size="6.9" textLength="48.00" lengthAdjust="spacingAndGlyphs" >hypomethylation</text>
<text x="317.80" y="229.40" font-size="6.9" textLength="30.00" lengthAdjust="spacingAndGlyphs" >Frequency</text>
<rect x="318" y="235.4" width="6.8" height="33.4" fill="url(#freq)"/>
<line x1="318.00" y1="237.70" x2="319.30" y2="237.70" stroke="#fff" stroke-width="0.6" />
<line x1="323.50" y1="237.70" x2="324.80" y2="237.70" stroke="#fff" stroke-width="0.6" />
<line x1="318.00" y1="243.80" x2="319.30" y2="243.80" stroke="#fff" stroke-width="0.6" />
<line x1="323.50" y1="243.80" x2="324.80" y2="243.80" stroke="#fff" stroke-width="0.6" />
<line x1="318.00" y1="250.20" x2="319.30" y2="250.20" stroke="#fff" stroke-width="0.6" />
<line x1="323.50" y1="250.20" x2="324.80" y2="250.20" stroke="#fff" stroke-width="0.6" />
<line x1="318.00" y1="256.30" x2="319.30" y2="256.30" stroke="#fff" stroke-width="0.6" />
<line x1="323.50" y1="256.30" x2="324.80" y2="256.30" stroke="#fff" stroke-width="0.6" />
<line x1="318.00" y1="262.40" x2="319.30" y2="262.40" stroke="#fff" stroke-width="0.6" />
<line x1="323.50" y1="262.40" x2="324.80" y2="262.40" stroke="#fff" stroke-width="0.6" />
<text x="328.30" y="239.00" font-size="6.1" textLength="13.50" lengthAdjust="spacingAndGlyphs" >1024</text>
<text x="328.30" y="245.20" font-size="6.1" textLength="10.20" lengthAdjust="spacingAndGlyphs" >256</text>
<text x="328.30" y="251.20" font-size="6.1" textLength="6.80" lengthAdjust="spacingAndGlyphs" >64</text>
<text x="328.30" y="257.20" font-size="6.1" textLength="6.80" lengthAdjust="spacingAndGlyphs" >16</text>
<text x="328.30" y="263.40" font-size="6.1" textLength="3.40" lengthAdjust="spacingAndGlyphs" >4</text>
<text x="328.30" y="269.60" font-size="6.1" textLength="3.00" lengthAdjust="spacingAndGlyphs" >1</text>
<ellipse cx="429.13" cy="242.56" rx="45.63" ry="27.83" transform="rotate(40.53 429.13 242.56)" fill="rgb(211, 89, 103)" fill-opacity="0.324"/>
<ellipse cx="446.56" cy="225.64" rx="45.01" ry="27.79" transform="rotate(40.73 446.56 225.64)" fill="rgb(203, 95, 0)" fill-opacity="0.198"/>
<ellipse cx="446.33" cy="225.64" rx="45.01" ry="27.79" transform="rotate(-40.73 446.33 225.64)" fill="rgb(160, 211, 207)" fill-opacity="0.301"/>
<ellipse cx="463.76" cy="242.56" rx="45.63" ry="27.83" transform="rotate(-40.53 463.76 242.56)" fill="rgb(190, 129, 207)" fill-opacity="0.423"/>
<ellipse cx="429.13" cy="242.56" rx="45.63" ry="27.83" transform="rotate(40.53 429.13 242.56)" fill="none" stroke="#6e6468" stroke-opacity="0.55" stroke-width="0.6"/>
<ellipse cx="446.56" cy="225.64" rx="45.01" ry="27.79" transform="rotate(40.73 446.56 225.64)" fill="none" stroke="#6e6468" stroke-opacity="0.55" stroke-width="0.6"/>
<ellipse cx="446.33" cy="225.64" rx="45.01" ry="27.79" transform="rotate(-40.73 446.33 225.64)" fill="none" stroke="#6e6468" stroke-opacity="0.55" stroke-width="0.6"/>
<ellipse cx="463.76" cy="242.56" rx="45.63" ry="27.83" transform="rotate(-40.53 463.76 242.56)" fill="none" stroke="#6e6468" stroke-opacity="0.55" stroke-width="0.6"/>
<text x="425.20" y="198.50" font-size="4.7" text-anchor="middle" fill="#2b2326" textLength="8.88" lengthAdjust="spacingAndGlyphs" stroke="#2b2326" stroke-width="0.12">1803</text>
<text x="466.70" y="198.50" font-size="4.7" text-anchor="middle" fill="#2b2326" textLength="8.88" lengthAdjust="spacingAndGlyphs" stroke="#2b2326" stroke-width="0.12">6580</text>
<text x="446.80" y="205.00" font-size="4.7" text-anchor="middle" fill="#2b2326" textLength="8.88" lengthAdjust="spacingAndGlyphs" stroke="#2b2326" stroke-width="0.12">1353</text>
<text x="414.50" y="211.40" font-size="4.7" text-anchor="middle" fill="#2b2326" textLength="6.66" lengthAdjust="spacingAndGlyphs" stroke="#2b2326" stroke-width="0.12">249</text>
<text x="478.80" y="211.40" font-size="4.7" text-anchor="middle" fill="#2b2326" textLength="11.10" lengthAdjust="spacingAndGlyphs" stroke="#2b2326" stroke-width="0.12">47214</text>
<text x="402.10" y="220.90" font-size="4.7" text-anchor="middle" fill="#2b2326" textLength="8.88" lengthAdjust="spacingAndGlyphs" stroke="#2b2326" stroke-width="0.12">1770</text>
<text x="492.50" y="220.90" font-size="4.7" text-anchor="middle" fill="#2b2326" textLength="11.10" lengthAdjust="spacingAndGlyphs" stroke="#2b2326" stroke-width="0.12">54017</text>
<text x="427.40" y="222.80" font-size="4.7" text-anchor="middle" fill="#2b2326" textLength="8.88" lengthAdjust="spacingAndGlyphs" stroke="#2b2326" stroke-width="0.12">1464</text>
<text x="464.80" y="222.80" font-size="4.7" text-anchor="middle" fill="#2b2326" textLength="8.88" lengthAdjust="spacingAndGlyphs" stroke="#2b2326" stroke-width="0.12">2574</text>
<text x="446.85" y="238.00" font-size="4.7" text-anchor="middle" fill="#2b2326" textLength="8.88" lengthAdjust="spacingAndGlyphs" stroke="#2b2326" stroke-width="0.12">1521</text>
<text x="415.50" y="249.10" font-size="4.7" text-anchor="middle" fill="#2b2326" textLength="6.66" lengthAdjust="spacingAndGlyphs" stroke="#2b2326" stroke-width="0.12">816</text>
<text x="474.80" y="249.10" font-size="4.7" text-anchor="middle" fill="#2b2326" textLength="6.66" lengthAdjust="spacingAndGlyphs" stroke="#2b2326" stroke-width="0.12">119</text>
<text x="430.60" y="257.20" font-size="4.7" text-anchor="middle" fill="#2b2326" textLength="8.88" lengthAdjust="spacingAndGlyphs" stroke="#2b2326" stroke-width="0.12">1167</text>
<text x="461.30" y="257.20" font-size="4.7" text-anchor="middle" fill="#2b2326" textLength="4.44" lengthAdjust="spacingAndGlyphs" stroke="#2b2326" stroke-width="0.12">50</text>
<text x="446.00" y="272.60" font-size="4.7" text-anchor="middle" fill="#2b2326" textLength="6.66" lengthAdjust="spacingAndGlyphs" stroke="#2b2326" stroke-width="0.12">317</text>
<text x="425.10" y="178.20" font-size="4.5" text-anchor="middle" fill="#e59a45" textLength="26.70" lengthAdjust="spacingAndGlyphs" stroke="#e59a45" stroke-width="0.12">WM MBC-like</text>
<text x="425.10" y="183.10" font-size="4.5" text-anchor="middle" fill="#e59a45" textLength="13.30" lengthAdjust="spacingAndGlyphs" stroke="#e59a45" stroke-width="0.12">(9,133)</text>
<text x="467.70" y="178.20" font-size="4.5" text-anchor="middle" fill="#62a8dc" textLength="23.00" lengthAdjust="spacingAndGlyphs" stroke="#62a8dc" stroke-width="0.12">WM PC-like</text>
<text x="467.70" y="183.10" font-size="4.5" text-anchor="middle" fill="#62a8dc" textLength="15.40" lengthAdjust="spacingAndGlyphs" stroke="#62a8dc" stroke-width="0.12">(62,689)</text>
<text x="394.60" y="198.30" font-size="4.5" text-anchor="middle" fill="#c0405e" textLength="17.00" lengthAdjust="spacingAndGlyphs" stroke="#c0405e" stroke-width="0.12">CLL (HP)</text>
<text x="394.60" y="203.00" font-size="4.5" text-anchor="middle" fill="#c0405e" textLength="12.90" lengthAdjust="spacingAndGlyphs" stroke="#c0405e" stroke-width="0.12">(7,354)</text>
<text x="499.30" y="194.20" font-size="4.5" text-anchor="middle" fill="#7a5496" textLength="7.80" lengthAdjust="spacingAndGlyphs" stroke="#7a5496" stroke-width="0.12">MM</text>
<text x="499.30" y="199.80" font-size="4.5" text-anchor="middle" fill="#7a5496" textLength="18.20" lengthAdjust="spacingAndGlyphs" stroke="#7a5496" stroke-width="0.12">(106,979)</text>
<text x="81.30" y="377.40" font-size="7.0" text-anchor="end" textLength="57.90" lengthAdjust="spacingAndGlyphs" >Enhancer (TSS flank)</text>
<text x="81.30" y="388.68" font-size="7.0" text-anchor="end" textLength="47.20" lengthAdjust="spacingAndGlyphs" >Strong enhancer</text>
<text x="81.30" y="399.96" font-size="7.0" text-anchor="end" textLength="44.40" lengthAdjust="spacingAndGlyphs" >Weak enhancer</text>
<text x="81.30" y="411.24" font-size="7.0" text-anchor="end" textLength="46.70" lengthAdjust="spacingAndGlyphs" >Active promoter</text>
<text x="81.30" y="422.52" font-size="7.0" text-anchor="end" textLength="48.10" lengthAdjust="spacingAndGlyphs" >Poised promoter</text>
<text x="81.30" y="433.80" font-size="7.0" text-anchor="end" textLength="45.00" lengthAdjust="spacingAndGlyphs" >Weak promoter</text>
<text x="81.30" y="445.08" font-size="7.0" text-anchor="end" textLength="74.00" lengthAdjust="spacingAndGlyphs" >Transcriptional elongation</text>
<text x="81.30" y="456.36" font-size="7.0" text-anchor="end" textLength="70.10" lengthAdjust="spacingAndGlyphs" >Transcriptional transition</text>
<text x="81.30" y="467.64" font-size="7.0" text-anchor="end" textLength="53.60" lengthAdjust="spacingAndGlyphs" >Weak transcription</text>
<text x="81.30" y="478.92" font-size="7.0" text-anchor="end" textLength="58.30" lengthAdjust="spacingAndGlyphs" >Polycomb repressed</text>
<text x="81.30" y="490.20" font-size="7.0" text-anchor="end" textLength="48.40" lengthAdjust="spacingAndGlyphs" >Heterochromatin</text>
<text x="81.30" y="501.48" font-size="7.0" text-anchor="end" textLength="41.50" lengthAdjust="spacingAndGlyphs" >Quiescent/low</text>
<line x1="91.50" y1="368.50" x2="91.50" y2="504.50" stroke="#e0e0e0" stroke-width="0.7" stroke-dasharray="2 0.8"/>
<line x1="102.70" y1="368.50" x2="102.70" y2="504.50" stroke="#e0e0e0" stroke-width="0.7" stroke-dasharray="2 0.8"/>
<line x1="113.90" y1="368.50" x2="113.90" y2="504.50" stroke="#e0e0e0" stroke-width="0.7" stroke-dasharray="2 0.8"/>
<line x1="125.10" y1="368.50" x2="125.10" y2="504.50" stroke="#e0e0e0" stroke-width="0.7" stroke-dasharray="2 0.8"/>
<line x1="84.60" y1="375.00" x2="130.80" y2="375.00" stroke="#e0e0e0" stroke-width="0.7" stroke-dasharray="2 0.8"/>
<line x1="84.60" y1="386.28" x2="130.80" y2="386.28" stroke="#e0e0e0" stroke-width="0.7" stroke-dasharray="2 0.8"/>
<line x1="84.60" y1="397.56" x2="130.80" y2="397.56" stroke="#e0e0e0" stroke-width="0.7" stroke-dasharray="2 0.8"/>
<line x1="84.60" y1="408.84" x2="130.80" y2="408.84" stroke="#e0e0e0" stroke-width="0.7" stroke-dasharray="2 0.8"/>
<line x1="84.60" y1="420.12" x2="130.80" y2="420.12" stroke="#e0e0e0" stroke-width="0.7" stroke-dasharray="2 0.8"/>
<line x1="84.60" y1="431.40" x2="130.80" y2="431.40" stroke="#e0e0e0" stroke-width="0.7" stroke-dasharray="2 0.8"/>
<line x1="84.60" y1="442.68" x2="130.80" y2="442.68" stroke="#e0e0e0" stroke-width="0.7" stroke-dasharray="2 0.8"/>
<line x1="84.60" y1="453.96" x2="130.80" y2="453.96" stroke="#e0e0e0" stroke-width="0.7" stroke-dasharray="2 0.8"/>
<line x1="84.60" y1="465.24" x2="130.80" y2="465.24" stroke="#e0e0e0" stroke-width="0.7" stroke-dasharray="2 0.8"/>
<line x1="84.60" y1="476.52" x2="130.80" y2="476.52" stroke="#e0e0e0" stroke-width="0.7" stroke-dasharray="2 0.8"/>
<line x1="84.60" y1="487.80" x2="130.80" y2="487.80" stroke="#e0e0e0" stroke-width="0.7" stroke-dasharray="2 0.8"/>
<line x1="84.60" y1="499.08" x2="130.80" y2="499.08" stroke="#e0e0e0" stroke-width="0.7" stroke-dasharray="2 0.8"/>
<line x1="148.50" y1="368.50" x2="148.50" y2="504.50" stroke="#e0e0e0" stroke-width="0.7" stroke-dasharray="2 0.8"/>
<line x1="159.70" y1="368.50" x2="159.70" y2="504.50" stroke="#e0e0e0" stroke-width="0.7" stroke-dasharray="2 0.8"/>
<line x1="171.00" y1="368.50" x2="171.00" y2="504.50" stroke="#e0e0e0" stroke-width="0.7" stroke-dasharray="2 0.8"/>
<line x1="182.30" y1="368.50" x2="182.30" y2="504.50" stroke="#e0e0e0" stroke-width="0.7" stroke-dasharray="2 0.8"/>
<line x1="141.60" y1="375.00" x2="188.00" y2="375.00" stroke="#e0e0e0" stroke-width="0.7" stroke-dasharray="2 0.8"/>
<line x1="141.60" y1="386.28" x2="188.00" y2="386.28" stroke="#e0e0e0" stroke-width="0.7" stroke-dasharray="2 0.8"/>
<line x1="141.60" y1="397.56" x2="188.00" y2="397.56" stroke="#e0e0e0" stroke-width="0.7" stroke-dasharray="2 0.8"/>
<line x1="141.60" y1="408.84" x2="188.00" y2="408.84" stroke="#e0e0e0" stroke-width="0.7" stroke-dasharray="2 0.8"/>
<line x1="141.60" y1="420.12" x2="188.00" y2="420.12" stroke="#e0e0e0" stroke-width="0.7" stroke-dasharray="2 0.8"/>
<line x1="141.60" y1="431.40" x2="188.00" y2="431.40" stroke="#e0e0e0" stroke-width="0.7" stroke-dasharray="2 0.8"/>
<line x1="141.60" y1="442.68" x2="188.00" y2="442.68" stroke="#e0e0e0" stroke-width="0.7" stroke-dasharray="2 0.8"/>
<line x1="141.60" y1="453.96" x2="188.00" y2="453.96" stroke="#e0e0e0" stroke-width="0.7" stroke-dasharray="2 0.8"/>
<line x1="141.60" y1="465.24" x2="188.00" y2="465.24" stroke="#e0e0e0" stroke-width="0.7" stroke-dasharray="2 0.8"/>
<line x1="141.60" y1="476.52" x2="188.00" y2="476.52" stroke="#e0e0e0" stroke-width="0.7" stroke-dasharray="2 0.8"/>
<line x1="141.60" y1="487.80" x2="188.00" y2="487.80" stroke="#e0e0e0" stroke-width="0.7" stroke-dasharray="2 0.8"/>
<line x1="141.60" y1="499.08" x2="188.00" y2="499.08" stroke="#e0e0e0" stroke-width="0.7" stroke-dasharray="2 0.8"/>
<line x1="203.60" y1="368.50" x2="203.60" y2="504.50" stroke="#e0e0e0" stroke-width="0.7" stroke-dasharray="2 0.8"/>
<line x1="214.80" y1="368.50" x2="214.80" y2="504.50" stroke="#e0e0e0" stroke-width="0.7" stroke-dasharray="2 0.8"/>
<line x1="226.20" y1="368.50" x2="226.20" y2="504.50" stroke="#e0e0e0" stroke-width="0.7" stroke-dasharray="2 0.8"/>
<line x1="237.50" y1="368.50" x2="237.50" y2="504.50" stroke="#e0e0e0" stroke-width="0.7" stroke-dasharray="2 0.8"/>
<line x1="196.70" y1="375.00" x2="243.20" y2="375.00" stroke="#e0e0e0" stroke-width="0.7" stroke-dasharray="2 0.8"/>
<line x1="196.70" y1="386.28" x2="243.20" y2="386.28" stroke="#e0e0e0" stroke-width="0.7" stroke-dasharray="2 0.8"/>
<line x1="196.70" y1="397.56" x2="243.20" y2="397.56" stroke="#e0e0e0" stroke-width="0.7" stroke-dasharray="2 0.8"/>
<line x1="196.70" y1="408.84" x2="243.20" y2="408.84" stroke="#e0e0e0" stroke-width="0.7" stroke-dasharray="2 0.8"/>
<line x1="196.70" y1="420.12" x2="243.20" y2="420.12" stroke="#e0e0e0" stroke-width="0.7" stroke-dasharray="2 0.8"/>
<line x1="196.70" y1="431.40" x2="243.20" y2="431.40" stroke="#e0e0e0" stroke-width="0.7" stroke-dasharray="2 0.8"/>
<line x1="196.70" y1="442.68" x2="243.20" y2="442.68" stroke="#e0e0e0" stroke-width="0.7" stroke-dasharray="2 0.8"/>
<line x1="196.70" y1="453.96" x2="243.20" y2="453.96" stroke="#e0e0e0" stroke-width="0.7" stroke-dasharray="2 0.8"/>
<line x1="196.70" y1="465.24" x2="243.20" y2="465.24" stroke="#e0e0e0" stroke-width="0.7" stroke-dasharray="2 0.8"/>
<line x1="196.70" y1="476.52" x2="243.20" y2="476.52" stroke="#e0e0e0" stroke-width="0.7" stroke-dasharray="2 0.8"/>
<line x1="196.70" y1="487.80" x2="243.20" y2="487.80" stroke="#e0e0e0" stroke-width="0.7" stroke-dasharray="2 0.8"/>
<line x1="196.70" y1="499.08" x2="243.20" y2="499.08" stroke="#e0e0e0" stroke-width="0.7" stroke-dasharray="2 0.8"/>
<line x1="259.50" y1="368.50" x2="259.50" y2="504.50" stroke="#e0e0e0" stroke-width="0.7" stroke-dasharray="2 0.8"/>
<line x1="270.70" y1="368.50" x2="270.70" y2="504.50" stroke="#e0e0e0" stroke-width="0.7" stroke-dasharray="2 0.8"/>
<line x1="281.90" y1="368.50" x2="281.90" y2="504.50" stroke="#e0e0e0" stroke-width="0.7" stroke-dasharray="2 0.8"/>
<line x1="293.10" y1="368.50" x2="293.10" y2="504.50" stroke="#e0e0e0" stroke-width="0.7" stroke-dasharray="2 0.8"/>
<line x1="252.60" y1="375.00" x2="298.80" y2="375.00" stroke="#e0e0e0" stroke-width="0.7" stroke-dasharray="2 0.8"/>
<line x1="252.60" y1="386.28" x2="298.80" y2="386.28" stroke="#e0e0e0" stroke-width="0.7" stroke-dasharray="2 0.8"/>
<line x1="252.60" y1="397.56" x2="298.80" y2="397.56" stroke="#e0e0e0" stroke-width="0.7" stroke-dasharray="2 0.8"/>
<line x1="252.60" y1="408.84" x2="298.80" y2="408.84" stroke="#e0e0e0" stroke-width="0.7" stroke-dasharray="2 0.8"/>
<line x1="252.60" y1="420.12" x2="298.80" y2="420.12" stroke="#e0e0e0" stroke-width="0.7" stroke-dasharray="2 0.8"/>
<line x1="252.60" y1="431.40" x2="298.80" y2="431.40" stroke="#e0e0e0" stroke-width="0.7" stroke-dasharray="2 0.8"/>
<line x1="252.60" y1="442.68" x2="298.80" y2="442.68" stroke="#e0e0e0" stroke-width="0.7" stroke-dasharray="2 0.8"/>
<line x1="252.60" y1="453.96" x2="298.80" y2="453.96" stroke="#e0e0e0" stroke-width="0.7" stroke-dasharray="2 0.8"/>
<line x1="252.60" y1="465.24" x2="298.80" y2="465.24" stroke="#e0e0e0" stroke-width="0.7" stroke-dasharray="2 0.8"/>
<line x1="252.60" y1="476.52" x2="298.80" y2="476.52" stroke="#e0e0e0" stroke-width="0.7" stroke-dasharray="2 0.8"/>
<line x1="252.60" y1="487.80" x2="298.80" y2="487.80" stroke="#e0e0e0" stroke-width="0.7" stroke-dasharray="2 0.8"/>
<line x1="252.60" y1="499.08" x2="298.80" y2="499.08" stroke="#e0e0e0" stroke-width="0.7" stroke-dasharray="2 0.8"/>
<circle cx="91.50" cy="375.00" r="2.15" fill="#e8998a" stroke="#262626" stroke-width="0.7" />
<circle cx="102.70" cy="375.00" r="1.95" fill="#e8998a" stroke="#262626" stroke-width="0.7" />
<circle cx="113.90" cy="375.00" r="2.85" fill="#eba598" stroke="#262626" stroke-width="0.7" />
<circle cx="125.10" cy="375.00" r="1.65" fill="#e8998a" stroke="#262626" stroke-width="0.7" />
<circle cx="91.50" cy="386.28" r="2.35" fill="#c0503a" stroke="#262626" stroke-width="0.7" />
<circle cx="102.70" cy="386.28" r="1.55" fill="#c0503a" stroke="#262626" stroke-width="0.7" />
<circle cx="113.90" cy="386.28" r="3.70" fill="#c85a45" stroke="#262626" stroke-width="0.7" />
<circle cx="125.10" cy="386.28" r="1.95" fill="#c8604a" stroke="#262626" stroke-width="0.7" />
<circle cx="91.50" cy="397.56" r="4.10" fill="#d47a68" stroke="#262626" stroke-width="0.7" />
<circle cx="102.70" cy="397.56" r="4.10" fill="#d47a68" stroke="#262626" stroke-width="0.7" />
<circle cx="113.90" cy="397.56" r="4.10" fill="#d47a68" stroke="#262626" stroke-width="0.7" />
<circle cx="125.10" cy="397.56" r="4.10" fill="#d47a68" stroke="#262626" stroke-width="0.7" />
<circle cx="91.50" cy="408.84" r="1.45" fill="#7a5ca8" stroke="#262626" stroke-width="0.7" />
<circle cx="102.70" cy="408.84" r="1.50" fill="#7a5ca8" stroke="#262626" stroke-width="0.7" />
<circle cx="113.90" cy="408.84" r="1.30" fill="#7a5ca8" stroke="#262626" stroke-width="0.7" />
<circle cx="125.10" cy="408.84" r="1.10" fill="#7a5ca8" stroke="#262626" stroke-width="0.7" />
<circle cx="91.50" cy="420.12" r="0.90" fill="#cfcfd4" />
<circle cx="102.70" cy="420.12" r="0.90" fill="#cfcfd4" />
<circle cx="113.90" cy="420.12" r="0.90" fill="#cfcfd4" />
<circle cx="125.10" cy="420.12" r="0.90" fill="#cfcfd4" />
<circle cx="91.50" cy="431.40" r="2.25" fill="#f2c0b5" stroke="#262626" stroke-width="0.7" />
<circle cx="102.70" cy="431.40" r="2.85" fill="#e8a898" stroke="#262626" stroke-width="0.7" />
<circle cx="113.90" cy="431.40" r="2.05" fill="#f5c8ba" stroke="#262626" stroke-width="0.7" />
<circle cx="125.10" cy="431.40" r="1.95" fill="#f2c5b8" stroke="#262626" stroke-width="0.7" />
<circle cx="91.50" cy="442.68" r="2.25" fill="#c8b8e0" stroke="#262626" stroke-width="0.7" />
<circle cx="102.70" cy="442.68" r="2.65" fill="#c0b0e0" stroke="#262626" stroke-width="0.7" />
<circle cx="113.90" cy="442.68" r="2.35" fill="#c8b8e0" stroke="#262626" stroke-width="0.7" />
<circle cx="125.10" cy="442.68" r="2.15" fill="#d0c4e8" stroke="#262626" stroke-width="0.7" />
<circle cx="91.50" cy="453.96" r="3.05" fill="#e08878" stroke="#262626" stroke-width="0.7" />
<circle cx="102.70" cy="453.96" r="3.55" fill="#e08070" stroke="#262626" stroke-width="0.7" />
<circle cx="113.90" cy="453.96" r="2.75" fill="#e08878" stroke="#262626" stroke-width="0.7" />
<circle cx="125.10" cy="453.96" r="3.45" fill="#e08070" stroke="#262626" stroke-width="0.7" />
<circle cx="91.50" cy="465.24" r="0.90" fill="#cfcfd4" />
<circle cx="102.70" cy="465.24" r="0.90" fill="#cfcfd4" />
<circle cx="113.90" cy="465.24" r="0.90" fill="#cfcfd4" />
<circle cx="125.10" cy="465.24" r="1.05" fill="#ffffff" stroke="#262626" stroke-width="0.7" />
<circle cx="91.50" cy="476.52" r="3.05" fill="#8a70c0" stroke="#262626" stroke-width="0.7" />
<circle cx="102.70" cy="476.52" r="3.45" fill="#9a80c8" stroke="#262626" stroke-width="0.7" />
<circle cx="113.90" cy="476.52" r="3.35" fill="#7a60b0" stroke="#262626" stroke-width="0.7" />
<circle cx="125.10" cy="476.52" r="3.70" fill="#8060b8" stroke="#262626" stroke-width="0.7" />
<circle cx="91.50" cy="487.80" r="1.25" fill="#2a1a6a" stroke="#262626" stroke-width="0.7" />
<circle cx="102.70" cy="487.80" r="1.15" fill="#2a1a6a" stroke="#262626" stroke-width="0.7" />
<circle cx="113.90" cy="487.80" r="1.65" fill="#2a1a6a" stroke="#262626" stroke-width="0.7" />
<circle cx="125.10" cy="487.80" r="1.95" fill="#2a1a6a" stroke="#262626" stroke-width="0.7" />
<circle cx="91.50" cy="499.08" r="3.35" fill="#e8e0f5" stroke="#262626" stroke-width="0.7" />
<circle cx="102.70" cy="499.08" r="3.35" fill="#e8e0f5" stroke="#262626" stroke-width="0.7" />
<circle cx="113.90" cy="499.08" r="3.55" fill="#e8e0f5" stroke="#262626" stroke-width="0.7" />
<circle cx="125.10" cy="499.08" r="2.55" fill="#f0ecf8" stroke="#262626" stroke-width="0.7" />
<circle cx="148.50" cy="375.00" r="1.55" fill="#f5e0d8" stroke="#262626" stroke-width="0.7" />
<circle cx="159.70" cy="375.00" r="2.05" fill="#f2c0b0" stroke="#262626" stroke-width="0.7" />
<circle cx="171.00" cy="375.00" r="1.25" fill="#f0c8b8" stroke="#262626" stroke-width="0.7" />
<circle cx="182.30" cy="375.00" r="1.25" fill="#f8e8e0" stroke="#262626" stroke-width="0.7" />
<circle cx="148.50" cy="386.28" r="2.85" fill="#d87860" stroke="#262626" stroke-width="0.7" />
<circle cx="159.70" cy="386.28" r="3.55" fill="#d88068" stroke="#262626" stroke-width="0.7" />
<circle cx="171.00" cy="386.28" r="1.75" fill="#c86048" stroke="#262626" stroke-width="0.7" />
<circle cx="182.30" cy="386.28" r="1.05" fill="#d07058" stroke="#262626" stroke-width="0.7" />
<circle cx="148.50" cy="397.56" r="4.00" fill="#eba898" stroke="#262626" stroke-width="0.7" />
<circle cx="159.70" cy="397.56" r="2.75" fill="#e8a090" stroke="#262626" stroke-width="0.7" />
<circle cx="171.00" cy="397.56" r="4.00" fill="#eba898" stroke="#262626" stroke-width="0.7" />
<circle cx="182.30" cy="397.56" r="4.00" fill="#e49080" stroke="#262626" stroke-width="0.7" />
<circle cx="148.50" cy="408.84" r="3.05" fill="#3a2080" stroke="#262626" stroke-width="0.7" />
<circle cx="159.70" cy="408.84" r="2.45" fill="#3a2080" stroke="#262626" stroke-width="0.7" />
<circle cx="171.00" cy="408.84" r="2.55" fill="#3a2080" stroke="#262626" stroke-width="0.7" />
<circle cx="182.30" cy="408.84" r="2.55" fill="#3a2080" stroke="#262626" stroke-width="0.7" />
<circle cx="148.50" cy="420.12" r="1.75" fill="#3a2080" stroke="#262626" stroke-width="0.7" />
<circle cx="159.70" cy="420.12" r="1.65" fill="#c8b0e8" stroke="#262626" stroke-width="0.7" />
<circle cx="171.00" cy="420.12" r="1.65" fill="#4a2a90" stroke="#262626" stroke-width="0.7" />
<circle cx="182.30" cy="420.12" r="1.65" fill="#4a2a90" stroke="#262626" stroke-width="0.7" />
<circle cx="148.50" cy="431.40" r="1.15" fill="#ffffff" stroke="#262626" stroke-width="0.7" />
<circle cx="159.70" cy="431.40" r="1.15" fill="#ffffff" stroke="#262626" stroke-width="0.7" />
<circle cx="171.00" cy="431.40" r="1.30" fill="#ffffff" stroke="#262626" stroke-width="0.7" />
<circle cx="182.30" cy="431.40" r="1.75" fill="#fce8e0" stroke="#262626" stroke-width="0.7" />
<circle cx="148.50" cy="442.68" r="3.25" fill="#9a88cc" stroke="#262626" stroke-width="0.7" />
<circle cx="159.70" cy="442.68" r="2.85" fill="#a090d0" stroke="#262626" stroke-width="0.7" />
<circle cx="171.00" cy="442.68" r="2.75" fill="#a898d8" stroke="#262626" stroke-width="0.7" />
<circle cx="182.30" cy="442.68" r="3.35" fill="#9480c8" stroke="#262626" stroke-width="0.7" />
<circle cx="148.50" cy="453.96" r="2.55" fill="#e8a090" stroke="#262626" stroke-width="0.7" />
<circle cx="159.70" cy="453.96" r="2.35" fill="#e89a88" stroke="#262626" stroke-width="0.7" />
<circle cx="171.00" cy="453.96" r="2.55" fill="#e8a08c" stroke="#262626" stroke-width="0.7" />
<circle cx="182.30" cy="453.96" r="3.05" fill="#e08070" stroke="#262626" stroke-width="0.7" />
<circle cx="148.50" cy="465.24" r="1.05" fill="#ffffff" stroke="#262626" stroke-width="0.7" />
<circle cx="159.70" cy="465.24" r="0.90" fill="#cfcfd4" />
<circle cx="171.00" cy="465.24" r="1.05" fill="#ffffff" stroke="#262626" stroke-width="0.7" />
<circle cx="182.30" cy="465.24" r="1.05" fill="#ffffff" stroke="#262626" stroke-width="0.7" />
<circle cx="148.50" cy="476.52" r="2.35" fill="#d0c0ec" stroke="#262626" stroke-width="0.7" />
<circle cx="159.70" cy="476.52" r="2.85" fill="#b8a0e0" stroke="#262626" stroke-width="0.7" />
<circle cx="171.00" cy="476.52" r="2.75" fill="#b0a0e0" stroke="#262626" stroke-width="0.7" />
<circle cx="182.30" cy="476.52" r="3.25" fill="#a890d8" stroke="#262626" stroke-width="0.7" />
<circle cx="148.50" cy="487.80" r="1.55" fill="#6050a0" stroke="#262626" stroke-width="0.7" />
<circle cx="159.70" cy="487.80" r="1.25" fill="#6050a0" stroke="#262626" stroke-width="0.7" />
<circle cx="171.00" cy="487.80" r="1.45" fill="#5a4098" stroke="#262626" stroke-width="0.7" />
<circle cx="182.30" cy="487.80" r="1.25" fill="#2a1a70" stroke="#262626" stroke-width="0.7" />
<circle cx="148.50" cy="499.08" r="1.05" fill="#ffffff" stroke="#262626" stroke-width="0.7" />
<circle cx="159.70" cy="499.08" r="1.25" fill="#ffffff" stroke="#262626" stroke-width="0.7" />
<circle cx="171.00" cy="499.08" r="0.90" fill="#cfcfd4" />
<circle cx="182.30" cy="499.08" r="1.05" fill="#ffffff" stroke="#262626" stroke-width="0.7" />
<circle cx="203.60" cy="375.00" r="1.25" fill="#8a70c0" stroke="#262626" stroke-width="0.7" />
<circle cx="214.80" cy="375.00" r="1.25" fill="#b8a8d8" stroke="#262626" stroke-width="0.7" />
<circle cx="226.20" cy="375.00" r="0.90" fill="#cfcfd4" />
<circle cx="237.50" cy="375.00" r="1.15" fill="#6a50a0" stroke="#262626" stroke-width="0.7" />
<circle cx="203.60" cy="386.28" r="0.90" fill="#cfcfd4" />
<circle cx="214.80" cy="386.28" r="0.90" fill="#cfcfd4" />
<circle cx="226.20" cy="386.28" r="0.90" fill="#cfcfd4" />
<circle cx="237.50" cy="386.28" r="0.90" fill="#cfcfd4" />
<circle cx="203.60" cy="397.56" r="1.55" fill="#ffffff" stroke="#262626" stroke-width="0.7" />
<circle cx="214.80" cy="397.56" r="1.05" fill="#8888a0" stroke="#262626" stroke-width="0.7" />
<circle cx="226.20" cy="397.56" r="1.45" fill="#ffffff" stroke="#262626" stroke-width="0.7" />
<circle cx="237.50" cy="397.56" r="1.15" fill="#f0f0f4" stroke="#262626" stroke-width="0.7" />
<circle cx="203.60" cy="408.84" r="1.85" fill="#6a4ab0" stroke="#262626" stroke-width="0.7" />
<circle cx="214.80" cy="408.84" r="1.65" fill="#4a2a90" stroke="#262626" stroke-width="0.7" />
<circle cx="226.20" cy="408.84" r="1.65" fill="#5a3aa0" stroke="#262626" stroke-width="0.7" />
<circle cx="237.50" cy="408.84" r="1.65" fill="#6a4aa8" stroke="#262626" stroke-width="0.7" />
<circle cx="203.60" cy="420.12" r="1.15" fill="#404050" stroke="#262626" stroke-width="0.7" />
<circle cx="214.80" cy="420.12" r="1.25" fill="#9080c0" stroke="#262626" stroke-width="0.7" />
<circle cx="226.20" cy="420.12" r="1.05" fill="#1a1060" stroke="#262626" stroke-width="0.7" />
<circle cx="237.50" cy="420.12" r="1.05" fill="#1a1060" stroke="#262626" stroke-width="0.7" />
<circle cx="203.60" cy="431.40" r="1.65" fill="#b0a0e0" stroke="#262626" stroke-width="0.7" />
<circle cx="214.80" cy="431.40" r="1.55" fill="#8a70c0" stroke="#262626" stroke-width="0.7" />
<circle cx="226.20" cy="431.40" r="1.65" fill="#c0b0e8" stroke="#262626" stroke-width="0.7" />
<circle cx="237.50" cy="431.40" r="1.75" fill="#b8a8e0" stroke="#262626" stroke-width="0.7" />
<circle cx="203.60" cy="442.68" r="4.00" fill="#4a2a90" stroke="#262626" stroke-width="0.7" />
<circle cx="214.80" cy="442.68" r="4.00" fill="#4a2a90" stroke="#262626" stroke-width="0.7" />
<circle cx="226.20" cy="442.68" r="4.00" fill="#4a2a90" stroke="#262626" stroke-width="0.7" />
<circle cx="237.50" cy="442.68" r="4.00" fill="#4a2a90" stroke="#262626" stroke-width="0.7" />
<circle cx="203.60" cy="453.96" r="2.05" fill="#a890d8" stroke="#262626" stroke-width="0.7" />
<circle cx="214.80" cy="453.96" r="1.55" fill="#a088d0" stroke="#262626" stroke-width="0.7" />
<circle cx="226.20" cy="453.96" r="1.55" fill="#a890d8" stroke="#262626" stroke-width="0.7" />
<circle cx="237.50" cy="453.96" r="1.45" fill="#b0a0e0" stroke="#262626" stroke-width="0.7" />
<circle cx="203.60" cy="465.24" r="2.65" fill="#a080d0" stroke="#262626" stroke-width="0.7" />
<circle cx="214.80" cy="465.24" r="2.95" fill="#a080d0" stroke="#262626" stroke-width="0.7" />
<circle cx="226.20" cy="465.24" r="2.75" fill="#a080d0" stroke="#262626" stroke-width="0.7" />
<circle cx="237.50" cy="465.24" r="2.75" fill="#a890d8" stroke="#262626" stroke-width="0.7" />
<circle cx="203.60" cy="476.52" r="2.35" fill="#fce0d8" stroke="#262626" stroke-width="0.7" />
<circle cx="214.80" cy="476.52" r="1.85" fill="#fce8e0" stroke="#262626" stroke-width="0.7" />
<circle cx="226.20" cy="476.52" r="1.55" fill="#fcf0ec" stroke="#262626" stroke-width="0.7" />
<circle cx="237.50" cy="476.52" r="1.75" fill="#fce8e0" stroke="#262626" stroke-width="0.7" />
<circle cx="203.60" cy="487.80" r="1.05" fill="#7060a0" stroke="#262626" stroke-width="0.7" />
<circle cx="214.80" cy="487.80" r="0.90" fill="#cfcfd4" />
<circle cx="226.20" cy="487.80" r="0.90" fill="#cfcfd4" />
<circle cx="237.50" cy="487.80" r="0.90" fill="#cfcfd4" />
<circle cx="203.60" cy="499.08" r="4.20" fill="#f8ddd5" stroke="#262626" stroke-width="0.7" />
<circle cx="214.80" cy="499.08" r="4.20" fill="#f8ddd5" stroke="#262626" stroke-width="0.7" />
<circle cx="226.20" cy="499.08" r="4.10" fill="#f8ddd5" stroke="#262626" stroke-width="0.7" />
<circle cx="237.50" cy="499.08" r="4.10" fill="#f8ddd5" stroke="#262626" stroke-width="0.7" />
<circle cx="259.50" cy="375.00" r="2.15" fill="#5a3a9a" stroke="#262626" stroke-width="0.7" />
<circle cx="270.70" cy="375.00" r="2.05" fill="#8a70c0" stroke="#262626" stroke-width="0.7" />
<circle cx="281.90" cy="375.00" r="1.35" fill="#1a1060" stroke="#262626" stroke-width="0.7" />
<circle cx="293.10" cy="375.00" r="1.25" fill="#1a1060" stroke="#262626" stroke-width="0.7" />
<circle cx="259.50" cy="386.28" r="1.95" fill="#b8a8e0" stroke="#262626" stroke-width="0.7" />
<circle cx="270.70" cy="386.28" r="2.05" fill="#9a80c8" stroke="#262626" stroke-width="0.7" />
<circle cx="281.90" cy="386.28" r="1.05" fill="#7060a8" stroke="#262626" stroke-width="0.7" />
<circle cx="293.10" cy="386.28" r="1.05" fill="#3a2a80" stroke="#262626" stroke-width="0.7" />
<circle cx="259.50" cy="397.56" r="2.85" fill="#c8b8e8" stroke="#262626" stroke-width="0.7" />
<circle cx="270.70" cy="397.56" r="2.05" fill="#a890d8" stroke="#262626" stroke-width="0.7" />
<circle cx="281.90" cy="397.56" r="3.05" fill="#c0b0e8" stroke="#262626" stroke-width="0.7" />
<circle cx="293.10" cy="397.56" r="2.55" fill="#c0b0e8" stroke="#262626" stroke-width="0.7" />
<circle cx="259.50" cy="408.84" r="0.90" fill="#cfcfd4" />
<circle cx="270.70" cy="408.84" r="0.90" fill="#cfcfd4" />
<circle cx="281.90" cy="408.84" r="0.90" fill="#cfcfd4" />
<circle cx="293.10" cy="408.84" r="0.90" fill="#cfcfd4" />
<circle cx="259.50" cy="420.12" r="0.80" fill="#9a8cc8" />
<circle cx="270.70" cy="420.12" r="1.55" fill="#3a2080" stroke="#262626" stroke-width="0.7" />
<circle cx="281.90" cy="420.12" r="0.90" fill="#cfcfd4" />
<circle cx="293.10" cy="420.12" r="0.80" fill="#9a8cc8" />
<circle cx="259.50" cy="431.40" r="2.15" fill="#9a80c8" stroke="#262626" stroke-width="0.7" />
<circle cx="270.70" cy="431.40" r="1.75" fill="#b8a0e0" stroke="#262626" stroke-width="0.7" />
<circle cx="281.90" cy="431.40" r="2.35" fill="#8a70c0" stroke="#262626" stroke-width="0.7" />
<circle cx="293.10" cy="431.40" r="2.35" fill="#8a70c0" stroke="#262626" stroke-width="0.7" />
<circle cx="259.50" cy="442.68" r="3.90" fill="#6040a0" stroke="#262626" stroke-width="0.7" />
<circle cx="270.70" cy="442.68" r="3.90" fill="#6040a0" stroke="#262626" stroke-width="0.7" />
<circle cx="281.90" cy="442.68" r="3.80" fill="#6040a0" stroke="#262626" stroke-width="0.7" />
<circle cx="293.10" cy="442.68" r="3.80" fill="#6040a0" stroke="#262626" stroke-width="0.7" />
<circle cx="259.50" cy="453.96" r="2.65" fill="#6848a8" stroke="#262626" stroke-width="0.7" />
<circle cx="270.70" cy="453.96" r="1.95" fill="#9070c8" stroke="#262626" stroke-width="0.7" />
<circle cx="281.90" cy="453.96" r="2.05" fill="#9070c8" stroke="#262626" stroke-width="0.7" />
<circle cx="293.10" cy="453.96" r="2.55" fill="#5a3898" stroke="#262626" stroke-width="0.7" />
<circle cx="259.50" cy="465.24" r="3.15" fill="#a890d8" stroke="#262626" stroke-width="0.7" />
<circle cx="270.70" cy="465.24" r="4.00" fill="#a080d0" stroke="#262626" stroke-width="0.7" />
<circle cx="281.90" cy="465.24" r="3.45" fill="#a890d8" stroke="#262626" stroke-width="0.7" />
<circle cx="293.10" cy="465.24" r="3.35" fill="#a898d8" stroke="#262626" stroke-width="0.7" />
<circle cx="259.50" cy="476.52" r="3.80" fill="#e8aaa0" stroke="#262626" stroke-width="0.7" />
<circle cx="270.70" cy="476.52" r="3.80" fill="#ecb8ae" stroke="#262626" stroke-width="0.7" />
<circle cx="281.90" cy="476.52" r="3.35" fill="#ecb4a8" stroke="#262626" stroke-width="0.7" />
<circle cx="293.10" cy="476.52" r="3.80" fill="#ecb0a4" stroke="#262626" stroke-width="0.7" />
<circle cx="259.50" cy="487.80" r="1.05" fill="#ffffff" stroke="#262626" stroke-width="0.7" />
<circle cx="270.70" cy="487.80" r="0.90" fill="#cfcfd4" />
<circle cx="281.90" cy="487.80" r="1.05" fill="#8a8090" stroke="#262626" stroke-width="0.7" />
<circle cx="293.10" cy="487.80" r="0.90" fill="#cfcfd4" />
<circle cx="259.50" cy="499.08" r="3.90" fill="#f5d0c8" stroke="#262626" stroke-width="0.7" />
<circle cx="270.70" cy="499.08" r="3.90" fill="#f5d0c8" stroke="#262626" stroke-width="0.7" />
<circle cx="281.90" cy="499.08" r="3.90" fill="#f5d0c8" stroke="#262626" stroke-width="0.7" />
<circle cx="293.10" cy="499.08" r="3.90" fill="#f5d0c8" stroke="#262626" stroke-width="0.7" />
<text x="91.60" y="364.90" font-size="6.3" transform="rotate(-45 91.60 364.90)" >NBC</text>
<text x="102.80" y="364.90" font-size="6.3" transform="rotate(-45 102.80 364.90)" >ncsMBC</text>
<text x="114.00" y="364.90" font-size="6.3" transform="rotate(-45 114.00 364.90)" >csMBC</text>
<text x="125.20" y="364.90" font-size="6.3" transform="rotate(-45 125.20 364.90)" >PC</text>
<text x="148.60" y="364.90" font-size="6.3" transform="rotate(-45 148.60 364.90)" >NBC</text>
<text x="159.80" y="364.90" font-size="6.3" transform="rotate(-45 159.80 364.90)" >ncsMBC</text>
<text x="171.10" y="364.90" font-size="6.3" transform="rotate(-45 171.10 364.90)" >csMBC</text>
<text x="182.40" y="364.90" font-size="6.3" transform="rotate(-45 182.40 364.90)" >PC</text>
<text x="203.70" y="364.90" font-size="6.3" transform="rotate(-45 203.70 364.90)" >NBC</text>
<text x="214.90" y="364.90" font-size="6.3" transform="rotate(-45 214.90 364.90)" >ncsMBC</text>
<text x="226.30" y="364.90" font-size="6.3" transform="rotate(-45 226.30 364.90)" >csMBC</text>
<text x="237.60" y="364.90" font-size="6.3" transform="rotate(-45 237.60 364.90)" >PC</text>
<text x="259.60" y="364.90" font-size="6.3" transform="rotate(-45 259.60 364.90)" >NBC</text>
<text x="270.80" y="364.90" font-size="6.3" transform="rotate(-45 270.80 364.90)" >ncsMBC</text>
<text x="282.00" y="364.90" font-size="6.3" transform="rotate(-45 282.00 364.90)" >csMBC</text>
<text x="293.20" y="364.90" font-size="6.3" transform="rotate(-45 293.20 364.90)" >PC</text>
<line x1="90.30" y1="341.40" x2="129.00" y2="341.40" stroke="#6d6d6d" stroke-width="0.9" />
<line x1="146.40" y1="341.40" x2="185.30" y2="341.40" stroke="#6d6d6d" stroke-width="0.9" />
<line x1="202.00" y1="341.40" x2="240.60" y2="341.40" stroke="#6d6d6d" stroke-width="0.9" />
<line x1="257.00" y1="341.40" x2="295.20" y2="341.40" stroke="#6d6d6d" stroke-width="0.9" />
<text x="109.60" y="329.60" font-size="6.6" text-anchor="middle" textLength="10.80" lengthAdjust="spacingAndGlyphs" >CLL</text>
<text x="109.60" y="337.20" font-size="6.6" text-anchor="middle" textLength="12.00" lengthAdjust="spacingAndGlyphs" >(HP)</text>
<text x="166.60" y="329.60" font-size="6.6" text-anchor="middle" textLength="11.00" lengthAdjust="spacingAndGlyphs" >WM</text>
<text x="166.10" y="337.20" font-size="6.6" text-anchor="middle" textLength="26.00" lengthAdjust="spacingAndGlyphs" >MBC-like</text>
<text x="221.10" y="329.60" font-size="6.6" text-anchor="middle" textLength="11.00" lengthAdjust="spacingAndGlyphs" >WM</text>
<text x="221.10" y="337.20" font-size="6.6" text-anchor="middle" textLength="20.50" lengthAdjust="spacingAndGlyphs" >PC-like</text>
<text x="276.20" y="337.20" font-size="6.6" text-anchor="middle" textLength="11.00" lengthAdjust="spacingAndGlyphs" >MM</text>
<text x="314.50" y="358.80" font-size="6.4" textLength="12.60" lengthAdjust="spacingAndGlyphs" >Fold</text>
<text x="314.50" y="366.50" font-size="6.4" textLength="22.80" lengthAdjust="spacingAndGlyphs" >change:</text>
<text x="314.5" y="373.2" font-size="6.4">(log<tspan font-size="4" dy="1.2">2</tspan><tspan dy="-1.2">)</tspan></text>
<rect x="314.4" y="378.90" width="9.1" height="3.15" fill="#b84a30"/>
<rect x="314.4" y="382.00" width="9.1" height="3.15" fill="#c86048"/>
<rect x="314.4" y="385.10" width="9.1" height="3.15" fill="#d88068"/>
<rect x="314.4" y="388.20" width="9.1" height="3.15" fill="#e0a090"/>
<rect x="314.4" y="391.30" width="9.1" height="3.05" fill="#ecc0b5"/>
<rect x="314.4" y="394.30" width="9.1" height="3.05" fill="#f5dcd5"/>
<rect x="314.4" y="401.10" width="9.1" height="3.85" fill="#e0dcf0"/>
<rect x="314.4" y="404.90" width="9.1" height="3.85" fill="#c8bee4"/>
<rect x="314.4" y="408.70" width="9.1" height="3.85" fill="#a898d4"/>
<rect x="314.4" y="412.50" width="9.1" height="3.85" fill="#8068b8"/>
<rect x="314.4" y="416.30" width="9.1" height="3.85" fill="#503c9c"/>
<rect x="314.4" y="420.10" width="9.1" height="3.85" fill="#2a1c80"/>
<text x="326.80" y="385.80" font-size="6.1" >2</text>
<text x="326.80" y="393.80" font-size="6.1" >1</text>
<text x="326.80" y="401.30" font-size="6.1" >0</text>
<text x="326.60" y="408.90" font-size="6.1" >-1</text>
<text x="326.60" y="416.90" font-size="6.1" >-2</text>
<text x="326.60" y="424.40" font-size="6.1" >-3</text>
<text x="312.80" y="442.60" font-size="6.4" textLength="22.90" lengthAdjust="spacingAndGlyphs" >P-value:</text>
<text x="312.8" y="450.3" font-size="6.4">(-log<tspan font-size="4" dy="1.2">10</tspan><tspan dy="-1.2">)</tspan></text>
<circle cx="317.00" cy="458.30" r="1.90" fill="none" stroke="#2a2a2a" stroke-width="0.65" />
<text x="325.10" y="460.40" font-size="6.1" >25</text>
<circle cx="317.00" cy="466.40" r="2.85" fill="none" stroke="#2a2a2a" stroke-width="0.65" />
<text x="325.10" y="468.50" font-size="6.1" >50</text>
<circle cx="317.00" cy="475.60" r="3.55" fill="none" stroke="#2a2a2a" stroke-width="0.65" />
<text x="325.10" y="477.70" font-size="6.1" >100</text>
<circle cx="317.00" cy="486.20" r="4.30" fill="none" stroke="#2a2a2a" stroke-width="0.65" />
<text x="325.10" y="488.30" font-size="6.1" >150</text>
<circle cx="317.00" cy="498.30" r="4.70" fill="none" stroke="#2a2a2a" stroke-width="0.65" />
<text x="325.10" y="500.40" font-size="6.1" >200</text>
<text x="344.70" y="479.90" font-size="6.4" textLength="34.50" lengthAdjust="spacingAndGlyphs" >Significance</text>
<circle cx="347.00" cy="488.50" r="1.20" fill="none" stroke="#2a2a2a" stroke-width="0.6" />
<text x="351.80" y="490.40" font-size="6.3" >Yes</text>
<circle cx="347.00" cy="498.30" r="1.20" fill="none" stroke="#bbbbbb" stroke-width="0.6" />
<text x="351.80" y="500.30" font-size="6.3" >No</text>
<path d="M34.5,590.8 L34.5,545.8 L128.6,545.8 L128.6,590.8" fill="none" stroke="#231f20" stroke-width="1"/>
<path d="M34.5,596.5 L34.5,654.2 L128.6,654.2 L128.6,596.5" fill="none" stroke="#231f20" stroke-width="1"/>
<line x1="31.90" y1="592.10" x2="37.10" y2="589.80" stroke="#231f20" stroke-width="0.9" />
<line x1="31.90" y1="597.70" x2="37.10" y2="595.40" stroke="#231f20" stroke-width="0.9" />
<line x1="126.00" y1="592.10" x2="131.20" y2="589.80" stroke="#231f20" stroke-width="0.9" />
<line x1="126.00" y1="597.70" x2="131.20" y2="595.40" stroke="#231f20" stroke-width="0.9" />
<line x1="32.00" y1="550.40" x2="34.50" y2="550.40" stroke="#231f20" stroke-width="0.9" />
<text x="28.60" y="552.50" font-size="6.4" text-anchor="end" textLength="8.00" lengthAdjust="spacingAndGlyphs" >3.5</text>
<line x1="32.00" y1="584.80" x2="34.50" y2="584.80" stroke="#231f20" stroke-width="0.9" />
<text x="28.60" y="586.90" font-size="6.4" text-anchor="end" textLength="8.00" lengthAdjust="spacingAndGlyphs" >3.0</text>
<line x1="32.00" y1="611.20" x2="34.50" y2="611.20" stroke="#231f20" stroke-width="0.9" />
<text x="28.60" y="613.30" font-size="6.4" text-anchor="end" textLength="8.00" lengthAdjust="spacingAndGlyphs" >1.5</text>
<line x1="32.00" y1="645.40" x2="34.50" y2="645.40" stroke="#231f20" stroke-width="0.9" />
<text x="28.60" y="647.50" font-size="6.4" text-anchor="end" textLength="8.00" lengthAdjust="spacingAndGlyphs" >1.0</text>
<line x1="38.40" y1="654.20" x2="38.40" y2="656.70" stroke="#231f20" stroke-width="0.9" />
<text x="38.40" y="665.80" font-size="6.3" text-anchor="middle" textLength="3.45" lengthAdjust="spacingAndGlyphs" >0</text>
<line x1="55.66" y1="654.20" x2="55.66" y2="656.70" stroke="#231f20" stroke-width="0.9" />
<text x="55.66" y="665.80" font-size="6.3" text-anchor="middle" textLength="6.90" lengthAdjust="spacingAndGlyphs" >10</text>
<line x1="72.92" y1="654.20" x2="72.92" y2="656.70" stroke="#231f20" stroke-width="0.9" />
<text x="72.92" y="665.80" font-size="6.3" text-anchor="middle" textLength="6.90" lengthAdjust="spacingAndGlyphs" >20</text>
<line x1="90.18" y1="654.20" x2="90.18" y2="656.70" stroke="#231f20" stroke-width="0.9" />
<text x="90.18" y="665.80" font-size="6.3" text-anchor="middle" textLength="6.90" lengthAdjust="spacingAndGlyphs" >30</text>
<line x1="107.44" y1="654.20" x2="107.44" y2="656.70" stroke="#231f20" stroke-width="0.9" />
<text x="107.44" y="665.80" font-size="6.3" text-anchor="middle" textLength="6.90" lengthAdjust="spacingAndGlyphs" >40</text>
<line x1="124.70" y1="654.20" x2="124.70" y2="656.70" stroke="#231f20" stroke-width="0.9" />
<text x="124.70" y="665.80" font-size="6.3" text-anchor="middle" textLength="6.90" lengthAdjust="spacingAndGlyphs" >50</text>
<text x="81.75" y="540.60" font-size="8.6" text-anchor="middle" textLength="53.50" lengthAdjust="spacingAndGlyphs" >WM MBC-like</text>
<text x="80.70" y="677.30" font-size="7.9" text-anchor="middle" textLength="81.80" lengthAdjust="spacingAndGlyphs" >Percent of targets with motif</text>
<path d="M153.6,590.8 L153.6,545.8 L247.5,545.8 L247.5,590.8" fill="none" stroke="#231f20" stroke-width="1"/>
<path d="M153.6,596.5 L153.6,654.2 L247.5,654.2 L247.5,596.5" fill="none" stroke="#231f20" stroke-width="1"/>
<line x1="151.00" y1="592.10" x2="156.20" y2="589.80" stroke="#231f20" stroke-width="0.9" />
<line x1="151.00" y1="597.70" x2="156.20" y2="595.40" stroke="#231f20" stroke-width="0.9" />
<line x1="244.90" y1="592.10" x2="250.10" y2="589.80" stroke="#231f20" stroke-width="0.9" />
<line x1="244.90" y1="597.70" x2="250.10" y2="595.40" stroke="#231f20" stroke-width="0.9" />
<line x1="151.10" y1="550.40" x2="153.60" y2="550.40" stroke="#231f20" stroke-width="0.9" />
<text x="147.70" y="552.50" font-size="6.4" text-anchor="end" textLength="8.00" lengthAdjust="spacingAndGlyphs" >3.5</text>
<line x1="151.10" y1="584.80" x2="153.60" y2="584.80" stroke="#231f20" stroke-width="0.9" />
<text x="147.70" y="586.90" font-size="6.4" text-anchor="end" textLength="8.00" lengthAdjust="spacingAndGlyphs" >3.0</text>
<line x1="151.10" y1="611.20" x2="153.60" y2="611.20" stroke="#231f20" stroke-width="0.9" />
<text x="147.70" y="613.30" font-size="6.4" text-anchor="end" textLength="8.00" lengthAdjust="spacingAndGlyphs" >1.5</text>
<line x1="151.10" y1="645.40" x2="153.60" y2="645.40" stroke="#231f20" stroke-width="0.9" />
<text x="147.70" y="647.50" font-size="6.4" text-anchor="end" textLength="8.00" lengthAdjust="spacingAndGlyphs" >1.0</text>
<line x1="157.50" y1="654.20" x2="157.50" y2="656.70" stroke="#231f20" stroke-width="0.9" />
<text x="157.50" y="665.80" font-size="6.3" text-anchor="middle" textLength="3.45" lengthAdjust="spacingAndGlyphs" >0</text>
<line x1="174.66" y1="654.20" x2="174.66" y2="656.70" stroke="#231f20" stroke-width="0.9" />
<text x="174.66" y="665.80" font-size="6.3" text-anchor="middle" textLength="6.90" lengthAdjust="spacingAndGlyphs" >10</text>
<line x1="191.82" y1="654.20" x2="191.82" y2="656.70" stroke="#231f20" stroke-width="0.9" />
<text x="191.82" y="665.80" font-size="6.3" text-anchor="middle" textLength="6.90" lengthAdjust="spacingAndGlyphs" >20</text>
<line x1="208.98" y1="654.20" x2="208.98" y2="656.70" stroke="#231f20" stroke-width="0.9" />
<text x="208.98" y="665.80" font-size="6.3" text-anchor="middle" textLength="6.90" lengthAdjust="spacingAndGlyphs" >30</text>
<line x1="226.14" y1="654.20" x2="226.14" y2="656.70" stroke="#231f20" stroke-width="0.9" />
<text x="226.14" y="665.80" font-size="6.3" text-anchor="middle" textLength="6.90" lengthAdjust="spacingAndGlyphs" >40</text>
<line x1="243.30" y1="654.20" x2="243.30" y2="656.70" stroke="#231f20" stroke-width="0.9" />
<text x="243.30" y="665.80" font-size="6.3" text-anchor="middle" textLength="6.90" lengthAdjust="spacingAndGlyphs" >50</text>
<text x="200.80" y="540.60" font-size="8.6" text-anchor="middle" textLength="45.00" lengthAdjust="spacingAndGlyphs" >WM PC-like</text>
<text x="200.40" y="677.30" font-size="7.9" text-anchor="middle" textLength="84.20" lengthAdjust="spacingAndGlyphs" >Percent of targets with motif</text>
<text x="14.60" y="599.90" font-size="7.9" text-anchor="middle" textLength="49.40" lengthAdjust="spacingAndGlyphs" transform="rotate(-90 14.60 599.90)" >Fold enrichment</text>
<circle cx="42.30" cy="581.00" r="3.35" fill="#c8405e" stroke="#3a3a3a" stroke-width="0.35" fill-opacity="0.92" stroke-opacity="0.6"/>
<text x="46.30" y="578.20" font-size="4.5" fill="#333" textLength="9.60" lengthAdjust="spacingAndGlyphs" stroke="#333" stroke-width="0.18">HNF1b</text>
<circle cx="75.20" cy="614.80" r="4.10" fill="#e23aa8" stroke="#3a3a3a" stroke-width="0.35" fill-opacity="0.92" stroke-opacity="0.6"/>
<circle cx="71.20" cy="614.50" r="4.20" fill="#f0a030" stroke="#3a3a3a" stroke-width="0.35" fill-opacity="0.92" stroke-opacity="0.6"/>
<circle cx="71.00" cy="618.40" r="3.85" fill="#4a6aa8" stroke="#3a3a3a" stroke-width="0.35" fill-opacity="0.92" stroke-opacity="0.6"/>
<circle cx="71.20" cy="617.80" r="2.40" fill="#8a8098" opacity="0.6"/>
<text x="61.40" y="610.30" font-size="4.5" fill="#333" textLength="8.90" lengthAdjust="spacingAndGlyphs" stroke="#333" stroke-width="0.18">PU.1</text>
<text x="78.00" y="611.70" font-size="4.5" fill="#333" textLength="9.50" lengthAdjust="spacingAndGlyphs" stroke="#333" stroke-width="0.18">TCF3</text>
<text x="70.20" y="626.80" font-size="4.5" fill="#333" textLength="16.50" lengthAdjust="spacingAndGlyphs" stroke="#333" stroke-width="0.18">POU2F2</text>
<circle cx="41.70" cy="621.40" r="0.90" fill="#fff" stroke="#999" stroke-width="0.4" />
<text x="35.60" y="627.00" font-size="4.5" fill="#333" textLength="9.30" lengthAdjust="spacingAndGlyphs" stroke="#333" stroke-width="0.18">E2F1</text>
<circle cx="54.60" cy="627.10" r="1.95" fill="#5aa040" stroke="#3a3a3a" stroke-width="0.35" fill-opacity="0.92" stroke-opacity="0.6"/>
<circle cx="53.00" cy="627.10" r="1.95" fill="#3a5868" stroke="#3a3a3a" stroke-width="0.35" fill-opacity="0.92" stroke-opacity="0.6"/>
<text x="54.20" y="624.60" font-size="4.5" fill="#333" textLength="8.50" lengthAdjust="spacingAndGlyphs" stroke="#333" stroke-width="0.18">ZEB1</text>
<text x="36.00" y="632.60" font-size="4.5" fill="#333" textLength="15.40" lengthAdjust="spacingAndGlyphs" stroke="#333" stroke-width="0.18">BARHL2</text>
<circle cx="57.00" cy="630.90" r="1.80" fill="#9c8cd0" stroke="#3a3a3a" stroke-width="0.35" fill-opacity="0.92" stroke-opacity="0.6"/>
<circle cx="59.00" cy="630.90" r="1.25" fill="#70b040" stroke="#3a3a3a" stroke-width="0.35" fill-opacity="0.92" stroke-opacity="0.6"/>
<circle cx="61.10" cy="631.90" r="1.60" fill="#6a7890" stroke="#3a3a3a" stroke-width="0.35" fill-opacity="0.92" stroke-opacity="0.6"/>
<text x="59.80" y="629.00" font-size="4.5" fill="#333" textLength="7.70" lengthAdjust="spacingAndGlyphs" stroke="#333" stroke-width="0.18">DCE</text>
<text x="44.50" y="637.10" font-size="4.5" fill="#333" textLength="12.50" lengthAdjust="spacingAndGlyphs" stroke="#333" stroke-width="0.18">Zfp281</text>
<text x="59.80" y="637.60" font-size="4.5" fill="#333" textLength="16.20" lengthAdjust="spacingAndGlyphs" stroke="#333" stroke-width="0.18">BARHL2</text>
<circle cx="160.30" cy="597.20" r="2.50" fill="#e0309a" stroke="#3a3a3a" stroke-width="0.35" fill-opacity="0.92" stroke-opacity="0.6"/>
<text x="157.50" y="603.60" font-size="4.5" fill="#333" textLength="12.20" lengthAdjust="spacingAndGlyphs" stroke="#333" stroke-width="0.18">Isgf3g</text>
<circle cx="161.30" cy="610.20" r="2.10" fill="#7a5098" stroke="#3a3a3a" stroke-width="0.35" fill-opacity="0.92" stroke-opacity="0.6"/>
<text x="165.00" y="611.60" font-size="4.5" fill="#333" textLength="9.00" lengthAdjust="spacingAndGlyphs" stroke="#333" stroke-width="0.18">Spz1</text>
<circle cx="162.00" cy="618.70" r="1.85" fill="#b0a8e0" stroke="#3a3a3a" stroke-width="0.35" fill-opacity="0.92" stroke-opacity="0.6"/>
<text x="165.40" y="620.10" font-size="4.5" fill="#333" textLength="7.90" lengthAdjust="spacingAndGlyphs" stroke="#333" stroke-width="0.18">Hic1</text>
<circle cx="164.20" cy="626.80" r="1.85" fill="#4a70b0" stroke="#3a3a3a" stroke-width="0.35" fill-opacity="0.92" stroke-opacity="0.6"/>
<text x="156.30" y="625.40" font-size="4.5" fill="#333" textLength="5.70" lengthAdjust="spacingAndGlyphs" stroke="#333" stroke-width="0.18">Irf4</text>
<circle cx="167.60" cy="628.30" r="2.10" fill="#d8e0b8" stroke="#3a3a3a" stroke-width="0.35" fill-opacity="0.92" stroke-opacity="0.6"/>
<text x="170.00" y="627.40" font-size="4.5" fill="#333" textLength="9.00" lengthAdjust="spacingAndGlyphs" stroke="#333" stroke-width="0.18">Uncx</text>
<circle cx="161.30" cy="628.75" r="1.25" fill="#c02040" stroke="#3a3a3a" stroke-width="0.35" fill-opacity="0.92" stroke-opacity="0.6"/>
<text x="154.30" y="634.90" font-size="4.5" fill="#333" textLength="18.70" lengthAdjust="spacingAndGlyphs" stroke="#333" stroke-width="0.18">CEBP:AP1</text>
<circle cx="171.20" cy="637.30" r="1.75" fill="#408060" stroke="#3a3a3a" stroke-width="0.35" fill-opacity="0.92" stroke-opacity="0.6"/>
<text x="162.30" y="642.10" font-size="4.5" fill="#333" textLength="7.40" lengthAdjust="spacingAndGlyphs" stroke="#333" stroke-width="0.18">Myb</text>
<circle cx="178.60" cy="638.30" r="2.10" fill="#f0a040" stroke="#3a3a3a" stroke-width="0.35" fill-opacity="0.92" stroke-opacity="0.6"/>
<text x="173.60" y="644.40" font-size="4.5" fill="#333" textLength="4.60" lengthAdjust="spacingAndGlyphs" stroke="#333" stroke-width="0.18">Irf3</text>
<circle cx="187.30" cy="637.60" r="2.80" fill="#707888" stroke="#3a3a3a" stroke-width="0.35" fill-opacity="0.92" stroke-opacity="0.6"/>
<text x="177.40" y="634.90" font-size="4.5" fill="#333" textLength="22.60" lengthAdjust="spacingAndGlyphs" stroke="#333" stroke-width="0.18">ARNT::HIF1A</text>
<circle cx="194.00" cy="640.00" r="2.50" fill="#f0b8d8" stroke="#3a3a3a" stroke-width="0.35" fill-opacity="0.92" stroke-opacity="0.6"/>
<text x="190.20" y="646.90" font-size="4.5" fill="#333" textLength="7.80" lengthAdjust="spacingAndGlyphs" stroke="#333" stroke-width="0.18">SpiB</text>
<circle cx="207.30" cy="642.50" r="2.30" fill="#80c050" stroke="#3a3a3a" stroke-width="0.35" fill-opacity="0.92" stroke-opacity="0.6"/>
<text x="202.20" y="649.10" font-size="4.5" fill="#333" textLength="11.00" lengthAdjust="spacingAndGlyphs" stroke="#333" stroke-width="0.18">LIN54</text>
<circle cx="220.20" cy="643.10" r="2.30" fill="#e0e0e0" stroke="#3a3a3a" stroke-width="0.35" fill-opacity="0.92" stroke-opacity="0.6"/>
<text x="216.90" y="649.40" font-size="4.5" fill="#333" textLength="7.50" lengthAdjust="spacingAndGlyphs" stroke="#333" stroke-width="0.18">Bcl6</text>
<circle cx="224.80" cy="642.30" r="3.00" fill="#80c0f0" stroke="#3a3a3a" stroke-width="0.35" fill-opacity="0.92" stroke-opacity="0.6"/>
<text x="216.90" y="638.10" font-size="4.5" fill="#333" textLength="16.20" lengthAdjust="spacingAndGlyphs" stroke="#333" stroke-width="0.18">POU2F2</text>
<text x="258.70" y="591.80" font-size="6.5" textLength="22.80" lengthAdjust="spacingAndGlyphs" >P-value:</text>
<text x="258.7" y="599.2" font-size="6.5">(-log<tspan font-size="4" dy="1.2">10</tspan><tspan dy="-1.2">)</tspan></text>
<circle cx="264.40" cy="607.20" r="1.00" fill="none" stroke="#444" stroke-width="0.65" />
<text x="273.10" y="609.20" font-size="6.2" textLength="6.80" lengthAdjust="spacingAndGlyphs" >10</text>
<circle cx="264.40" cy="613.40" r="2.65" fill="none" stroke="#444" stroke-width="0.65" />
<text x="273.10" y="615.40" font-size="6.2" textLength="6.80" lengthAdjust="spacingAndGlyphs" >50</text>
<circle cx="264.40" cy="621.90" r="3.60" fill="none" stroke="#444" stroke-width="0.65" />
<text x="273.10" y="623.90" font-size="6.2" textLength="10.20" lengthAdjust="spacingAndGlyphs" >100</text>
<circle cx="264.40" cy="633.00" r="4.60" fill="none" stroke="#444" stroke-width="0.65" />
<text x="273.10" y="635.00" font-size="6.2" textLength="10.20" lengthAdjust="spacingAndGlyphs" >150</text>
<circle cx="264.40" cy="646.40" r="5.30" fill="none" stroke="#444" stroke-width="0.65" />
<text x="273.10" y="648.40" font-size="6.2" textLength="10.20" lengthAdjust="spacingAndGlyphs" >200</text>
<text x="295.80" y="568.60" font-size="6.8" textLength="14.50" lengthAdjust="spacingAndGlyphs" >Rank</text>
<text x="314.90" y="568.60" font-size="6.8" textLength="36.90" lengthAdjust="spacingAndGlyphs" >WM subtype</text>
<text x="355.10" y="568.60" font-size="6.8" textLength="15.20" lengthAdjust="spacingAndGlyphs" >Motif</text>
<text x="433.10" y="568.60" font-size="6.8" textLength="20.60" lengthAdjust="spacingAndGlyphs" >P-value</text>
<text x="457.90" y="568.60" font-size="6.8" textLength="31.70" lengthAdjust="spacingAndGlyphs" >Best match</text>
<text x="496.90" y="568.60" font-size="6.8" textLength="16.40" lengthAdjust="spacingAndGlyphs" >Score</text>
<line x1="295.70" y1="572.65" x2="513.30" y2="572.65" stroke="#4a4a4a" stroke-width="1.3" />
<text x="302.60" y="583.70" font-size="7.1" text-anchor="middle" >1</text>
<text x="315.80" y="583.70" font-size="7.1" textLength="26.10" lengthAdjust="spacingAndGlyphs" >MBC-like</text>
<text x="433.20" y="583.70" font-size="7.1" textLength="16.50" lengthAdjust="spacingAndGlyphs" >1x10</text>
<text x="449.70" y="579.70" font-size="4.0" textLength="3.90" lengthAdjust="spacingAndGlyphs" stroke="#231f20" stroke-width="0.12">-60</text>
<text x="459.70" y="583.70" font-size="7.1" textLength="15.00" lengthAdjust="spacingAndGlyphs" >TCF3</text>
<text x="496.70" y="583.70" font-size="7.1" textLength="12.80" lengthAdjust="spacingAndGlyphs" >0.98</text>
<text x="302.60" y="605.60" font-size="7.1" text-anchor="middle" >2</text>
<text x="315.80" y="605.60" font-size="7.1" textLength="26.10" lengthAdjust="spacingAndGlyphs" >MBC-like</text>
<text x="433.20" y="605.60" font-size="7.1" textLength="16.50" lengthAdjust="spacingAndGlyphs" >1x10</text>
<text x="449.70" y="601.60" font-size="4.0" textLength="3.90" lengthAdjust="spacingAndGlyphs" stroke="#231f20" stroke-width="0.12">-55</text>
<text x="459.70" y="605.60" font-size="7.1" textLength="13.20" lengthAdjust="spacingAndGlyphs" >PU.1</text>
<text x="496.70" y="605.60" font-size="7.1" textLength="12.80" lengthAdjust="spacingAndGlyphs" >0.95</text>
<text x="302.60" y="625.80" font-size="7.1" text-anchor="middle" >3</text>
<text x="315.80" y="625.80" font-size="7.1" textLength="26.10" lengthAdjust="spacingAndGlyphs" >MBC-like</text>
<text x="433.20" y="625.80" font-size="7.1" textLength="16.50" lengthAdjust="spacingAndGlyphs" >1x10</text>
<text x="449.70" y="621.80" font-size="4.0" textLength="3.90" lengthAdjust="spacingAndGlyphs" stroke="#231f20" stroke-width="0.12">-45</text>
<text x="459.70" y="625.80" font-size="7.1" textLength="24.20" lengthAdjust="spacingAndGlyphs" >POU2F2</text>
<text x="496.70" y="625.80" font-size="7.1" textLength="12.80" lengthAdjust="spacingAndGlyphs" >0.92</text>
<text x="302.60" y="646.80" font-size="7.1" text-anchor="middle" >4</text>
<text x="315.80" y="646.80" font-size="7.1" textLength="26.10" lengthAdjust="spacingAndGlyphs" >MBC-like</text>
<text x="433.20" y="646.80" font-size="7.1" textLength="16.50" lengthAdjust="spacingAndGlyphs" >1x10</text>
<text x="449.70" y="642.80" font-size="4.0" textLength="3.90" lengthAdjust="spacingAndGlyphs" stroke="#231f20" stroke-width="0.12">-38</text>
<text x="459.70" y="646.80" font-size="7.1" textLength="20.50" lengthAdjust="spacingAndGlyphs" >HNF1b</text>
<text x="496.70" y="646.80" font-size="7.1" textLength="12.80" lengthAdjust="spacingAndGlyphs" >0.98</text>
<text font-size="2048" font-weight="bold" fill="#2e9e3a" transform="matrix(0.003857 0 0 0.003066 355.553 581.260)">A</text>
<text font-size="2048" font-weight="bold" fill="#d8231f" transform="matrix(0.004395 0 0 0.003066 355.649 585.580)">T</text>
<text font-size="2048" font-weight="bold" fill="#24249a" transform="matrix(0.003958 0 0 0.001076 355.418 587.118)">C</text>
<text font-size="2048" font-weight="bold" fill="#f0a01e" transform="matrix(0.003835 0 0 0.001076 355.428 588.678)">G</text>
<text font-size="2048" font-weight="bold" fill="#2e9e3a" transform="matrix(0.003857 0 0 0.003662 361.353 582.220)">A</text>
<text font-size="2048" font-weight="bold" fill="#f0a01e" transform="matrix(0.003835 0 0 0.002317 361.228 585.534)">G</text>
<text font-size="2048" font-weight="bold" fill="#24249a" transform="matrix(0.003958 0 0 0.001076 361.218 587.118)">C</text>
<text font-size="2048" font-weight="bold" fill="#d8231f" transform="matrix(0.004395 0 0 0.001107 361.449 588.700)">T</text>
<text font-size="2048" font-weight="bold" fill="#24249a" transform="matrix(0.003958 0 0 0.008276 367.018 588.534)">C</text>
<text font-size="2048" font-weight="bold" fill="#2e9e3a" transform="matrix(0.003857 0 0 0.008176 372.953 588.700)">A</text>
<text font-size="2048" font-weight="bold" fill="#24249a" transform="matrix(0.003958 0 0 0.005793 378.618 585.824)">C</text>
<text font-size="2048" font-weight="bold" fill="#f0a01e" transform="matrix(0.003835 0 0 0.001903 378.628 588.662)">G</text>
<text font-size="2048" font-weight="bold" fill="#24249a" transform="matrix(0.003958 0 0 0.006455 384.418 587.131)">C</text>
<text font-size="2048" font-weight="bold" fill="#f0a01e" transform="matrix(0.003835 0 0 0.000993 384.428 588.680)">G</text>
<text font-size="2048" font-weight="bold" fill="#d8231f" transform="matrix(0.004395 0 0 0.007835 390.449 588.700)">T</text>
<text font-size="2048" font-weight="bold" fill="#f0a01e" transform="matrix(0.003835 0 0 0.007614 396.028 588.548)">G</text>
<text font-size="2048" font-weight="bold" fill="#24249a" transform="matrix(0.003958 0 0 0.003145 401.818 581.917)">C</text>
<text font-size="2048" font-weight="bold" fill="#f0a01e" transform="matrix(0.003835 0 0 0.002483 401.828 585.530)">G</text>
<text font-size="2048" font-weight="bold" fill="#d8231f" transform="matrix(0.004395 0 0 0.001533 402.049 587.740)">T</text>
<text font-size="2048" font-weight="bold" fill="#2e9e3a" transform="matrix(0.003857 0 0 0.000681 401.953 588.700)">A</text>
<text font-size="2048" font-weight="bold" fill="#f0a01e" transform="matrix(0.003835 0 0 0.002069 407.628 580.259)">G</text>
<text font-size="2048" font-weight="bold" fill="#2e9e3a" transform="matrix(0.003857 0 0 0.002555 407.753 583.900)">A</text>
<text font-size="2048" font-weight="bold" fill="#24249a" transform="matrix(0.003958 0 0 0.002069 407.618 586.859)">C</text>
<text font-size="2048" font-weight="bold" fill="#d8231f" transform="matrix(0.004395 0 0 0.001278 407.849 588.700)">T</text>
<text font-size="2048" font-weight="bold" fill="#2e9e3a" transform="matrix(0.003857 0 0 0.006586 356.553 607.512)">A</text>
<text font-size="2048" font-weight="bold" fill="#f0a01e" transform="matrix(0.003835 0 0 0.000800 356.428 608.656)">G</text>
<text font-size="2048" font-weight="bold" fill="#24249a" transform="matrix(0.003958 0 0 0.000640 356.418 609.587)">C</text>
<text font-size="2048" font-weight="bold" fill="#d8231f" transform="matrix(0.004395 0 0 0.006586 362.449 608.208)">T</text>
<text font-size="2048" font-weight="bold" fill="#f0a01e" transform="matrix(0.003835 0 0 0.000960 362.228 609.581)">G</text>
<text font-size="2048" font-weight="bold" fill="#f0a01e" transform="matrix(0.003835 0 0 0.006880 368.028 608.302)">G</text>
<text font-size="2048" font-weight="bold" fill="#d8231f" transform="matrix(0.004395 0 0 0.000823 368.249 609.600)">T</text>
<text font-size="2048" font-weight="bold" fill="#24249a" transform="matrix(0.003958 0 0 0.004320 373.818 604.874)">C</text>
<text font-size="2048" font-weight="bold" fill="#d8231f" transform="matrix(0.004395 0 0 0.002470 374.049 608.440)">T</text>
<text font-size="2048" font-weight="bold" fill="#f0a01e" transform="matrix(0.003835 0 0 0.000800 373.828 609.584)">G</text>
<text font-size="2048" font-weight="bold" fill="#2e9e3a" transform="matrix(0.003857 0 0 0.007739 379.753 609.600)">A</text>
<text font-size="2048" font-weight="bold" fill="#2e9e3a" transform="matrix(0.003857 0 0 0.007739 385.553 609.600)">A</text>
<text font-size="2048" font-weight="bold" fill="#2e9e3a" transform="matrix(0.003857 0 0 0.007739 391.353 609.600)">A</text>
<text font-size="2048" font-weight="bold" fill="#d8231f" transform="matrix(0.004395 0 0 0.003787 397.249 603.800)">T</text>
<text font-size="2048" font-weight="bold" fill="#2e9e3a" transform="matrix(0.003857 0 0 0.002964 397.153 607.976)">A</text>
<text font-size="2048" font-weight="bold" fill="#f0a01e" transform="matrix(0.003835 0 0 0.001120 397.028 609.578)">G</text>
<text font-size="2048" font-weight="bold" fill="#2e9e3a" transform="matrix(0.003857 0 0 0.002470 402.953 602.292)">A</text>
<text font-size="2048" font-weight="bold" fill="#d8231f" transform="matrix(0.004395 0 0 0.002223 403.049 605.424)">T</text>
<text font-size="2048" font-weight="bold" fill="#f0a01e" transform="matrix(0.003835 0 0 0.001600 402.828 607.712)">G</text>
<text font-size="2048" font-weight="bold" fill="#24249a" transform="matrix(0.003958 0 0 0.001280 402.818 609.574)">C</text>
<text font-size="2048" font-weight="bold" fill="#2e9e3a" transform="matrix(0.003857 0 0 0.003293 408.753 603.452)">A</text>
<text font-size="2048" font-weight="bold" fill="#f0a01e" transform="matrix(0.003835 0 0 0.001920 408.628 606.198)">G</text>
<text font-size="2048" font-weight="bold" fill="#24249a" transform="matrix(0.003958 0 0 0.001280 408.618 608.066)">C</text>
<text font-size="2048" font-weight="bold" fill="#d8231f" transform="matrix(0.004395 0 0 0.001070 408.849 609.600)">T</text>
<text font-size="2048" font-weight="bold" fill="#f0a01e" transform="matrix(0.003835 0 0 0.004248 356.128 624.835)">G</text>
<text font-size="2048" font-weight="bold" fill="#24249a" transform="matrix(0.003958 0 0 0.001699 356.118 627.350)">C</text>
<text font-size="2048" font-weight="bold" fill="#2e9e3a" transform="matrix(0.003857 0 0 0.001431 356.253 629.400)">A</text>
<text font-size="2048" font-weight="bold" fill="#2e9e3a" transform="matrix(0.003857 0 0 0.006757 362.053 628.280)">A</text>
<text font-size="2048" font-weight="bold" fill="#f0a01e" transform="matrix(0.003835 0 0 0.000772 361.928 629.385)">G</text>
<text font-size="2048" font-weight="bold" fill="#f0a01e" transform="matrix(0.003835 0 0 0.007338 367.728 629.253)">G</text>
<text font-size="2048" font-weight="bold" fill="#f0a01e" transform="matrix(0.003835 0 0 0.007338 373.528 629.253)">G</text>
<text font-size="2048" font-weight="bold" fill="#2e9e3a" transform="matrix(0.003857 0 0 0.007154 379.453 629.400)">A</text>
<text font-size="2048" font-weight="bold" fill="#2e9e3a" transform="matrix(0.003857 0 0 0.007154 385.253 629.400)">A</text>
<text font-size="2048" font-weight="bold" fill="#f0a01e" transform="matrix(0.003835 0 0 0.004789 390.928 625.720)">G</text>
<text font-size="2048" font-weight="bold" fill="#2e9e3a" transform="matrix(0.003857 0 0 0.001590 391.053 628.056)">A</text>
<text font-size="2048" font-weight="bold" fill="#24249a" transform="matrix(0.003958 0 0 0.000927 390.918 629.381)">C</text>
<text font-size="2048" font-weight="bold" fill="#d8231f" transform="matrix(0.004395 0 0 0.005564 396.949 626.936)">T</text>
<text font-size="2048" font-weight="bold" fill="#24249a" transform="matrix(0.003958 0 0 0.001699 396.718 629.366)">C</text>
<text font-size="2048" font-weight="bold" fill="#f0a01e" transform="matrix(0.003835 0 0 0.004248 402.528 625.171)">G</text>
<text font-size="2048" font-weight="bold" fill="#2e9e3a" transform="matrix(0.003857 0 0 0.001590 402.653 627.496)">A</text>
<text font-size="2048" font-weight="bold" fill="#24249a" transform="matrix(0.003958 0 0 0.001313 402.518 629.374)">C</text>
<text font-size="2048" font-weight="bold" fill="#2e9e3a" transform="matrix(0.003857 0 0 0.003021 408.453 623.576)">A</text>
<text font-size="2048" font-weight="bold" fill="#f0a01e" transform="matrix(0.003835 0 0 0.001699 408.328 626.006)">G</text>
<text font-size="2048" font-weight="bold" fill="#d8231f" transform="matrix(0.004395 0 0 0.001272 408.549 627.832)">T</text>
<text font-size="2048" font-weight="bold" fill="#24249a" transform="matrix(0.003958 0 0 0.001081 408.318 629.378)">C</text>
<text font-size="2048" font-weight="bold" fill="#f0a01e" transform="matrix(0.003835 0 0 0.006186 356.628 648.436)">G</text>
<text font-size="2048" font-weight="bold" fill="#2e9e3a" transform="matrix(0.003857 0 0 0.000653 356.753 649.480)">A</text>
<text font-size="2048" font-weight="bold" fill="#24249a" transform="matrix(0.003958 0 0 0.000634 356.618 650.387)">C</text>
<text font-size="2048" font-weight="bold" fill="#d8231f" transform="matrix(0.004395 0 0 0.006529 362.649 649.250)">T</text>
<text font-size="2048" font-weight="bold" fill="#2e9e3a" transform="matrix(0.003857 0 0 0.000816 362.553 650.400)">A</text>
<text font-size="2048" font-weight="bold" fill="#d8231f" transform="matrix(0.004395 0 0 0.006529 368.449 649.250)">T</text>
<text font-size="2048" font-weight="bold" fill="#2e9e3a" transform="matrix(0.003857 0 0 0.000816 368.353 650.400)">A</text>
<text font-size="2048" font-weight="bold" fill="#2e9e3a" transform="matrix(0.003857 0 0 0.006938 374.153 649.480)">A</text>
<text font-size="2048" font-weight="bold" fill="#d8231f" transform="matrix(0.004395 0 0 0.000653 374.249 650.400)">T</text>
<text font-size="2048" font-weight="bold" fill="#2e9e3a" transform="matrix(0.003857 0 0 0.006938 379.953 649.480)">A</text>
<text font-size="2048" font-weight="bold" fill="#24249a" transform="matrix(0.003958 0 0 0.000634 379.818 650.387)">C</text>
<text font-size="2048" font-weight="bold" fill="#d8231f" transform="matrix(0.004395 0 0 0.006529 385.849 649.250)">T</text>
<text font-size="2048" font-weight="bold" fill="#2e9e3a" transform="matrix(0.003857 0 0 0.000816 385.753 650.400)">A</text>
<text font-size="2048" font-weight="bold" fill="#24249a" transform="matrix(0.003958 0 0 0.003807 391.418 645.034)">C</text>
<text font-size="2048" font-weight="bold" fill="#f0a01e" transform="matrix(0.003835 0 0 0.001586 391.428 647.378)">G</text>
<text font-size="2048" font-weight="bold" fill="#d8231f" transform="matrix(0.004395 0 0 0.000979 391.649 648.790)">T</text>
<text font-size="2048" font-weight="bold" fill="#2e9e3a" transform="matrix(0.003857 0 0 0.001143 391.553 650.400)">A</text>
<text font-size="2048" font-weight="bold" fill="#2e9e3a" transform="matrix(0.003857 0 0 0.006693 397.353 649.250)">A</text>
<text font-size="2048" font-weight="bold" fill="#d8231f" transform="matrix(0.004395 0 0 0.000816 397.449 650.400)">T</text>
<text font-size="2048" font-weight="bold" fill="#d8231f" transform="matrix(0.004395 0 0 0.006529 403.249 649.250)">T</text>
<text font-size="2048" font-weight="bold" fill="#f0a01e" transform="matrix(0.003835 0 0 0.000793 403.028 650.384)">G</text>
<text font-size="2048" font-weight="bold" fill="#d8231f" transform="matrix(0.004395 0 0 0.006529 409.049 649.250)">T</text>
<text font-size="2048" font-weight="bold" fill="#f0a01e" transform="matrix(0.003835 0 0 0.000793 408.828 650.384)">G</text>
<text font-size="2048" font-weight="bold" fill="#2e9e3a" transform="matrix(0.003857 0 0 0.006693 414.753 649.480)">A</text>
<text font-size="2048" font-weight="bold" fill="#24249a" transform="matrix(0.003958 0 0 0.000634 414.618 650.387)">C</text>
<text font-size="2048" font-weight="bold" fill="#2e9e3a" transform="matrix(0.003857 0 0 0.006693 420.553 649.480)">A</text>
<text font-size="2048" font-weight="bold" fill="#24249a" transform="matrix(0.003958 0 0 0.000634 420.418 650.387)">C</text>
<rect x="0.6" y="0.6" width="518.8" height="685.8" fill="none" stroke="#000" stroke-width="1.3"/>
</svg>
</body></html>
